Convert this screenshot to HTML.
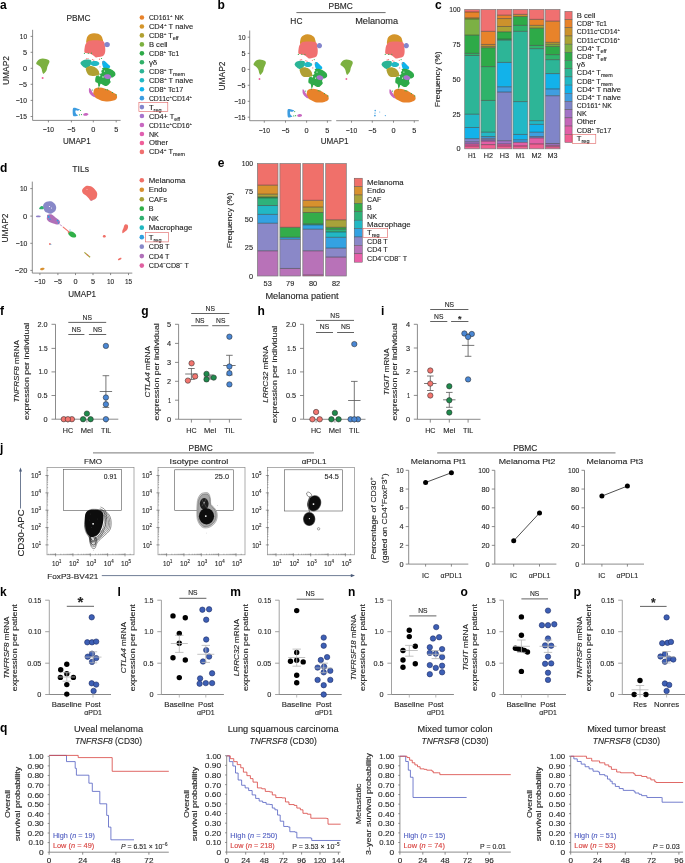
<!DOCTYPE html>
<html><head><meta charset="utf-8"><title>Figure</title>
<style>
html,body{margin:0;padding:0;background:#fff;width:685px;height:863px;overflow:hidden}
svg{display:block;will-change:transform}
text{font-family:"Liberation Sans",sans-serif}
</style></head><body>
<svg width="685" height="863" viewBox="0 0 685 863" font-family="Liberation Sans, sans-serif" fill="#262626">
<defs><filter id="rough" x="-10%" y="-10%" width="120%" height="120%"><feTurbulence type="fractalNoise" baseFrequency="1.6" numOctaves="1" seed="3" result="n"/><feDisplacementMap in="SourceGraphic" in2="n" scale="1.3" xChannelSelector="R" yChannelSelector="G"/></filter></defs>
<rect width="685" height="863" fill="#fff"/>
<text x="0.00" y="8.90" font-size="12" font-weight="bold" fill="#000">a</text>
<text x="78.50" y="21.35" font-size="8.20" textLength="24.17" lengthAdjust="spacingAndGlyphs" stroke="#262626" stroke-width="0.12" text-anchor="middle">PBMC</text>
<g filter="url(#rough)"><path d="M86.90,43.30 C85.50,42.72 86.45,40.22 86.60,39.00 C86.75,37.78 87.18,36.82 87.80,36.00 C88.42,35.18 89.28,34.57 90.30,34.10 C91.32,33.63 92.58,33.25 93.90,33.20 C95.22,33.15 96.97,33.33 98.20,33.80 C99.43,34.27 100.58,35.18 101.30,36.00 C102.02,36.82 102.30,37.77 102.50,38.70 C102.70,39.63 103.75,40.97 102.50,41.60 C101.25,42.23 97.60,42.22 95.00,42.50 C92.40,42.78 88.30,43.88 86.90,43.30Z" fill="#d4952a"/>
<path d="M87.20,42.10 C88.02,41.43 88.77,40.90 90.30,40.60 C91.83,40.30 94.37,40.25 96.40,40.30 C98.43,40.35 101.17,40.50 102.50,40.90 C103.83,41.30 103.98,41.78 104.40,42.70 C104.82,43.62 104.85,45.17 105.00,46.40 C105.15,47.63 105.35,48.87 105.30,50.10 C105.25,51.33 105.17,52.78 104.70,53.80 C104.23,54.82 103.58,55.65 102.50,56.20 C101.42,56.75 99.32,56.90 98.20,57.10 C97.08,57.30 96.62,57.65 95.80,57.40 C94.98,57.15 94.22,56.20 93.30,55.60 C92.38,55.00 91.52,54.22 90.30,53.80 C89.08,53.38 86.98,53.42 86.00,53.10 C85.02,52.78 84.62,52.82 84.40,51.90 C84.18,50.98 84.53,48.82 84.70,47.60 C84.87,46.38 84.98,45.52 85.40,44.60 C85.82,43.68 86.38,42.77 87.20,42.10Z" fill="#f07070"/>
<path d="M109.90,44.60 C109.90,45.11 109.69,45.72 109.37,46.13 C109.04,46.54 108.49,46.92 107.97,47.07 C107.44,47.23 106.76,47.23 106.23,47.07 C105.71,46.92 105.16,46.54 104.83,46.13 C104.51,45.72 104.30,45.11 104.30,44.60 C104.30,44.09 104.51,43.48 104.83,43.07 C105.16,42.66 105.71,42.28 106.23,42.13 C106.76,41.97 107.44,41.97 107.97,42.13 C108.49,42.28 109.04,42.66 109.37,43.07 C109.69,43.48 109.90,44.09 109.90,44.60Z" fill="#8385cc"/>
<path d="M80.80,62.30 C81.20,61.78 81.83,60.95 82.90,60.50 C83.97,60.05 85.87,59.65 87.20,59.60 C88.53,59.55 90.18,59.75 90.90,60.20 C91.62,60.65 91.60,61.43 91.50,62.30 C91.40,63.17 90.82,64.58 90.30,65.40 C89.78,66.22 89.22,66.78 88.40,67.20 C87.58,67.62 86.42,68.10 85.40,67.90 C84.38,67.70 83.12,66.72 82.30,66.00 C81.48,65.28 80.75,64.22 80.50,63.60 C80.25,62.98 80.40,62.82 80.80,62.30Z" fill="#2cb496"/>
<path d="M99.30,63.50 C99.30,63.92 99.07,64.39 98.70,64.75 C98.32,65.11 97.70,65.46 97.05,65.67 C96.40,65.87 95.55,66.00 94.80,66.00 C94.05,66.00 93.20,65.87 92.55,65.67 C91.90,65.46 91.28,65.11 90.90,64.75 C90.53,64.39 90.30,63.92 90.30,63.50 C90.30,63.08 90.53,62.61 90.90,62.25 C91.28,61.89 91.90,61.54 92.55,61.33 C93.20,61.13 94.05,61.00 94.80,61.00 C95.55,61.00 96.40,61.13 97.05,61.33 C97.70,61.54 98.32,61.89 98.70,62.25 C99.07,62.61 99.30,63.08 99.30,63.50Z" fill="#22b8c4"/>
<path d="M102.10,61.80 C102.40,60.93 103.58,60.58 104.50,60.90 C105.42,61.22 106.68,62.83 107.60,63.70 C108.52,64.57 109.70,65.38 110.00,66.10 C110.30,66.82 110.32,67.58 109.40,68.00 C108.48,68.42 105.62,68.92 104.50,68.60 C103.38,68.28 103.10,67.23 102.70,66.10 C102.30,64.97 101.80,62.67 102.10,61.80Z" fill="#10b4ec"/>
<path d="M102.70,68.00 C103.67,67.70 106.07,67.70 107.60,68.00 C109.13,68.30 110.68,69.08 111.90,69.80 C113.12,70.52 114.33,71.38 114.90,72.30 C115.47,73.22 115.60,74.48 115.30,75.30 C115.00,76.12 113.87,76.78 113.10,77.20 C112.33,77.62 111.22,77.30 110.70,77.80 C110.18,78.30 110.00,79.48 110.00,80.20 C110.00,80.92 110.90,81.38 110.70,82.10 C110.50,82.82 109.42,83.88 108.80,84.50 C108.18,85.12 107.72,85.58 107.00,85.80 C106.28,86.02 105.53,86.13 104.50,85.80 C103.47,85.47 101.58,83.73 100.80,83.80 C100.02,83.87 100.20,85.73 99.80,86.20 C99.40,86.67 98.73,87.08 98.40,86.60 C98.07,86.12 98.32,84.15 97.80,83.30 C97.28,82.45 95.62,82.62 95.30,81.50 C94.98,80.38 95.38,77.63 95.90,76.60 C96.42,75.57 97.58,76.02 98.40,75.30 C99.22,74.58 100.23,73.22 100.80,72.30 C101.37,71.38 101.48,70.52 101.80,69.80 C102.12,69.08 101.73,68.30 102.70,68.00Z" fill="#2eaa48"/>
<path d="M86.10,68.00 C86.82,67.28 88.87,66.20 90.40,66.10 C91.93,66.00 93.97,66.68 95.30,67.40 C96.63,68.12 97.68,69.28 98.40,70.40 C99.12,71.52 99.70,73.28 99.60,74.10 C99.50,74.92 98.72,75.00 97.80,75.30 C96.88,75.60 95.43,75.85 94.10,75.90 C92.77,75.95 90.92,76.00 89.80,75.60 C88.68,75.20 88.02,74.37 87.40,73.50 C86.78,72.63 86.32,71.32 86.10,70.40 C85.88,69.48 85.38,68.72 86.10,68.00Z" fill="#b0a030"/>
<path d="M111.24,77.24 C111.16,77.71 110.79,78.21 110.30,78.51 C109.82,78.81 109.03,79.02 108.33,79.05 C107.63,79.07 106.73,78.91 106.08,78.65 C105.42,78.39 104.76,77.92 104.41,77.47 C104.05,77.02 103.87,76.42 103.96,75.96 C104.04,75.49 104.41,74.99 104.90,74.69 C105.38,74.39 106.17,74.18 106.87,74.15 C107.57,74.13 108.47,74.29 109.12,74.55 C109.78,74.81 110.44,75.28 110.79,75.73 C111.15,76.18 111.33,76.78 111.24,77.24Z" fill="#a874cc"/>
<path d="M94.70,88.80 C95.72,88.08 97.97,87.65 99.60,87.60 C101.23,87.55 102.97,88.10 104.50,88.50 C106.03,88.90 107.37,89.33 108.80,90.00 C110.23,90.67 111.87,91.78 113.10,92.50 C114.33,93.22 115.53,93.58 116.20,94.30 C116.87,95.02 117.10,95.98 117.10,96.80 C117.10,97.62 116.97,98.53 116.20,99.20 C115.43,99.87 113.93,100.43 112.50,100.80 C111.07,101.17 109.23,101.35 107.60,101.40 C105.97,101.45 104.23,101.47 102.70,101.10 C101.17,100.73 99.63,99.82 98.40,99.20 C97.17,98.58 96.17,98.10 95.30,97.40 C94.43,96.70 93.50,95.92 93.20,95.00 C92.90,94.08 93.25,92.93 93.50,91.90 C93.75,90.87 93.68,89.52 94.70,88.80Z" fill="#e8822a"/>
<path d="M89.20,88.20 C89.45,88.00 89.88,88.18 90.40,88.80 C90.92,89.42 91.58,90.77 92.30,91.90 C93.02,93.03 94.20,94.73 94.70,95.60 C95.20,96.47 95.50,96.90 95.30,97.10 C95.10,97.30 94.22,97.15 93.50,96.80 C92.78,96.45 91.72,95.72 91.00,95.00 C90.28,94.28 89.55,93.33 89.20,92.50 C88.85,91.67 88.90,90.72 88.90,90.00 C88.90,89.28 88.95,88.40 89.20,88.20Z" fill="#c868c0"/>
<path d="M36.20,63.40 C36.20,62.78 36.95,61.70 37.50,61.00 C38.05,60.30 38.63,59.62 39.50,59.20 C40.37,58.78 41.62,58.53 42.70,58.50 C43.78,58.47 45.02,58.75 46.00,59.00 C46.98,59.25 48.02,59.53 48.60,60.00 C49.18,60.47 49.50,61.12 49.50,61.80 C49.50,62.48 48.97,63.23 48.60,64.10 C48.23,64.97 47.63,65.98 47.30,67.00 C46.97,68.02 46.98,69.28 46.60,70.20 C46.22,71.12 45.53,71.90 45.00,72.50 C44.47,73.10 43.83,73.85 43.40,73.80 C42.97,73.75 42.73,73.07 42.40,72.20 C42.07,71.33 41.83,69.58 41.40,68.60 C40.97,67.62 40.45,66.95 39.80,66.30 C39.15,65.65 38.10,65.18 37.50,64.70 C36.90,64.22 36.20,64.02 36.20,63.40Z" fill="#7cb040"/>
<circle cx="42.6" cy="78" r="1.0" fill="#f0609a"/>
<path d="M73.00,108.50 C73.38,107.72 74.33,107.80 75.00,107.80 C75.67,107.80 76.18,108.22 77.00,108.50 C77.82,108.78 79.73,109.15 79.90,109.50 C80.07,109.85 78.68,110.45 78.00,110.60 C77.32,110.75 76.23,110.17 75.80,110.40 C75.37,110.63 75.33,111.40 75.40,112.00 C75.47,112.60 75.77,113.42 76.20,114.00 C76.63,114.58 78.20,115.12 78.00,115.50 C77.80,115.88 75.80,116.25 75.00,116.30 C74.20,116.35 73.58,116.43 73.20,115.80 C72.82,115.17 72.73,113.72 72.70,112.50 C72.67,111.28 72.62,109.28 73.00,108.50Z" fill="#3c9ce0"/>
<path d="M88.39,114.17 C88.41,114.45 88.25,114.79 87.97,115.04 C87.69,115.28 87.19,115.53 86.72,115.66 C86.24,115.78 85.61,115.84 85.12,115.80 C84.63,115.75 84.09,115.60 83.78,115.40 C83.46,115.21 83.23,114.90 83.21,114.63 C83.19,114.35 83.35,114.01 83.63,113.76 C83.91,113.52 84.41,113.27 84.88,113.14 C85.36,113.02 85.99,112.96 86.48,113.00 C86.97,113.05 87.51,113.20 87.82,113.40 C88.14,113.59 88.37,113.90 88.39,114.17Z" fill="#c868c0"/>
<circle cx="80.5" cy="110.5" r="0.6" fill="#2eaa48"/>
<circle cx="81.5" cy="114.6" r="0.6" fill="#2eaa48"/>
<circle cx="79.5" cy="114.8" r="0.6" fill="#2eaa48"/>
<circle cx="105.8" cy="89.6" r="0.6" fill="#2eaa48"/>
<circle cx="107.6" cy="89.8" r="0.6" fill="#2eaa48"/>
<circle cx="112.5" cy="92.5" r="0.6" fill="#2eaa48"/>
<circle cx="116.2" cy="94.8" r="0.6" fill="#2eaa48"/>
<circle cx="92.3" cy="90.0" r="0.6" fill="#2eaa48"/>
<circle cx="86.5" cy="58.8" r="0.6" fill="#f07070"/>
<circle cx="88" cy="58.5" r="0.6" fill="#f07070"/>
<circle cx="92.5" cy="59.5" r="0.6" fill="#f07070"/>
<circle cx="93.8" cy="60.2" r="0.6" fill="#f07070"/>
<circle cx="99.5" cy="59.2" r="0.6" fill="#f07070"/>
<circle cx="84.4" cy="53.3" r="0.6" fill="#2eaa48"/>
<circle cx="88.2" cy="53.3" r="0.6" fill="#2eaa48"/>
<circle cx="91.5" cy="53.2" r="0.6" fill="#2eaa48"/>
<circle cx="101.5" cy="58.5" r="0.6" fill="#2eaa48"/>
<circle cx="98.5" cy="88.0" r="0.6" fill="#2eaa48"/>
<circle cx="103.0" cy="62.0" r="0.6" fill="#f07070"/>
<circle cx="100.0" cy="66.8" r="0.6" fill="#f07070"/>
<circle cx="100.5" cy="72.5" r="1.2" fill="#fff"/>
<circle cx="99.5" cy="75.5" r="0.9" fill="#fff"/>
<circle cx="101.8" cy="69.5" r="0.8" fill="#fff"/>
<circle cx="104.5" cy="71" r="0.6" fill="#fff"/>
<circle cx="103" cy="77" r="0.7" fill="#fff"/></g>
<line x1="32.60" y1="29.80" x2="32.60" y2="120.40" stroke="#6f6f6f" stroke-width="0.8" />
<line x1="30.60" y1="36.40" x2="32.60" y2="36.40" stroke="#6f6f6f" stroke-width="0.8" />
<text x="27.00" y="38.92" font-size="7.00" textLength="7.20" lengthAdjust="spacingAndGlyphs" stroke="#262626" stroke-width="0.12" text-anchor="end">10</text>
<line x1="30.60" y1="52.30" x2="32.60" y2="52.30" stroke="#6f6f6f" stroke-width="0.8" />
<text x="27.00" y="54.82" font-size="7.00" textLength="4.09" lengthAdjust="spacingAndGlyphs" stroke="#262626" stroke-width="0.12" text-anchor="end">5</text>
<line x1="30.60" y1="68.30" x2="32.60" y2="68.30" stroke="#6f6f6f" stroke-width="0.8" />
<text x="27.00" y="70.82" font-size="7.00" textLength="4.09" lengthAdjust="spacingAndGlyphs" stroke="#262626" stroke-width="0.12" text-anchor="end">0</text>
<line x1="30.60" y1="84.30" x2="32.60" y2="84.30" stroke="#6f6f6f" stroke-width="0.8" />
<text x="27.00" y="86.82" font-size="7.00" textLength="8.18" lengthAdjust="spacingAndGlyphs" stroke="#262626" stroke-width="0.12" text-anchor="end">−5</text>
<line x1="30.60" y1="100.40" x2="32.60" y2="100.40" stroke="#6f6f6f" stroke-width="0.8" />
<text x="27.00" y="102.92" font-size="7.00" textLength="11.29" lengthAdjust="spacingAndGlyphs" stroke="#262626" stroke-width="0.12" text-anchor="end">−10</text>
<line x1="30.60" y1="116.50" x2="32.60" y2="116.50" stroke="#6f6f6f" stroke-width="0.8" />
<text x="27.00" y="119.02" font-size="7.00" textLength="11.29" lengthAdjust="spacingAndGlyphs" stroke="#262626" stroke-width="0.12" text-anchor="end">−15</text>
<line x1="32.60" y1="120.40" x2="120.60" y2="120.40" stroke="#6f6f6f" stroke-width="0.8" />
<line x1="48.40" y1="120.40" x2="48.40" y2="122.40" stroke="#6f6f6f" stroke-width="0.8" />
<text x="48.40" y="131.62" font-size="7.00" textLength="11.29" lengthAdjust="spacingAndGlyphs" stroke="#262626" stroke-width="0.12" text-anchor="middle">−10</text>
<line x1="71.40" y1="120.40" x2="71.40" y2="122.40" stroke="#6f6f6f" stroke-width="0.8" />
<text x="71.40" y="131.62" font-size="7.00" textLength="8.18" lengthAdjust="spacingAndGlyphs" stroke="#262626" stroke-width="0.12" text-anchor="middle">−5</text>
<line x1="93.30" y1="120.40" x2="93.30" y2="122.40" stroke="#6f6f6f" stroke-width="0.8" />
<text x="93.30" y="131.62" font-size="7.00" textLength="4.09" lengthAdjust="spacingAndGlyphs" stroke="#262626" stroke-width="0.12" text-anchor="middle">0</text>
<line x1="116.20" y1="120.40" x2="116.20" y2="122.40" stroke="#6f6f6f" stroke-width="0.8" />
<text x="116.20" y="131.62" font-size="7.00" textLength="4.09" lengthAdjust="spacingAndGlyphs" stroke="#262626" stroke-width="0.12" text-anchor="middle">5</text>
<text x="76.80" y="144.05" font-size="8.20" textLength="27.81" lengthAdjust="spacingAndGlyphs" stroke="#262626" stroke-width="0.12" text-anchor="middle">UMAP1</text>
<text transform="translate(6.00,70.50) rotate(-90)" y="2.95" font-size="8.20" textLength="28.95" lengthAdjust="spacingAndGlyphs" stroke="#262626" stroke-width="0.12" text-anchor="middle">UMAP2</text>
<circle cx="141.90" cy="17.50" r="2.30" fill="#e8822a"/>
<text x="148.90" y="20.02" font-size="7.00" textLength="35.03" lengthAdjust="spacingAndGlyphs" stroke="#262626" stroke-width="0.12">CD161<tspan font-size="4.34" baseline-shift="2.66">+</tspan> NK</text>
<circle cx="141.90" cy="26.46" r="2.30" fill="#d4952a"/>
<text x="148.90" y="28.98" font-size="7.00" textLength="44.26" lengthAdjust="spacingAndGlyphs" stroke="#262626" stroke-width="0.12">CD4<tspan font-size="4.34" baseline-shift="2.66">+</tspan> T naive</text>
<circle cx="141.90" cy="35.42" r="2.30" fill="#b0a030"/>
<text x="148.90" y="37.94" font-size="7.00" textLength="29.63" lengthAdjust="spacingAndGlyphs" stroke="#262626" stroke-width="0.12">CD8<tspan font-size="4.34" baseline-shift="2.66">+</tspan> T<tspan font-size="5.04" baseline-shift="-1.82">eff</tspan></text>
<circle cx="141.90" cy="44.38" r="2.30" fill="#7cb040"/>
<text x="148.90" y="46.90" font-size="7.00" textLength="18.68" lengthAdjust="spacingAndGlyphs" stroke="#262626" stroke-width="0.12">B cell</text>
<circle cx="141.90" cy="53.34" r="2.30" fill="#2eaa48"/>
<text x="148.90" y="55.86" font-size="7.00" textLength="30.35" lengthAdjust="spacingAndGlyphs" stroke="#262626" stroke-width="0.12">CD8<tspan font-size="4.34" baseline-shift="2.66">+</tspan> Tc1</text>
<circle cx="141.90" cy="62.30" r="2.30" fill="#30b068"/>
<text x="148.90" y="64.82" font-size="7.00" textLength="8.43" lengthAdjust="spacingAndGlyphs" stroke="#262626" stroke-width="0.12">γδ</text>
<circle cx="141.90" cy="71.26" r="2.30" fill="#2cb496"/>
<text x="148.90" y="73.78" font-size="7.00" textLength="36.01" lengthAdjust="spacingAndGlyphs" stroke="#262626" stroke-width="0.12">CD8<tspan font-size="4.34" baseline-shift="2.66">+</tspan> T<tspan font-size="5.04" baseline-shift="-1.82">mem</tspan></text>
<circle cx="141.90" cy="80.22" r="2.30" fill="#22b8c4"/>
<text x="148.90" y="82.74" font-size="7.00" textLength="44.26" lengthAdjust="spacingAndGlyphs" stroke="#262626" stroke-width="0.12">CD8<tspan font-size="4.34" baseline-shift="2.66">+</tspan> T naive</text>
<circle cx="141.90" cy="89.18" r="2.30" fill="#10b4ec"/>
<text x="148.90" y="91.70" font-size="7.00" textLength="34.43" lengthAdjust="spacingAndGlyphs" stroke="#262626" stroke-width="0.12">CD8<tspan font-size="4.34" baseline-shift="2.66">+</tspan> Tc17</text>
<circle cx="141.90" cy="98.14" r="2.30" fill="#3c9ce0"/>
<text x="148.90" y="100.66" font-size="7.00" textLength="43.12" lengthAdjust="spacingAndGlyphs" stroke="#262626" stroke-width="0.12">CD11c<tspan font-size="4.34" baseline-shift="2.66">+</tspan>CD14<tspan font-size="4.34" baseline-shift="2.66">+</tspan></text>
<circle cx="141.90" cy="107.10" r="2.30" fill="#8385cc"/>
<text x="148.90" y="109.62" font-size="7.00" textLength="12.67" lengthAdjust="spacingAndGlyphs" stroke="#262626" stroke-width="0.12">T<tspan font-size="5.04" baseline-shift="-1.82">reg</tspan></text>
<circle cx="141.90" cy="116.06" r="2.30" fill="#a874cc"/>
<text x="148.90" y="118.58" font-size="7.00" textLength="31.18" lengthAdjust="spacingAndGlyphs" stroke="#262626" stroke-width="0.12">CD4+ T<tspan font-size="5.04" baseline-shift="-1.82">eff</tspan></text>
<circle cx="141.90" cy="125.02" r="2.30" fill="#c868c0"/>
<text x="148.90" y="127.54" font-size="7.00" textLength="43.12" lengthAdjust="spacingAndGlyphs" stroke="#262626" stroke-width="0.12">CD11c<tspan font-size="4.34" baseline-shift="2.66">+</tspan>CD16<tspan font-size="4.34" baseline-shift="2.66">+</tspan></text>
<circle cx="141.90" cy="133.98" r="2.30" fill="#e060b0"/>
<text x="148.90" y="136.50" font-size="7.00" textLength="9.92" lengthAdjust="spacingAndGlyphs" stroke="#262626" stroke-width="0.12">NK</text>
<circle cx="141.90" cy="142.94" r="2.30" fill="#f0609a"/>
<text x="148.90" y="145.46" font-size="7.00" textLength="19.30" lengthAdjust="spacingAndGlyphs" stroke="#262626" stroke-width="0.12">Other</text>
<circle cx="141.90" cy="151.90" r="2.30" fill="#f07070"/>
<text x="148.90" y="154.42" font-size="7.00" textLength="36.01" lengthAdjust="spacingAndGlyphs" stroke="#262626" stroke-width="0.12">CD4<tspan font-size="4.34" baseline-shift="2.66">+</tspan> T<tspan font-size="5.04" baseline-shift="-1.82">mem</tspan></text>
<rect x="138.90" y="102.60" width="28.90" height="8.80" fill="none" stroke="#e06060" stroke-width="0.6" />
<text x="217.60" y="8.90" font-size="12" font-weight="bold" fill="#000">b</text>
<text x="340.70" y="9.15" font-size="8.20" textLength="24.17" lengthAdjust="spacingAndGlyphs" stroke="#262626" stroke-width="0.12" text-anchor="middle">PBMC</text>
<line x1="296.40" y1="12.60" x2="385.60" y2="12.60" stroke="#444" stroke-width="0.8" />
<text x="296.40" y="24.15" font-size="8.20" textLength="12.08" lengthAdjust="spacingAndGlyphs" stroke="#262626" stroke-width="0.12" text-anchor="middle">HC</text>
<text x="376.60" y="24.15" font-size="8.20" textLength="42.83" lengthAdjust="spacingAndGlyphs" stroke="#262626" stroke-width="0.12" text-anchor="middle">Melanoma</text>
<g filter="url(#rough)"><g transform="translate(306.6,69.4) scale(0.9292,1) translate(-93.3,-68.3)"><path d="M86.90,43.30 C85.50,42.72 86.45,40.22 86.60,39.00 C86.75,37.78 87.18,36.82 87.80,36.00 C88.42,35.18 89.28,34.57 90.30,34.10 C91.32,33.63 92.58,33.25 93.90,33.20 C95.22,33.15 96.97,33.33 98.20,33.80 C99.43,34.27 100.58,35.18 101.30,36.00 C102.02,36.82 102.30,37.77 102.50,38.70 C102.70,39.63 103.75,40.97 102.50,41.60 C101.25,42.23 97.60,42.22 95.00,42.50 C92.40,42.78 88.30,43.88 86.90,43.30Z" fill="#d4952a"/>
<path d="M87.20,42.10 C88.02,41.43 88.77,40.90 90.30,40.60 C91.83,40.30 94.37,40.25 96.40,40.30 C98.43,40.35 101.17,40.50 102.50,40.90 C103.83,41.30 103.98,41.78 104.40,42.70 C104.82,43.62 104.85,45.17 105.00,46.40 C105.15,47.63 105.35,48.87 105.30,50.10 C105.25,51.33 105.17,52.78 104.70,53.80 C104.23,54.82 103.58,55.65 102.50,56.20 C101.42,56.75 99.32,56.90 98.20,57.10 C97.08,57.30 96.62,57.65 95.80,57.40 C94.98,57.15 94.22,56.20 93.30,55.60 C92.38,55.00 91.52,54.22 90.30,53.80 C89.08,53.38 86.98,53.42 86.00,53.10 C85.02,52.78 84.62,52.82 84.40,51.90 C84.18,50.98 84.53,48.82 84.70,47.60 C84.87,46.38 84.98,45.52 85.40,44.60 C85.82,43.68 86.38,42.77 87.20,42.10Z" fill="#f07070"/>
<path d="M109.90,44.60 C109.90,45.11 109.69,45.72 109.37,46.13 C109.04,46.54 108.49,46.92 107.97,47.07 C107.44,47.23 106.76,47.23 106.23,47.07 C105.71,46.92 105.16,46.54 104.83,46.13 C104.51,45.72 104.30,45.11 104.30,44.60 C104.30,44.09 104.51,43.48 104.83,43.07 C105.16,42.66 105.71,42.28 106.23,42.13 C106.76,41.97 107.44,41.97 107.97,42.13 C108.49,42.28 109.04,42.66 109.37,43.07 C109.69,43.48 109.90,44.09 109.90,44.60Z" fill="#8385cc"/>
<path d="M80.80,62.30 C81.20,61.78 81.83,60.95 82.90,60.50 C83.97,60.05 85.87,59.65 87.20,59.60 C88.53,59.55 90.18,59.75 90.90,60.20 C91.62,60.65 91.60,61.43 91.50,62.30 C91.40,63.17 90.82,64.58 90.30,65.40 C89.78,66.22 89.22,66.78 88.40,67.20 C87.58,67.62 86.42,68.10 85.40,67.90 C84.38,67.70 83.12,66.72 82.30,66.00 C81.48,65.28 80.75,64.22 80.50,63.60 C80.25,62.98 80.40,62.82 80.80,62.30Z" fill="#2cb496"/>
<path d="M99.30,63.50 C99.30,63.92 99.07,64.39 98.70,64.75 C98.32,65.11 97.70,65.46 97.05,65.67 C96.40,65.87 95.55,66.00 94.80,66.00 C94.05,66.00 93.20,65.87 92.55,65.67 C91.90,65.46 91.28,65.11 90.90,64.75 C90.53,64.39 90.30,63.92 90.30,63.50 C90.30,63.08 90.53,62.61 90.90,62.25 C91.28,61.89 91.90,61.54 92.55,61.33 C93.20,61.13 94.05,61.00 94.80,61.00 C95.55,61.00 96.40,61.13 97.05,61.33 C97.70,61.54 98.32,61.89 98.70,62.25 C99.07,62.61 99.30,63.08 99.30,63.50Z" fill="#22b8c4"/>
<path d="M102.10,61.80 C102.40,60.93 103.58,60.58 104.50,60.90 C105.42,61.22 106.68,62.83 107.60,63.70 C108.52,64.57 109.70,65.38 110.00,66.10 C110.30,66.82 110.32,67.58 109.40,68.00 C108.48,68.42 105.62,68.92 104.50,68.60 C103.38,68.28 103.10,67.23 102.70,66.10 C102.30,64.97 101.80,62.67 102.10,61.80Z" fill="#10b4ec"/>
<path d="M102.70,68.00 C103.67,67.70 106.07,67.70 107.60,68.00 C109.13,68.30 110.68,69.08 111.90,69.80 C113.12,70.52 114.33,71.38 114.90,72.30 C115.47,73.22 115.60,74.48 115.30,75.30 C115.00,76.12 113.87,76.78 113.10,77.20 C112.33,77.62 111.22,77.30 110.70,77.80 C110.18,78.30 110.00,79.48 110.00,80.20 C110.00,80.92 110.90,81.38 110.70,82.10 C110.50,82.82 109.42,83.88 108.80,84.50 C108.18,85.12 107.72,85.58 107.00,85.80 C106.28,86.02 105.53,86.13 104.50,85.80 C103.47,85.47 101.58,83.73 100.80,83.80 C100.02,83.87 100.20,85.73 99.80,86.20 C99.40,86.67 98.73,87.08 98.40,86.60 C98.07,86.12 98.32,84.15 97.80,83.30 C97.28,82.45 95.62,82.62 95.30,81.50 C94.98,80.38 95.38,77.63 95.90,76.60 C96.42,75.57 97.58,76.02 98.40,75.30 C99.22,74.58 100.23,73.22 100.80,72.30 C101.37,71.38 101.48,70.52 101.80,69.80 C102.12,69.08 101.73,68.30 102.70,68.00Z" fill="#2eaa48"/>
<path d="M86.10,68.00 C86.82,67.28 88.87,66.20 90.40,66.10 C91.93,66.00 93.97,66.68 95.30,67.40 C96.63,68.12 97.68,69.28 98.40,70.40 C99.12,71.52 99.70,73.28 99.60,74.10 C99.50,74.92 98.72,75.00 97.80,75.30 C96.88,75.60 95.43,75.85 94.10,75.90 C92.77,75.95 90.92,76.00 89.80,75.60 C88.68,75.20 88.02,74.37 87.40,73.50 C86.78,72.63 86.32,71.32 86.10,70.40 C85.88,69.48 85.38,68.72 86.10,68.00Z" fill="#b0a030"/>
<path d="M111.24,77.24 C111.16,77.71 110.79,78.21 110.30,78.51 C109.82,78.81 109.03,79.02 108.33,79.05 C107.63,79.07 106.73,78.91 106.08,78.65 C105.42,78.39 104.76,77.92 104.41,77.47 C104.05,77.02 103.87,76.42 103.96,75.96 C104.04,75.49 104.41,74.99 104.90,74.69 C105.38,74.39 106.17,74.18 106.87,74.15 C107.57,74.13 108.47,74.29 109.12,74.55 C109.78,74.81 110.44,75.28 110.79,75.73 C111.15,76.18 111.33,76.78 111.24,77.24Z" fill="#a874cc"/>
<path d="M94.70,88.80 C95.72,88.08 97.97,87.65 99.60,87.60 C101.23,87.55 102.97,88.10 104.50,88.50 C106.03,88.90 107.37,89.33 108.80,90.00 C110.23,90.67 111.87,91.78 113.10,92.50 C114.33,93.22 115.53,93.58 116.20,94.30 C116.87,95.02 117.10,95.98 117.10,96.80 C117.10,97.62 116.97,98.53 116.20,99.20 C115.43,99.87 113.93,100.43 112.50,100.80 C111.07,101.17 109.23,101.35 107.60,101.40 C105.97,101.45 104.23,101.47 102.70,101.10 C101.17,100.73 99.63,99.82 98.40,99.20 C97.17,98.58 96.17,98.10 95.30,97.40 C94.43,96.70 93.50,95.92 93.20,95.00 C92.90,94.08 93.25,92.93 93.50,91.90 C93.75,90.87 93.68,89.52 94.70,88.80Z" fill="#e8822a"/>
<path d="M89.20,88.20 C89.45,88.00 89.88,88.18 90.40,88.80 C90.92,89.42 91.58,90.77 92.30,91.90 C93.02,93.03 94.20,94.73 94.70,95.60 C95.20,96.47 95.50,96.90 95.30,97.10 C95.10,97.30 94.22,97.15 93.50,96.80 C92.78,96.45 91.72,95.72 91.00,95.00 C90.28,94.28 89.55,93.33 89.20,92.50 C88.85,91.67 88.90,90.72 88.90,90.00 C88.90,89.28 88.95,88.40 89.20,88.20Z" fill="#c868c0"/>
<path d="M36.20,63.40 C36.20,62.78 36.95,61.70 37.50,61.00 C38.05,60.30 38.63,59.62 39.50,59.20 C40.37,58.78 41.62,58.53 42.70,58.50 C43.78,58.47 45.02,58.75 46.00,59.00 C46.98,59.25 48.02,59.53 48.60,60.00 C49.18,60.47 49.50,61.12 49.50,61.80 C49.50,62.48 48.97,63.23 48.60,64.10 C48.23,64.97 47.63,65.98 47.30,67.00 C46.97,68.02 46.98,69.28 46.60,70.20 C46.22,71.12 45.53,71.90 45.00,72.50 C44.47,73.10 43.83,73.85 43.40,73.80 C42.97,73.75 42.73,73.07 42.40,72.20 C42.07,71.33 41.83,69.58 41.40,68.60 C40.97,67.62 40.45,66.95 39.80,66.30 C39.15,65.65 38.10,65.18 37.50,64.70 C36.90,64.22 36.20,64.02 36.20,63.40Z" fill="#7cb040"/>
<circle cx="42.6" cy="78" r="1.0" fill="#f0609a"/>
<path d="M73.00,108.50 C73.38,107.72 74.33,107.80 75.00,107.80 C75.67,107.80 76.18,108.22 77.00,108.50 C77.82,108.78 79.73,109.15 79.90,109.50 C80.07,109.85 78.68,110.45 78.00,110.60 C77.32,110.75 76.23,110.17 75.80,110.40 C75.37,110.63 75.33,111.40 75.40,112.00 C75.47,112.60 75.77,113.42 76.20,114.00 C76.63,114.58 78.20,115.12 78.00,115.50 C77.80,115.88 75.80,116.25 75.00,116.30 C74.20,116.35 73.58,116.43 73.20,115.80 C72.82,115.17 72.73,113.72 72.70,112.50 C72.67,111.28 72.62,109.28 73.00,108.50Z" fill="#3c9ce0"/>
<path d="M88.39,114.17 C88.41,114.45 88.25,114.79 87.97,115.04 C87.69,115.28 87.19,115.53 86.72,115.66 C86.24,115.78 85.61,115.84 85.12,115.80 C84.63,115.75 84.09,115.60 83.78,115.40 C83.46,115.21 83.23,114.90 83.21,114.63 C83.19,114.35 83.35,114.01 83.63,113.76 C83.91,113.52 84.41,113.27 84.88,113.14 C85.36,113.02 85.99,112.96 86.48,113.00 C86.97,113.05 87.51,113.20 87.82,113.40 C88.14,113.59 88.37,113.90 88.39,114.17Z" fill="#c868c0"/>
<circle cx="80.5" cy="110.5" r="0.6" fill="#2eaa48"/>
<circle cx="81.5" cy="114.6" r="0.6" fill="#2eaa48"/>
<circle cx="79.5" cy="114.8" r="0.6" fill="#2eaa48"/>
<circle cx="105.8" cy="89.6" r="0.6" fill="#2eaa48"/>
<circle cx="107.6" cy="89.8" r="0.6" fill="#2eaa48"/>
<circle cx="112.5" cy="92.5" r="0.6" fill="#2eaa48"/>
<circle cx="116.2" cy="94.8" r="0.6" fill="#2eaa48"/>
<circle cx="92.3" cy="90.0" r="0.6" fill="#2eaa48"/>
<circle cx="86.5" cy="58.8" r="0.6" fill="#f07070"/>
<circle cx="88" cy="58.5" r="0.6" fill="#f07070"/>
<circle cx="92.5" cy="59.5" r="0.6" fill="#f07070"/>
<circle cx="93.8" cy="60.2" r="0.6" fill="#f07070"/>
<circle cx="99.5" cy="59.2" r="0.6" fill="#f07070"/>
<circle cx="84.4" cy="53.3" r="0.6" fill="#2eaa48"/>
<circle cx="88.2" cy="53.3" r="0.6" fill="#2eaa48"/>
<circle cx="91.5" cy="53.2" r="0.6" fill="#2eaa48"/>
<circle cx="101.5" cy="58.5" r="0.6" fill="#2eaa48"/>
<circle cx="98.5" cy="88.0" r="0.6" fill="#2eaa48"/>
<circle cx="103.0" cy="62.0" r="0.6" fill="#f07070"/>
<circle cx="100.0" cy="66.8" r="0.6" fill="#f07070"/>
<circle cx="100.5" cy="72.5" r="1.2" fill="#fff"/>
<circle cx="99.5" cy="75.5" r="0.9" fill="#fff"/>
<circle cx="101.8" cy="69.5" r="0.8" fill="#fff"/>
<circle cx="104.5" cy="71" r="0.6" fill="#fff"/>
<circle cx="103" cy="77" r="0.7" fill="#fff"/></g></g>
<g filter="url(#rough)"><g transform="translate(393.5,69.4) scale(0.9292,1) translate(-93.3,-68.3)"><path d="M86.90,43.30 C85.50,42.72 86.45,40.22 86.60,39.00 C86.75,37.78 87.18,36.82 87.80,36.00 C88.42,35.18 89.28,34.57 90.30,34.10 C91.32,33.63 92.58,33.25 93.90,33.20 C95.22,33.15 96.97,33.33 98.20,33.80 C99.43,34.27 100.58,35.18 101.30,36.00 C102.02,36.82 102.30,37.77 102.50,38.70 C102.70,39.63 103.75,40.97 102.50,41.60 C101.25,42.23 97.60,42.22 95.00,42.50 C92.40,42.78 88.30,43.88 86.90,43.30Z" fill="#d4952a"/>
<path d="M87.20,42.10 C88.02,41.43 88.77,40.90 90.30,40.60 C91.83,40.30 94.37,40.25 96.40,40.30 C98.43,40.35 101.17,40.50 102.50,40.90 C103.83,41.30 103.98,41.78 104.40,42.70 C104.82,43.62 104.85,45.17 105.00,46.40 C105.15,47.63 105.35,48.87 105.30,50.10 C105.25,51.33 105.17,52.78 104.70,53.80 C104.23,54.82 103.58,55.65 102.50,56.20 C101.42,56.75 99.32,56.90 98.20,57.10 C97.08,57.30 96.62,57.65 95.80,57.40 C94.98,57.15 94.22,56.20 93.30,55.60 C92.38,55.00 91.52,54.22 90.30,53.80 C89.08,53.38 86.98,53.42 86.00,53.10 C85.02,52.78 84.62,52.82 84.40,51.90 C84.18,50.98 84.53,48.82 84.70,47.60 C84.87,46.38 84.98,45.52 85.40,44.60 C85.82,43.68 86.38,42.77 87.20,42.10Z" fill="#f07070"/>
<path d="M109.90,44.60 C109.90,45.11 109.69,45.72 109.37,46.13 C109.04,46.54 108.49,46.92 107.97,47.07 C107.44,47.23 106.76,47.23 106.23,47.07 C105.71,46.92 105.16,46.54 104.83,46.13 C104.51,45.72 104.30,45.11 104.30,44.60 C104.30,44.09 104.51,43.48 104.83,43.07 C105.16,42.66 105.71,42.28 106.23,42.13 C106.76,41.97 107.44,41.97 107.97,42.13 C108.49,42.28 109.04,42.66 109.37,43.07 C109.69,43.48 109.90,44.09 109.90,44.60Z" fill="#8385cc"/>
<path d="M80.80,62.30 C81.20,61.78 81.83,60.95 82.90,60.50 C83.97,60.05 85.87,59.65 87.20,59.60 C88.53,59.55 90.18,59.75 90.90,60.20 C91.62,60.65 91.60,61.43 91.50,62.30 C91.40,63.17 90.82,64.58 90.30,65.40 C89.78,66.22 89.22,66.78 88.40,67.20 C87.58,67.62 86.42,68.10 85.40,67.90 C84.38,67.70 83.12,66.72 82.30,66.00 C81.48,65.28 80.75,64.22 80.50,63.60 C80.25,62.98 80.40,62.82 80.80,62.30Z" fill="#2cb496"/>
<path d="M99.30,63.50 C99.30,63.92 99.07,64.39 98.70,64.75 C98.32,65.11 97.70,65.46 97.05,65.67 C96.40,65.87 95.55,66.00 94.80,66.00 C94.05,66.00 93.20,65.87 92.55,65.67 C91.90,65.46 91.28,65.11 90.90,64.75 C90.53,64.39 90.30,63.92 90.30,63.50 C90.30,63.08 90.53,62.61 90.90,62.25 C91.28,61.89 91.90,61.54 92.55,61.33 C93.20,61.13 94.05,61.00 94.80,61.00 C95.55,61.00 96.40,61.13 97.05,61.33 C97.70,61.54 98.32,61.89 98.70,62.25 C99.07,62.61 99.30,63.08 99.30,63.50Z" fill="#22b8c4"/>
<path d="M102.10,61.80 C102.40,60.93 103.58,60.58 104.50,60.90 C105.42,61.22 106.68,62.83 107.60,63.70 C108.52,64.57 109.70,65.38 110.00,66.10 C110.30,66.82 110.32,67.58 109.40,68.00 C108.48,68.42 105.62,68.92 104.50,68.60 C103.38,68.28 103.10,67.23 102.70,66.10 C102.30,64.97 101.80,62.67 102.10,61.80Z" fill="#10b4ec"/>
<path d="M102.70,68.00 C103.67,67.70 106.07,67.70 107.60,68.00 C109.13,68.30 110.68,69.08 111.90,69.80 C113.12,70.52 114.33,71.38 114.90,72.30 C115.47,73.22 115.60,74.48 115.30,75.30 C115.00,76.12 113.87,76.78 113.10,77.20 C112.33,77.62 111.22,77.30 110.70,77.80 C110.18,78.30 110.00,79.48 110.00,80.20 C110.00,80.92 110.90,81.38 110.70,82.10 C110.50,82.82 109.42,83.88 108.80,84.50 C108.18,85.12 107.72,85.58 107.00,85.80 C106.28,86.02 105.53,86.13 104.50,85.80 C103.47,85.47 101.58,83.73 100.80,83.80 C100.02,83.87 100.20,85.73 99.80,86.20 C99.40,86.67 98.73,87.08 98.40,86.60 C98.07,86.12 98.32,84.15 97.80,83.30 C97.28,82.45 95.62,82.62 95.30,81.50 C94.98,80.38 95.38,77.63 95.90,76.60 C96.42,75.57 97.58,76.02 98.40,75.30 C99.22,74.58 100.23,73.22 100.80,72.30 C101.37,71.38 101.48,70.52 101.80,69.80 C102.12,69.08 101.73,68.30 102.70,68.00Z" fill="#2eaa48"/>
<path d="M86.10,68.00 C86.82,67.28 88.87,66.20 90.40,66.10 C91.93,66.00 93.97,66.68 95.30,67.40 C96.63,68.12 97.68,69.28 98.40,70.40 C99.12,71.52 99.70,73.28 99.60,74.10 C99.50,74.92 98.72,75.00 97.80,75.30 C96.88,75.60 95.43,75.85 94.10,75.90 C92.77,75.95 90.92,76.00 89.80,75.60 C88.68,75.20 88.02,74.37 87.40,73.50 C86.78,72.63 86.32,71.32 86.10,70.40 C85.88,69.48 85.38,68.72 86.10,68.00Z" fill="#b0a030"/>
<path d="M111.24,77.24 C111.16,77.71 110.79,78.21 110.30,78.51 C109.82,78.81 109.03,79.02 108.33,79.05 C107.63,79.07 106.73,78.91 106.08,78.65 C105.42,78.39 104.76,77.92 104.41,77.47 C104.05,77.02 103.87,76.42 103.96,75.96 C104.04,75.49 104.41,74.99 104.90,74.69 C105.38,74.39 106.17,74.18 106.87,74.15 C107.57,74.13 108.47,74.29 109.12,74.55 C109.78,74.81 110.44,75.28 110.79,75.73 C111.15,76.18 111.33,76.78 111.24,77.24Z" fill="#a874cc"/>
<path d="M94.70,88.80 C95.72,88.08 97.97,87.65 99.60,87.60 C101.23,87.55 102.97,88.10 104.50,88.50 C106.03,88.90 107.37,89.33 108.80,90.00 C110.23,90.67 111.87,91.78 113.10,92.50 C114.33,93.22 115.53,93.58 116.20,94.30 C116.87,95.02 117.10,95.98 117.10,96.80 C117.10,97.62 116.97,98.53 116.20,99.20 C115.43,99.87 113.93,100.43 112.50,100.80 C111.07,101.17 109.23,101.35 107.60,101.40 C105.97,101.45 104.23,101.47 102.70,101.10 C101.17,100.73 99.63,99.82 98.40,99.20 C97.17,98.58 96.17,98.10 95.30,97.40 C94.43,96.70 93.50,95.92 93.20,95.00 C92.90,94.08 93.25,92.93 93.50,91.90 C93.75,90.87 93.68,89.52 94.70,88.80Z" fill="#e8822a"/>
<path d="M89.20,88.20 C89.45,88.00 89.88,88.18 90.40,88.80 C90.92,89.42 91.58,90.77 92.30,91.90 C93.02,93.03 94.20,94.73 94.70,95.60 C95.20,96.47 95.50,96.90 95.30,97.10 C95.10,97.30 94.22,97.15 93.50,96.80 C92.78,96.45 91.72,95.72 91.00,95.00 C90.28,94.28 89.55,93.33 89.20,92.50 C88.85,91.67 88.90,90.72 88.90,90.00 C88.90,89.28 88.95,88.40 89.20,88.20Z" fill="#c868c0"/>
<path d="M36.20,63.40 C36.20,62.78 36.95,61.70 37.50,61.00 C38.05,60.30 38.63,59.62 39.50,59.20 C40.37,58.78 41.62,58.53 42.70,58.50 C43.78,58.47 45.02,58.75 46.00,59.00 C46.98,59.25 48.02,59.53 48.60,60.00 C49.18,60.47 49.50,61.12 49.50,61.80 C49.50,62.48 48.97,63.23 48.60,64.10 C48.23,64.97 47.63,65.98 47.30,67.00 C46.97,68.02 46.98,69.28 46.60,70.20 C46.22,71.12 45.53,71.90 45.00,72.50 C44.47,73.10 43.83,73.85 43.40,73.80 C42.97,73.75 42.73,73.07 42.40,72.20 C42.07,71.33 41.83,69.58 41.40,68.60 C40.97,67.62 40.45,66.95 39.80,66.30 C39.15,65.65 38.10,65.18 37.50,64.70 C36.90,64.22 36.20,64.02 36.20,63.40Z" fill="#7cb040"/>
<circle cx="42.6" cy="78" r="1.0" fill="#f0609a"/>
<circle cx="73.6" cy="109.5" r="0.8" fill="#3c9ce0"/>
<circle cx="73.4" cy="112" r="0.7" fill="#3c9ce0"/>
<circle cx="73.3" cy="114.5" r="0.9" fill="#3c9ce0"/>
<circle cx="78.5" cy="111" r="0.5" fill="#3c9ce0"/>
<circle cx="84.5" cy="114.5" r="0.6" fill="#3c9ce0"/>
<circle cx="105.8" cy="89.6" r="0.6" fill="#2eaa48"/>
<circle cx="107.6" cy="89.8" r="0.6" fill="#2eaa48"/>
<circle cx="112.5" cy="92.5" r="0.6" fill="#2eaa48"/>
<circle cx="116.2" cy="94.8" r="0.6" fill="#2eaa48"/>
<circle cx="92.3" cy="90.0" r="0.6" fill="#2eaa48"/>
<circle cx="86.5" cy="58.8" r="0.6" fill="#f07070"/>
<circle cx="88" cy="58.5" r="0.6" fill="#f07070"/>
<circle cx="92.5" cy="59.5" r="0.6" fill="#f07070"/>
<circle cx="93.8" cy="60.2" r="0.6" fill="#f07070"/>
<circle cx="99.5" cy="59.2" r="0.6" fill="#f07070"/>
<circle cx="84.4" cy="53.3" r="0.6" fill="#2eaa48"/>
<circle cx="88.2" cy="53.3" r="0.6" fill="#2eaa48"/>
<circle cx="91.5" cy="53.2" r="0.6" fill="#2eaa48"/>
<circle cx="101.5" cy="58.5" r="0.6" fill="#2eaa48"/>
<circle cx="98.5" cy="88.0" r="0.6" fill="#2eaa48"/>
<circle cx="103.0" cy="62.0" r="0.6" fill="#f07070"/>
<circle cx="100.0" cy="66.8" r="0.6" fill="#f07070"/>
<circle cx="100.5" cy="72.5" r="1.2" fill="#fff"/>
<circle cx="99.5" cy="75.5" r="0.9" fill="#fff"/>
<circle cx="101.8" cy="69.5" r="0.8" fill="#fff"/>
<circle cx="104.5" cy="71" r="0.6" fill="#fff"/>
<circle cx="103" cy="77" r="0.7" fill="#fff"/></g></g>
<line x1="249.70" y1="30.50" x2="249.70" y2="120.70" stroke="#6f6f6f" stroke-width="0.8" />
<line x1="247.70" y1="37.20" x2="249.70" y2="37.20" stroke="#6f6f6f" stroke-width="0.8" />
<text x="245.50" y="39.72" font-size="7.00" textLength="7.20" lengthAdjust="spacingAndGlyphs" stroke="#262626" stroke-width="0.12" text-anchor="end">10</text>
<line x1="247.70" y1="53.40" x2="249.70" y2="53.40" stroke="#6f6f6f" stroke-width="0.8" />
<text x="245.50" y="55.92" font-size="7.00" textLength="4.09" lengthAdjust="spacingAndGlyphs" stroke="#262626" stroke-width="0.12" text-anchor="end">5</text>
<line x1="247.70" y1="69.40" x2="249.70" y2="69.40" stroke="#6f6f6f" stroke-width="0.8" />
<text x="245.50" y="71.92" font-size="7.00" textLength="4.09" lengthAdjust="spacingAndGlyphs" stroke="#262626" stroke-width="0.12" text-anchor="end">0</text>
<line x1="247.70" y1="85.30" x2="249.70" y2="85.30" stroke="#6f6f6f" stroke-width="0.8" />
<text x="245.50" y="87.82" font-size="7.00" textLength="8.18" lengthAdjust="spacingAndGlyphs" stroke="#262626" stroke-width="0.12" text-anchor="end">−5</text>
<line x1="247.70" y1="101.30" x2="249.70" y2="101.30" stroke="#6f6f6f" stroke-width="0.8" />
<text x="245.50" y="103.82" font-size="7.00" textLength="11.29" lengthAdjust="spacingAndGlyphs" stroke="#262626" stroke-width="0.12" text-anchor="end">−10</text>
<line x1="247.70" y1="117.20" x2="249.70" y2="117.20" stroke="#6f6f6f" stroke-width="0.8" />
<text x="245.50" y="119.72" font-size="7.00" textLength="11.29" lengthAdjust="spacingAndGlyphs" stroke="#262626" stroke-width="0.12" text-anchor="end">−15</text>
<line x1="249.70" y1="120.70" x2="331.50" y2="120.70" stroke="#6f6f6f" stroke-width="0.8" />
<line x1="264.30" y1="120.70" x2="264.30" y2="122.70" stroke="#6f6f6f" stroke-width="0.8" />
<text x="264.30" y="132.72" font-size="7.00" textLength="11.29" lengthAdjust="spacingAndGlyphs" stroke="#262626" stroke-width="0.12" text-anchor="middle">−10</text>
<line x1="285.50" y1="120.70" x2="285.50" y2="122.70" stroke="#6f6f6f" stroke-width="0.8" />
<text x="285.50" y="132.72" font-size="7.00" textLength="8.18" lengthAdjust="spacingAndGlyphs" stroke="#262626" stroke-width="0.12" text-anchor="middle">−5</text>
<line x1="306.60" y1="120.70" x2="306.60" y2="122.70" stroke="#6f6f6f" stroke-width="0.8" />
<text x="306.60" y="132.72" font-size="7.00" textLength="4.09" lengthAdjust="spacingAndGlyphs" stroke="#262626" stroke-width="0.12" text-anchor="middle">0</text>
<line x1="327.40" y1="120.70" x2="327.40" y2="122.70" stroke="#6f6f6f" stroke-width="0.8" />
<text x="327.40" y="132.72" font-size="7.00" textLength="4.09" lengthAdjust="spacingAndGlyphs" stroke="#262626" stroke-width="0.12" text-anchor="middle">5</text>
<line x1="336.20" y1="120.70" x2="418.80" y2="120.70" stroke="#6f6f6f" stroke-width="0.8" />
<line x1="351.50" y1="120.70" x2="351.50" y2="122.70" stroke="#6f6f6f" stroke-width="0.8" />
<text x="351.50" y="132.72" font-size="7.00" textLength="11.29" lengthAdjust="spacingAndGlyphs" stroke="#262626" stroke-width="0.12" text-anchor="middle">−10</text>
<line x1="372.30" y1="120.70" x2="372.30" y2="122.70" stroke="#6f6f6f" stroke-width="0.8" />
<text x="372.30" y="132.72" font-size="7.00" textLength="8.18" lengthAdjust="spacingAndGlyphs" stroke="#262626" stroke-width="0.12" text-anchor="middle">−5</text>
<line x1="393.50" y1="120.70" x2="393.50" y2="122.70" stroke="#6f6f6f" stroke-width="0.8" />
<text x="393.50" y="132.72" font-size="7.00" textLength="4.09" lengthAdjust="spacingAndGlyphs" stroke="#262626" stroke-width="0.12" text-anchor="middle">0</text>
<line x1="414.30" y1="120.70" x2="414.30" y2="122.70" stroke="#6f6f6f" stroke-width="0.8" />
<text x="414.30" y="132.72" font-size="7.00" textLength="4.09" lengthAdjust="spacingAndGlyphs" stroke="#262626" stroke-width="0.12" text-anchor="middle">5</text>
<text x="334.70" y="143.65" font-size="8.20" textLength="27.81" lengthAdjust="spacingAndGlyphs" stroke="#262626" stroke-width="0.12" text-anchor="middle">UMAP1</text>
<text transform="translate(221.60,76.00) rotate(-90)" y="2.95" font-size="8.20" textLength="28.95" lengthAdjust="spacingAndGlyphs" stroke="#262626" stroke-width="0.12" text-anchor="middle">UMAP2</text>
<text x="435.00" y="8.90" font-size="12" font-weight="bold" fill="#000">c</text>
<text x="460.60" y="151.32" font-size="7.00" textLength="4.09" lengthAdjust="spacingAndGlyphs" stroke="#262626" stroke-width="0.12" text-anchor="end">0</text>
<text x="460.60" y="116.50" font-size="7.00" textLength="8.18" lengthAdjust="spacingAndGlyphs" stroke="#262626" stroke-width="0.12" text-anchor="end">25</text>
<text x="460.60" y="81.67" font-size="7.00" textLength="8.18" lengthAdjust="spacingAndGlyphs" stroke="#262626" stroke-width="0.12" text-anchor="end">50</text>
<text x="460.60" y="46.85" font-size="7.00" textLength="8.18" lengthAdjust="spacingAndGlyphs" stroke="#262626" stroke-width="0.12" text-anchor="end">75</text>
<text x="460.60" y="12.02" font-size="7.00" textLength="11.29" lengthAdjust="spacingAndGlyphs" stroke="#262626" stroke-width="0.12" text-anchor="end">100</text>
<text transform="translate(437.10,79.30) rotate(-90)" y="2.81" font-size="7.80" textLength="55.74" lengthAdjust="spacingAndGlyphs" stroke="#262626" stroke-width="0.12" text-anchor="middle">Frequency (%)</text>
<rect x="464.70" y="146.01" width="14.80" height="2.79" fill="#f05f92" />
<rect x="464.70" y="143.92" width="14.80" height="2.09" fill="#e25fa6" />
<rect x="464.70" y="141.84" width="14.80" height="2.09" fill="#a273c6" />
<rect x="464.70" y="138.63" width="14.80" height="3.20" fill="#8085c8" />
<rect x="464.70" y="127.49" width="14.80" height="11.14" fill="#12b2ea" />
<rect x="464.70" y="114.25" width="14.80" height="13.23" fill="#22b8c6" />
<rect x="464.70" y="55.47" width="14.80" height="58.78" fill="#2db597" />
<rect x="464.70" y="53.38" width="14.80" height="2.09" fill="#2fb36a" />
<rect x="464.70" y="35.13" width="14.80" height="18.25" fill="#2eaa48" />
<rect x="464.70" y="18.97" width="14.80" height="16.16" fill="#7cb044" />
<rect x="464.70" y="17.86" width="14.80" height="1.11" fill="#aca234" />
<rect x="464.70" y="12.01" width="14.80" height="5.85" fill="#e8832a" />
<rect x="464.70" y="9.50" width="14.80" height="2.51" fill="#f07070" />
<line x1="464.70" y1="146.01" x2="479.50" y2="146.01" stroke="#262626" stroke-width="0.5" />
<line x1="464.70" y1="143.92" x2="479.50" y2="143.92" stroke="#262626" stroke-width="0.5" />
<line x1="464.70" y1="141.84" x2="479.50" y2="141.84" stroke="#262626" stroke-width="0.5" />
<line x1="464.70" y1="138.63" x2="479.50" y2="138.63" stroke="#262626" stroke-width="0.5" />
<line x1="464.70" y1="127.49" x2="479.50" y2="127.49" stroke="#262626" stroke-width="0.5" />
<line x1="464.70" y1="114.25" x2="479.50" y2="114.25" stroke="#262626" stroke-width="0.5" />
<line x1="464.70" y1="55.47" x2="479.50" y2="55.47" stroke="#262626" stroke-width="0.5" />
<line x1="464.70" y1="53.38" x2="479.50" y2="53.38" stroke="#262626" stroke-width="0.5" />
<line x1="464.70" y1="35.13" x2="479.50" y2="35.13" stroke="#262626" stroke-width="0.5" />
<line x1="464.70" y1="18.97" x2="479.50" y2="18.97" stroke="#262626" stroke-width="0.5" />
<line x1="464.70" y1="17.86" x2="479.50" y2="17.86" stroke="#262626" stroke-width="0.5" />
<line x1="464.70" y1="12.01" x2="479.50" y2="12.01" stroke="#262626" stroke-width="0.5" />
<rect x="464.70" y="9.50" width="14.80" height="139.30" fill="none" stroke="#7a7a7a" stroke-width="0.7" />
<text x="472.10" y="158.12" font-size="7.00" textLength="8.27" lengthAdjust="spacingAndGlyphs" stroke="#262626" stroke-width="0.12" text-anchor="middle">H1</text>
<rect x="480.90" y="144.62" width="14.80" height="4.18" fill="#f05f92" />
<rect x="480.90" y="141.14" width="14.80" height="3.48" fill="#e25fa6" />
<rect x="480.90" y="139.75" width="14.80" height="1.39" fill="#a273c6" />
<rect x="480.90" y="138.35" width="14.80" height="1.39" fill="#8085c8" />
<rect x="480.90" y="136.54" width="14.80" height="1.81" fill="#3f9ee0" />
<rect x="480.90" y="132.22" width="14.80" height="4.32" fill="#22b8c6" />
<rect x="480.90" y="100.46" width="14.80" height="31.76" fill="#2db597" />
<rect x="480.90" y="66.61" width="14.80" height="33.85" fill="#2fb36a" />
<rect x="480.90" y="47.67" width="14.80" height="18.94" fill="#2eaa48" />
<rect x="480.90" y="46.41" width="14.80" height="1.25" fill="#aca234" />
<rect x="480.90" y="44.46" width="14.80" height="1.95" fill="#cc922c" />
<rect x="480.90" y="31.37" width="14.80" height="13.09" fill="#e8832a" />
<rect x="480.90" y="9.50" width="14.80" height="21.87" fill="#f07070" />
<line x1="480.90" y1="144.62" x2="495.70" y2="144.62" stroke="#262626" stroke-width="0.5" />
<line x1="480.90" y1="141.14" x2="495.70" y2="141.14" stroke="#262626" stroke-width="0.5" />
<line x1="480.90" y1="139.75" x2="495.70" y2="139.75" stroke="#262626" stroke-width="0.5" />
<line x1="480.90" y1="138.35" x2="495.70" y2="138.35" stroke="#262626" stroke-width="0.5" />
<line x1="480.90" y1="136.54" x2="495.70" y2="136.54" stroke="#262626" stroke-width="0.5" />
<line x1="480.90" y1="132.22" x2="495.70" y2="132.22" stroke="#262626" stroke-width="0.5" />
<line x1="480.90" y1="100.46" x2="495.70" y2="100.46" stroke="#262626" stroke-width="0.5" />
<line x1="480.90" y1="66.61" x2="495.70" y2="66.61" stroke="#262626" stroke-width="0.5" />
<line x1="480.90" y1="47.67" x2="495.70" y2="47.67" stroke="#262626" stroke-width="0.5" />
<line x1="480.90" y1="46.41" x2="495.70" y2="46.41" stroke="#262626" stroke-width="0.5" />
<line x1="480.90" y1="44.46" x2="495.70" y2="44.46" stroke="#262626" stroke-width="0.5" />
<line x1="480.90" y1="31.37" x2="495.70" y2="31.37" stroke="#262626" stroke-width="0.5" />
<rect x="480.90" y="9.50" width="14.80" height="139.30" fill="none" stroke="#7a7a7a" stroke-width="0.7" />
<text x="488.30" y="158.12" font-size="7.00" textLength="9.24" lengthAdjust="spacingAndGlyphs" stroke="#262626" stroke-width="0.12" text-anchor="middle">H2</text>
<rect x="497.00" y="146.01" width="14.80" height="2.79" fill="#f05f92" />
<rect x="497.00" y="143.92" width="14.80" height="2.09" fill="#e25fa6" />
<rect x="497.00" y="140.72" width="14.80" height="3.20" fill="#a273c6" />
<rect x="497.00" y="92.10" width="14.80" height="48.62" fill="#8085c8" />
<rect x="497.00" y="86.81" width="14.80" height="5.29" fill="#3f9ee0" />
<rect x="497.00" y="62.43" width="14.80" height="24.38" fill="#12b2ea" />
<rect x="497.00" y="40.15" width="14.80" height="22.29" fill="#2db597" />
<rect x="497.00" y="39.17" width="14.80" height="0.98" fill="#2fb36a" />
<rect x="497.00" y="31.79" width="14.80" height="7.38" fill="#2eaa48" />
<rect x="497.00" y="26.49" width="14.80" height="5.29" fill="#aca234" />
<rect x="497.00" y="18.55" width="14.80" height="7.94" fill="#cc922c" />
<rect x="497.00" y="15.21" width="14.80" height="3.34" fill="#e8832a" />
<rect x="497.00" y="9.50" width="14.80" height="5.71" fill="#f07070" />
<line x1="497.00" y1="146.01" x2="511.80" y2="146.01" stroke="#262626" stroke-width="0.5" />
<line x1="497.00" y1="143.92" x2="511.80" y2="143.92" stroke="#262626" stroke-width="0.5" />
<line x1="497.00" y1="140.72" x2="511.80" y2="140.72" stroke="#262626" stroke-width="0.5" />
<line x1="497.00" y1="92.10" x2="511.80" y2="92.10" stroke="#262626" stroke-width="0.5" />
<line x1="497.00" y1="86.81" x2="511.80" y2="86.81" stroke="#262626" stroke-width="0.5" />
<line x1="497.00" y1="62.43" x2="511.80" y2="62.43" stroke="#262626" stroke-width="0.5" />
<line x1="497.00" y1="40.15" x2="511.80" y2="40.15" stroke="#262626" stroke-width="0.5" />
<line x1="497.00" y1="39.17" x2="511.80" y2="39.17" stroke="#262626" stroke-width="0.5" />
<line x1="497.00" y1="31.79" x2="511.80" y2="31.79" stroke="#262626" stroke-width="0.5" />
<line x1="497.00" y1="26.49" x2="511.80" y2="26.49" stroke="#262626" stroke-width="0.5" />
<line x1="497.00" y1="18.55" x2="511.80" y2="18.55" stroke="#262626" stroke-width="0.5" />
<line x1="497.00" y1="15.21" x2="511.80" y2="15.21" stroke="#262626" stroke-width="0.5" />
<rect x="497.00" y="9.50" width="14.80" height="139.30" fill="none" stroke="#7a7a7a" stroke-width="0.7" />
<text x="504.40" y="158.12" font-size="7.00" textLength="9.24" lengthAdjust="spacingAndGlyphs" stroke="#262626" stroke-width="0.12" text-anchor="middle">H3</text>
<rect x="513.00" y="146.01" width="14.80" height="2.79" fill="#f05f92" />
<rect x="513.00" y="142.25" width="14.80" height="3.76" fill="#e25fa6" />
<rect x="513.00" y="139.75" width="14.80" height="2.51" fill="#3f9ee0" />
<rect x="513.00" y="134.45" width="14.80" height="5.29" fill="#12b2ea" />
<rect x="513.00" y="101.58" width="14.80" height="32.87" fill="#22b8c6" />
<rect x="513.00" y="31.37" width="14.80" height="70.21" fill="#2db597" />
<rect x="513.00" y="25.38" width="14.80" height="5.99" fill="#2fb36a" />
<rect x="513.00" y="16.47" width="14.80" height="8.92" fill="#2eaa48" />
<rect x="513.00" y="14.38" width="14.80" height="2.09" fill="#cc922c" />
<rect x="513.00" y="9.50" width="14.80" height="4.88" fill="#f07070" />
<line x1="513.00" y1="146.01" x2="527.80" y2="146.01" stroke="#262626" stroke-width="0.5" />
<line x1="513.00" y1="142.25" x2="527.80" y2="142.25" stroke="#262626" stroke-width="0.5" />
<line x1="513.00" y1="139.75" x2="527.80" y2="139.75" stroke="#262626" stroke-width="0.5" />
<line x1="513.00" y1="134.45" x2="527.80" y2="134.45" stroke="#262626" stroke-width="0.5" />
<line x1="513.00" y1="101.58" x2="527.80" y2="101.58" stroke="#262626" stroke-width="0.5" />
<line x1="513.00" y1="31.37" x2="527.80" y2="31.37" stroke="#262626" stroke-width="0.5" />
<line x1="513.00" y1="25.38" x2="527.80" y2="25.38" stroke="#262626" stroke-width="0.5" />
<line x1="513.00" y1="16.47" x2="527.80" y2="16.47" stroke="#262626" stroke-width="0.5" />
<line x1="513.00" y1="14.38" x2="527.80" y2="14.38" stroke="#262626" stroke-width="0.5" />
<rect x="513.00" y="9.50" width="14.80" height="139.30" fill="none" stroke="#7a7a7a" stroke-width="0.7" />
<text x="520.40" y="158.12" font-size="7.00" textLength="9.06" lengthAdjust="spacingAndGlyphs" stroke="#262626" stroke-width="0.12" text-anchor="middle">M1</text>
<rect x="529.20" y="143.92" width="14.80" height="4.88" fill="#f05f92" />
<rect x="529.20" y="137.93" width="14.80" height="5.99" fill="#e25fa6" />
<rect x="529.20" y="136.54" width="14.80" height="1.39" fill="#8085c8" />
<rect x="529.20" y="132.22" width="14.80" height="4.32" fill="#3f9ee0" />
<rect x="529.20" y="124.42" width="14.80" height="7.80" fill="#12b2ea" />
<rect x="529.20" y="120.66" width="14.80" height="3.76" fill="#22b8c6" />
<rect x="529.20" y="48.64" width="14.80" height="72.02" fill="#2db597" />
<rect x="529.20" y="45.44" width="14.80" height="3.20" fill="#2fb36a" />
<rect x="529.20" y="28.17" width="14.80" height="17.27" fill="#2eaa48" />
<rect x="529.20" y="25.38" width="14.80" height="2.79" fill="#aca234" />
<rect x="529.20" y="19.39" width="14.80" height="5.99" fill="#e8832a" />
<rect x="529.20" y="9.50" width="14.80" height="9.89" fill="#f07070" />
<line x1="529.20" y1="143.92" x2="544.00" y2="143.92" stroke="#262626" stroke-width="0.5" />
<line x1="529.20" y1="137.93" x2="544.00" y2="137.93" stroke="#262626" stroke-width="0.5" />
<line x1="529.20" y1="136.54" x2="544.00" y2="136.54" stroke="#262626" stroke-width="0.5" />
<line x1="529.20" y1="132.22" x2="544.00" y2="132.22" stroke="#262626" stroke-width="0.5" />
<line x1="529.20" y1="124.42" x2="544.00" y2="124.42" stroke="#262626" stroke-width="0.5" />
<line x1="529.20" y1="120.66" x2="544.00" y2="120.66" stroke="#262626" stroke-width="0.5" />
<line x1="529.20" y1="48.64" x2="544.00" y2="48.64" stroke="#262626" stroke-width="0.5" />
<line x1="529.20" y1="45.44" x2="544.00" y2="45.44" stroke="#262626" stroke-width="0.5" />
<line x1="529.20" y1="28.17" x2="544.00" y2="28.17" stroke="#262626" stroke-width="0.5" />
<line x1="529.20" y1="25.38" x2="544.00" y2="25.38" stroke="#262626" stroke-width="0.5" />
<line x1="529.20" y1="19.39" x2="544.00" y2="19.39" stroke="#262626" stroke-width="0.5" />
<rect x="529.20" y="9.50" width="14.80" height="139.30" fill="none" stroke="#7a7a7a" stroke-width="0.7" />
<text x="536.60" y="158.12" font-size="7.00" textLength="10.04" lengthAdjust="spacingAndGlyphs" stroke="#262626" stroke-width="0.12" text-anchor="middle">M2</text>
<rect x="545.20" y="146.71" width="14.80" height="2.09" fill="#f05f92" />
<rect x="545.20" y="145.32" width="14.80" height="1.39" fill="#e25fa6" />
<rect x="545.20" y="143.51" width="14.80" height="1.81" fill="#a273c6" />
<rect x="545.20" y="95.73" width="14.80" height="47.78" fill="#8085c8" />
<rect x="545.20" y="88.90" width="14.80" height="6.83" fill="#3f9ee0" />
<rect x="545.20" y="73.58" width="14.80" height="15.32" fill="#12b2ea" />
<rect x="545.20" y="59.65" width="14.80" height="13.93" fill="#2db597" />
<rect x="545.20" y="54.63" width="14.80" height="5.01" fill="#2fb36a" />
<rect x="545.20" y="46.41" width="14.80" height="8.22" fill="#2eaa48" />
<rect x="545.20" y="44.33" width="14.80" height="2.09" fill="#7cb044" />
<rect x="545.20" y="42.37" width="14.80" height="1.95" fill="#aca234" />
<rect x="545.20" y="21.20" width="14.80" height="21.17" fill="#e8832a" />
<rect x="545.20" y="9.50" width="14.80" height="11.70" fill="#f07070" />
<line x1="545.20" y1="146.71" x2="560.00" y2="146.71" stroke="#262626" stroke-width="0.5" />
<line x1="545.20" y1="145.32" x2="560.00" y2="145.32" stroke="#262626" stroke-width="0.5" />
<line x1="545.20" y1="143.51" x2="560.00" y2="143.51" stroke="#262626" stroke-width="0.5" />
<line x1="545.20" y1="95.73" x2="560.00" y2="95.73" stroke="#262626" stroke-width="0.5" />
<line x1="545.20" y1="88.90" x2="560.00" y2="88.90" stroke="#262626" stroke-width="0.5" />
<line x1="545.20" y1="73.58" x2="560.00" y2="73.58" stroke="#262626" stroke-width="0.5" />
<line x1="545.20" y1="59.65" x2="560.00" y2="59.65" stroke="#262626" stroke-width="0.5" />
<line x1="545.20" y1="54.63" x2="560.00" y2="54.63" stroke="#262626" stroke-width="0.5" />
<line x1="545.20" y1="46.41" x2="560.00" y2="46.41" stroke="#262626" stroke-width="0.5" />
<line x1="545.20" y1="44.33" x2="560.00" y2="44.33" stroke="#262626" stroke-width="0.5" />
<line x1="545.20" y1="42.37" x2="560.00" y2="42.37" stroke="#262626" stroke-width="0.5" />
<line x1="545.20" y1="21.20" x2="560.00" y2="21.20" stroke="#262626" stroke-width="0.5" />
<rect x="545.20" y="9.50" width="14.80" height="139.30" fill="none" stroke="#7a7a7a" stroke-width="0.7" />
<text x="552.60" y="158.12" font-size="7.00" textLength="10.04" lengthAdjust="spacingAndGlyphs" stroke="#262626" stroke-width="0.12" text-anchor="middle">M3</text>
<rect x="564.90" y="11.40" width="7.20" height="8.19" fill="#f07070" stroke="#555" stroke-width="0.45" />
<text x="576.80" y="18.02" font-size="7.00" textLength="18.68" lengthAdjust="spacingAndGlyphs" stroke="#262626" stroke-width="0.12">B cell</text>
<rect x="564.90" y="19.59" width="7.20" height="8.19" fill="#e8832a" stroke="#555" stroke-width="0.45" />
<text x="576.80" y="26.21" font-size="7.00" textLength="30.35" lengthAdjust="spacingAndGlyphs" stroke="#262626" stroke-width="0.12">CD8<tspan font-size="4.34" baseline-shift="2.66">+</tspan> Tc1</text>
<rect x="564.90" y="27.78" width="7.20" height="8.19" fill="#cc922c" stroke="#555" stroke-width="0.45" />
<text x="576.80" y="34.40" font-size="7.00" textLength="43.12" lengthAdjust="spacingAndGlyphs" stroke="#262626" stroke-width="0.12">CD11c<tspan font-size="4.34" baseline-shift="2.66">+</tspan>CD14<tspan font-size="4.34" baseline-shift="2.66">+</tspan></text>
<rect x="564.90" y="35.97" width="7.20" height="8.19" fill="#aca234" stroke="#555" stroke-width="0.45" />
<text x="576.80" y="42.59" font-size="7.00" textLength="43.12" lengthAdjust="spacingAndGlyphs" stroke="#262626" stroke-width="0.12">CD11c<tspan font-size="4.34" baseline-shift="2.66">+</tspan>CD16<tspan font-size="4.34" baseline-shift="2.66">+</tspan></text>
<rect x="564.90" y="44.16" width="7.20" height="8.19" fill="#7cb044" stroke="#555" stroke-width="0.45" />
<text x="576.80" y="50.78" font-size="7.00" textLength="29.63" lengthAdjust="spacingAndGlyphs" stroke="#262626" stroke-width="0.12">CD4<tspan font-size="4.34" baseline-shift="2.66">+</tspan> T<tspan font-size="5.04" baseline-shift="-1.82">eff</tspan></text>
<rect x="564.90" y="52.35" width="7.20" height="8.19" fill="#2eaa48" stroke="#555" stroke-width="0.45" />
<text x="576.80" y="58.97" font-size="7.00" textLength="29.63" lengthAdjust="spacingAndGlyphs" stroke="#262626" stroke-width="0.12">CD8<tspan font-size="4.34" baseline-shift="2.66">+</tspan> T<tspan font-size="5.04" baseline-shift="-1.82">eff</tspan></text>
<rect x="564.90" y="60.54" width="7.20" height="8.19" fill="#2fb36a" stroke="#555" stroke-width="0.45" />
<text x="576.80" y="67.16" font-size="7.00" textLength="8.43" lengthAdjust="spacingAndGlyphs" stroke="#262626" stroke-width="0.12">γδ</text>
<rect x="564.90" y="68.73" width="7.20" height="8.19" fill="#2db597" stroke="#555" stroke-width="0.45" />
<text x="576.80" y="75.35" font-size="7.00" textLength="36.01" lengthAdjust="spacingAndGlyphs" stroke="#262626" stroke-width="0.12">CD4<tspan font-size="4.34" baseline-shift="2.66">+</tspan> T<tspan font-size="5.04" baseline-shift="-1.82">mem</tspan></text>
<rect x="564.90" y="76.92" width="7.20" height="8.19" fill="#22b8c6" stroke="#555" stroke-width="0.45" />
<text x="576.80" y="83.54" font-size="7.00" textLength="36.01" lengthAdjust="spacingAndGlyphs" stroke="#262626" stroke-width="0.12">CD8<tspan font-size="4.34" baseline-shift="2.66">+</tspan> T<tspan font-size="5.04" baseline-shift="-1.82">mem</tspan></text>
<rect x="564.90" y="85.11" width="7.20" height="8.19" fill="#12b2ea" stroke="#555" stroke-width="0.45" />
<text x="576.80" y="91.73" font-size="7.00" textLength="44.26" lengthAdjust="spacingAndGlyphs" stroke="#262626" stroke-width="0.12">CD4<tspan font-size="4.34" baseline-shift="2.66">+</tspan> T naive</text>
<rect x="564.90" y="93.30" width="7.20" height="8.19" fill="#3f9ee0" stroke="#555" stroke-width="0.45" />
<text x="576.80" y="99.92" font-size="7.00" textLength="44.26" lengthAdjust="spacingAndGlyphs" stroke="#262626" stroke-width="0.12">CD4<tspan font-size="4.34" baseline-shift="2.66">+</tspan> T naive</text>
<rect x="564.90" y="101.49" width="7.20" height="8.19" fill="#8085c8" stroke="#555" stroke-width="0.45" />
<text x="576.80" y="108.11" font-size="7.00" textLength="35.03" lengthAdjust="spacingAndGlyphs" stroke="#262626" stroke-width="0.12">CD161<tspan font-size="4.34" baseline-shift="2.66">+</tspan> NK</text>
<rect x="564.90" y="109.68" width="7.20" height="8.19" fill="#a273c6" stroke="#555" stroke-width="0.45" />
<text x="576.80" y="116.30" font-size="7.00" textLength="9.92" lengthAdjust="spacingAndGlyphs" stroke="#262626" stroke-width="0.12">NK</text>
<rect x="564.90" y="117.87" width="7.20" height="8.19" fill="#c466b8" stroke="#555" stroke-width="0.45" />
<text x="576.80" y="124.49" font-size="7.00" textLength="19.30" lengthAdjust="spacingAndGlyphs" stroke="#262626" stroke-width="0.12">Other</text>
<rect x="564.90" y="126.06" width="7.20" height="8.19" fill="#e25fa6" stroke="#555" stroke-width="0.45" />
<text x="576.80" y="132.68" font-size="7.00" textLength="34.43" lengthAdjust="spacingAndGlyphs" stroke="#262626" stroke-width="0.12">CD8<tspan font-size="4.34" baseline-shift="2.66">+</tspan> Tc17</text>
<rect x="564.90" y="134.25" width="7.20" height="8.19" fill="#f05f92" stroke="#555" stroke-width="0.45" />
<text x="576.80" y="140.87" font-size="7.00" textLength="12.67" lengthAdjust="spacingAndGlyphs" stroke="#262626" stroke-width="0.12">T<tspan font-size="5.04" baseline-shift="-1.82">reg</tspan></text>
<rect x="572.50" y="134.30" width="23.30" height="9.00" fill="none" stroke="#e06060" stroke-width="0.6" />
<text x="0.00" y="171.60" font-size="12" font-weight="bold" fill="#000">d</text>
<text x="80.70" y="172.35" font-size="8.20" textLength="16.76" lengthAdjust="spacingAndGlyphs" stroke="#262626" stroke-width="0.12" text-anchor="middle">TILs</text>
<path d="M82.20,189.70 C82.68,188.42 84.57,186.47 86.00,185.90 C87.43,185.33 89.35,185.75 90.80,186.30 C92.25,186.85 93.65,188.07 94.70,189.20 C95.75,190.33 96.78,191.73 97.10,193.10 C97.42,194.47 97.17,196.28 96.60,197.40 C96.03,198.52 94.67,199.23 93.70,199.80 C92.73,200.37 91.60,201.03 90.80,200.80 C90.00,200.57 89.70,199.28 88.90,198.40 C88.10,197.52 86.97,196.30 86.00,195.50 C85.03,194.70 83.73,194.57 83.10,193.60 C82.47,192.63 81.72,190.98 82.20,189.70Z" fill="#f07068"/>
<path d="M43.60,204.20 C44.15,203.32 45.28,202.18 46.50,201.70 C47.72,201.22 49.53,200.97 50.90,201.30 C52.27,201.63 53.82,202.67 54.70,203.70 C55.58,204.73 56.12,206.30 56.20,207.50 C56.28,208.70 55.77,210.02 55.20,210.90 C54.63,211.78 53.60,212.32 52.80,212.80 C52.00,213.28 51.28,213.80 50.40,213.80 C49.52,213.80 48.47,213.28 47.50,212.80 C46.53,212.32 45.32,211.87 44.60,210.90 C43.88,209.93 43.37,208.12 43.20,207.00 C43.03,205.88 43.05,205.08 43.60,204.20Z" fill="#8888c8"/>
<path d="M39.30,208.00 C39.62,207.48 41.02,206.28 41.70,206.10 C42.38,205.92 43.12,206.42 43.40,206.90 C43.68,207.38 44.00,208.62 43.40,209.00 C42.80,209.38 40.48,209.37 39.80,209.20 C39.12,209.03 38.98,208.52 39.30,208.00Z" fill="#30b070"/>
<path d="M47.50,214.80 C48.22,214.40 50.02,213.90 51.30,214.30 C52.58,214.70 53.92,216.23 55.20,217.20 C56.48,218.17 58.20,219.22 59.00,220.10 C59.80,220.98 60.15,221.78 60.00,222.50 C59.85,223.22 59.22,224.25 58.10,224.40 C56.98,224.55 54.75,223.80 53.30,223.40 C51.85,223.00 50.45,222.63 49.40,222.00 C48.35,221.37 47.40,220.48 47.00,219.60 C46.60,218.72 46.92,217.50 47.00,216.70 C47.08,215.90 46.78,215.20 47.50,214.80Z" fill="#b070b8"/>
<path d="M49.60,216.80 C49.60,217.11 49.47,217.50 49.31,217.72 C49.14,217.94 48.84,218.10 48.60,218.10 C48.36,218.10 48.06,217.94 47.89,217.72 C47.73,217.50 47.60,217.11 47.60,216.80 C47.60,216.49 47.73,216.10 47.89,215.88 C48.06,215.66 48.36,215.50 48.60,215.50 C48.84,215.50 49.14,215.66 49.31,215.88 C49.47,216.10 49.60,216.49 49.60,216.80Z" fill="#30a0e0"/>
<path d="M50.80,219.20 C50.80,219.39 50.70,219.63 50.57,219.77 C50.43,219.90 50.19,220.00 50.00,220.00 C49.81,220.00 49.57,219.90 49.43,219.77 C49.30,219.63 49.20,219.39 49.20,219.20 C49.20,219.01 49.30,218.77 49.43,218.63 C49.57,218.50 49.81,218.40 50.00,218.40 C50.19,218.40 50.43,218.50 50.57,218.63 C50.70,218.77 50.80,219.01 50.80,219.20Z" fill="#30a0e0"/>
<path d="M58.50,220.60 C58.50,220.81 58.39,221.09 58.24,221.24 C58.09,221.39 57.81,221.50 57.60,221.50 C57.39,221.50 57.11,221.39 56.96,221.24 C56.81,221.09 56.70,220.81 56.70,220.60 C56.70,220.39 56.81,220.11 56.96,219.96 C57.11,219.81 57.39,219.70 57.60,219.70 C57.81,219.70 58.09,219.81 58.24,219.96 C58.39,220.11 58.50,220.39 58.50,220.60Z" fill="#30a0e0"/>
<path d="M59.20,223.00 C59.20,223.16 59.11,223.38 58.99,223.49 C58.88,223.61 58.66,223.70 58.50,223.70 C58.34,223.70 58.12,223.61 58.01,223.49 C57.89,223.38 57.80,223.16 57.80,223.00 C57.80,222.84 57.89,222.62 58.01,222.51 C58.12,222.39 58.34,222.30 58.50,222.30 C58.66,222.30 58.88,222.39 58.99,222.51 C59.11,222.62 59.20,222.84 59.20,223.00Z" fill="#30a0e0"/>
<circle cx="49.50" cy="206.50" r="0.60" fill="#fff"/>
<circle cx="51.50" cy="208.00" r="0.50" fill="#fff"/>
<circle cx="87.00" cy="189.50" r="0.40" fill="#fff"/>
<circle cx="91.50" cy="200.00" r="0.50" fill="#8888c8"/>
<path d="M40.70,216.40 C40.70,216.58 40.52,216.79 40.24,216.93 C39.97,217.07 39.49,217.20 39.04,217.26 C38.59,217.31 38.01,217.31 37.56,217.26 C37.11,217.20 36.63,217.07 36.36,216.93 C36.08,216.79 35.90,216.58 35.90,216.40 C35.90,216.22 36.08,216.01 36.36,215.87 C36.63,215.73 37.11,215.60 37.56,215.54 C38.01,215.49 38.59,215.49 39.04,215.54 C39.49,215.60 39.97,215.73 40.24,215.87 C40.52,216.01 40.70,216.22 40.70,216.40Z" fill="#9080c8"/>
<line x1="60.00" y1="224.40" x2="61.90" y2="226.30" stroke="#b070b8" stroke-width="0.9" />
<line x1="62.90" y1="226.80" x2="68.70" y2="231.60" stroke="#f07068" stroke-width="1.1" />
<path d="M76.01,236.70 C75.80,237.06 75.37,237.36 74.88,237.49 C74.38,237.62 73.68,237.61 73.02,237.47 C72.37,237.34 71.59,237.03 70.95,236.67 C70.31,236.30 69.66,235.77 69.21,235.28 C68.77,234.78 68.41,234.17 68.28,233.68 C68.14,233.18 68.18,232.66 68.39,232.30 C68.60,231.94 69.03,231.64 69.53,231.51 C70.02,231.38 70.72,231.39 71.38,231.53 C72.03,231.66 72.81,231.97 73.45,232.33 C74.09,232.70 74.74,233.23 75.19,233.72 C75.63,234.22 75.99,234.83 76.12,235.32 C76.26,235.82 76.22,236.34 76.01,236.70Z" fill="#30b048"/>
<circle cx="68.60" cy="232.00" r="0.90" fill="#f07068"/>
<circle cx="70.00" cy="230.00" r="0.60" fill="#30a0e0"/>
<circle cx="49.90" cy="244.00" r="0.90" fill="#f07068"/>
<circle cx="50.90" cy="244.30" r="0.50" fill="#30a0e0"/>
<line x1="84.40" y1="252.40" x2="90.10" y2="257.30" stroke="#a8a038" stroke-width="1.2" />
<circle cx="87.50" cy="255.00" r="0.70" fill="#f07068"/>
<path d="M125.50,224.20 C126.05,224.08 127.07,224.33 127.50,224.80 C127.93,225.27 128.18,226.13 128.10,227.00 C128.02,227.87 127.60,229.17 127.00,230.00 C126.40,230.83 125.23,231.47 124.50,232.00 C123.77,232.53 122.97,233.37 122.60,233.20 C122.23,233.03 122.15,231.87 122.30,231.00 C122.45,230.13 123.18,228.92 123.50,228.00 C123.82,227.08 123.87,226.13 124.20,225.50 C124.53,224.87 124.95,224.32 125.50,224.20Z" fill="#f07068"/>
<path d="M105.90,236.30 C105.90,236.58 105.70,236.95 105.43,237.15 C105.16,237.35 104.68,237.50 104.30,237.50 C103.92,237.50 103.44,237.35 103.17,237.15 C102.90,236.95 102.70,236.58 102.70,236.30 C102.70,236.02 102.90,235.65 103.17,235.45 C103.44,235.25 103.92,235.10 104.30,235.10 C104.68,235.10 105.16,235.25 105.43,235.45 C105.70,235.65 105.90,236.02 105.90,236.30Z" fill="#f07068"/>
<path d="M121.43,258.00 C121.52,258.15 121.49,258.41 121.37,258.65 C121.24,258.89 120.96,259.20 120.66,259.43 C120.37,259.67 119.94,259.91 119.59,260.05 C119.24,260.19 118.83,260.28 118.56,260.27 C118.29,260.26 118.06,260.15 117.97,260.00 C117.88,259.85 117.91,259.59 118.03,259.35 C118.16,259.11 118.44,258.80 118.74,258.57 C119.03,258.33 119.46,258.09 119.81,257.95 C120.16,257.81 120.57,257.72 120.84,257.73 C121.11,257.74 121.34,257.85 121.43,258.00Z" fill="#f07068"/>
<path d="M44.57,268.50 C44.61,268.73 44.48,269.04 44.25,269.27 C44.03,269.50 43.61,269.75 43.20,269.90 C42.79,270.05 42.23,270.14 41.80,270.15 C41.36,270.15 40.88,270.06 40.59,269.92 C40.30,269.78 40.08,269.53 40.03,269.30 C39.99,269.07 40.12,268.76 40.35,268.53 C40.57,268.30 40.99,268.05 41.40,267.90 C41.81,267.75 42.37,267.66 42.80,267.65 C43.24,267.65 43.72,267.74 44.01,267.88 C44.30,268.02 44.52,268.27 44.57,268.50Z" fill="#d89030"/>
<line x1="32.30" y1="181.60" x2="32.30" y2="273.10" stroke="#6f6f6f" stroke-width="0.8" />
<line x1="30.30" y1="188.60" x2="32.30" y2="188.60" stroke="#6f6f6f" stroke-width="0.8" />
<text x="27.30" y="191.19" font-size="7.20" textLength="7.41" lengthAdjust="spacingAndGlyphs" stroke="#262626" stroke-width="0.12" text-anchor="end">10</text>
<line x1="30.30" y1="216.10" x2="32.30" y2="216.10" stroke="#6f6f6f" stroke-width="0.8" />
<text x="27.30" y="218.69" font-size="7.20" textLength="4.20" lengthAdjust="spacingAndGlyphs" stroke="#262626" stroke-width="0.12" text-anchor="end">0</text>
<line x1="30.30" y1="243.30" x2="32.30" y2="243.30" stroke="#6f6f6f" stroke-width="0.8" />
<text x="27.30" y="245.89" font-size="7.20" textLength="11.61" lengthAdjust="spacingAndGlyphs" stroke="#262626" stroke-width="0.12" text-anchor="end">−10</text>
<line x1="30.30" y1="270.40" x2="32.30" y2="270.40" stroke="#6f6f6f" stroke-width="0.8" />
<text x="27.30" y="272.99" font-size="7.20" textLength="12.61" lengthAdjust="spacingAndGlyphs" stroke="#262626" stroke-width="0.12" text-anchor="end">−20</text>
<line x1="32.30" y1="273.10" x2="132.30" y2="273.10" stroke="#6f6f6f" stroke-width="0.8" />
<line x1="39.90" y1="273.10" x2="39.90" y2="275.10" stroke="#6f6f6f" stroke-width="0.8" />
<text x="39.90" y="284.32" font-size="7.00" textLength="11.29" lengthAdjust="spacingAndGlyphs" stroke="#262626" stroke-width="0.12" text-anchor="middle">−10</text>
<line x1="57.90" y1="273.10" x2="57.90" y2="275.10" stroke="#6f6f6f" stroke-width="0.8" />
<text x="57.90" y="284.32" font-size="7.00" textLength="8.18" lengthAdjust="spacingAndGlyphs" stroke="#262626" stroke-width="0.12" text-anchor="middle">−5</text>
<line x1="75.50" y1="273.10" x2="75.50" y2="275.10" stroke="#6f6f6f" stroke-width="0.8" />
<text x="75.50" y="284.32" font-size="7.00" textLength="4.09" lengthAdjust="spacingAndGlyphs" stroke="#262626" stroke-width="0.12" text-anchor="middle">0</text>
<line x1="93.00" y1="273.10" x2="93.00" y2="275.10" stroke="#6f6f6f" stroke-width="0.8" />
<text x="93.00" y="284.32" font-size="7.00" textLength="4.09" lengthAdjust="spacingAndGlyphs" stroke="#262626" stroke-width="0.12" text-anchor="middle">5</text>
<line x1="110.60" y1="273.10" x2="110.60" y2="275.10" stroke="#6f6f6f" stroke-width="0.8" />
<text x="110.60" y="284.32" font-size="7.00" textLength="7.20" lengthAdjust="spacingAndGlyphs" stroke="#262626" stroke-width="0.12" text-anchor="middle">10</text>
<line x1="128.50" y1="273.10" x2="128.50" y2="275.10" stroke="#6f6f6f" stroke-width="0.8" />
<text x="128.50" y="284.32" font-size="7.00" textLength="7.20" lengthAdjust="spacingAndGlyphs" stroke="#262626" stroke-width="0.12" text-anchor="middle">15</text>
<text x="82.20" y="296.75" font-size="8.20" textLength="27.81" lengthAdjust="spacingAndGlyphs" stroke="#262626" stroke-width="0.12" text-anchor="middle">UMAP1</text>
<text transform="translate(5.30,228.00) rotate(-90)" y="2.95" font-size="8.20" textLength="28.95" lengthAdjust="spacingAndGlyphs" stroke="#262626" stroke-width="0.12" text-anchor="middle">UMAP2</text>
<circle cx="141.80" cy="180.20" r="2.30" fill="#f07068"/>
<text x="148.80" y="182.72" font-size="7.00" textLength="36.56" lengthAdjust="spacingAndGlyphs" stroke="#262626" stroke-width="0.12">Melanoma</text>
<circle cx="141.80" cy="189.69" r="2.30" fill="#d89030"/>
<text x="148.80" y="192.21" font-size="7.00" textLength="18.08" lengthAdjust="spacingAndGlyphs" stroke="#262626" stroke-width="0.12">Endo</text>
<circle cx="141.80" cy="199.18" r="2.30" fill="#a8a038"/>
<text x="148.80" y="201.70" font-size="7.00" textLength="18.27" lengthAdjust="spacingAndGlyphs" stroke="#262626" stroke-width="0.12">CAFs</text>
<circle cx="141.80" cy="208.67" r="2.30" fill="#30b048"/>
<text x="148.80" y="211.19" font-size="7.00" textLength="4.76" lengthAdjust="spacingAndGlyphs" stroke="#262626" stroke-width="0.12">B</text>
<circle cx="141.80" cy="218.16" r="2.30" fill="#30b070"/>
<text x="148.80" y="220.68" font-size="7.00" textLength="9.92" lengthAdjust="spacingAndGlyphs" stroke="#262626" stroke-width="0.12">NK</text>
<circle cx="141.80" cy="227.65" r="2.30" fill="#20b8c0"/>
<text x="148.80" y="230.17" font-size="7.00" textLength="43.66" lengthAdjust="spacingAndGlyphs" stroke="#262626" stroke-width="0.12">Macrophage</text>
<circle cx="141.80" cy="237.14" r="2.30" fill="#30a0e0"/>
<text x="148.80" y="239.66" font-size="7.00" textLength="12.67" lengthAdjust="spacingAndGlyphs" stroke="#262626" stroke-width="0.12">T<tspan font-size="5.04" baseline-shift="-1.82">reg</tspan></text>
<circle cx="141.80" cy="246.63" r="2.30" fill="#8888c8"/>
<text x="148.80" y="249.15" font-size="7.00" textLength="20.71" lengthAdjust="spacingAndGlyphs" stroke="#262626" stroke-width="0.12">CD8 T</text>
<circle cx="141.80" cy="256.12" r="2.30" fill="#b070b8"/>
<text x="148.80" y="258.64" font-size="7.00" textLength="20.71" lengthAdjust="spacingAndGlyphs" stroke="#262626" stroke-width="0.12">CD4 T</text>
<circle cx="141.80" cy="265.61" r="2.30" fill="#e060a0"/>
<text x="148.80" y="268.13" font-size="7.00" textLength="40.18" lengthAdjust="spacingAndGlyphs" stroke="#262626" stroke-width="0.12">CD4<tspan font-size="4.34" baseline-shift="2.66">−</tspan>CD8<tspan font-size="4.34" baseline-shift="2.66">−</tspan> T</text>
<rect x="145.60" y="232.40" width="22.80" height="9.50" fill="none" stroke="#e06060" stroke-width="0.6" />
<text x="217.80" y="166.50" font-size="12" font-weight="bold" fill="#000">e</text>
<text x="253.00" y="278.52" font-size="7.00" textLength="4.09" lengthAdjust="spacingAndGlyphs" stroke="#262626" stroke-width="0.12" text-anchor="end">0</text>
<text x="253.00" y="250.42" font-size="7.00" textLength="8.18" lengthAdjust="spacingAndGlyphs" stroke="#262626" stroke-width="0.12" text-anchor="end">25</text>
<text x="253.00" y="222.32" font-size="7.00" textLength="8.18" lengthAdjust="spacingAndGlyphs" stroke="#262626" stroke-width="0.12" text-anchor="end">50</text>
<text x="253.00" y="194.22" font-size="7.00" textLength="8.18" lengthAdjust="spacingAndGlyphs" stroke="#262626" stroke-width="0.12" text-anchor="end">75</text>
<text x="253.00" y="166.12" font-size="7.00" textLength="11.29" lengthAdjust="spacingAndGlyphs" stroke="#262626" stroke-width="0.12" text-anchor="end">100</text>
<text transform="translate(229.30,220.40) rotate(-90)" y="2.81" font-size="7.80" textLength="55.74" lengthAdjust="spacingAndGlyphs" stroke="#262626" stroke-width="0.12" text-anchor="middle">Frequency (%)</text>
<rect x="257.40" y="250.82" width="20.60" height="25.18" fill="#b872b8" />
<rect x="257.40" y="223.28" width="20.60" height="27.54" fill="#8a88c8" />
<rect x="257.40" y="214.40" width="20.60" height="8.88" fill="#33a2e2" />
<rect x="257.40" y="205.53" width="20.60" height="8.88" fill="#22b8c4" />
<rect x="257.40" y="197.88" width="20.60" height="7.64" fill="#2eb27a" />
<rect x="257.40" y="196.87" width="20.60" height="1.01" fill="#33ac4a" />
<rect x="257.40" y="194.17" width="20.60" height="2.70" fill="#a8a23a" />
<rect x="257.40" y="185.18" width="20.60" height="8.99" fill="#d8912e" />
<rect x="257.40" y="163.60" width="20.60" height="21.58" fill="#f0706a" />
<line x1="257.40" y1="250.82" x2="278.00" y2="250.82" stroke="#262626" stroke-width="0.5" />
<line x1="257.40" y1="223.28" x2="278.00" y2="223.28" stroke="#262626" stroke-width="0.5" />
<line x1="257.40" y1="214.40" x2="278.00" y2="214.40" stroke="#262626" stroke-width="0.5" />
<line x1="257.40" y1="205.53" x2="278.00" y2="205.53" stroke="#262626" stroke-width="0.5" />
<line x1="257.40" y1="197.88" x2="278.00" y2="197.88" stroke="#262626" stroke-width="0.5" />
<line x1="257.40" y1="196.87" x2="278.00" y2="196.87" stroke="#262626" stroke-width="0.5" />
<line x1="257.40" y1="194.17" x2="278.00" y2="194.17" stroke="#262626" stroke-width="0.5" />
<line x1="257.40" y1="185.18" x2="278.00" y2="185.18" stroke="#262626" stroke-width="0.5" />
<rect x="257.40" y="163.60" width="20.60" height="112.40" fill="none" stroke="#7a7a7a" stroke-width="0.7" />
<text x="267.70" y="286.02" font-size="7.00" textLength="8.18" lengthAdjust="spacingAndGlyphs" stroke="#262626" stroke-width="0.12" text-anchor="middle">53</text>
<rect x="279.90" y="268.47" width="20.60" height="7.53" fill="#b872b8" />
<rect x="279.90" y="239.25" width="20.60" height="29.22" fill="#8a88c8" />
<rect x="279.90" y="237.33" width="20.60" height="1.91" fill="#33a2e2" />
<rect x="279.90" y="227.33" width="20.60" height="10.00" fill="#33ac4a" />
<rect x="279.90" y="163.60" width="20.60" height="63.73" fill="#f0706a" />
<line x1="279.90" y1="268.47" x2="300.50" y2="268.47" stroke="#262626" stroke-width="0.5" />
<line x1="279.90" y1="239.25" x2="300.50" y2="239.25" stroke="#262626" stroke-width="0.5" />
<line x1="279.90" y1="237.33" x2="300.50" y2="237.33" stroke="#262626" stroke-width="0.5" />
<line x1="279.90" y1="227.33" x2="300.50" y2="227.33" stroke="#262626" stroke-width="0.5" />
<rect x="279.90" y="163.60" width="20.60" height="112.40" fill="none" stroke="#7a7a7a" stroke-width="0.7" />
<text x="290.20" y="286.02" font-size="7.00" textLength="8.18" lengthAdjust="spacingAndGlyphs" stroke="#262626" stroke-width="0.12" text-anchor="middle">79</text>
<rect x="302.80" y="275.10" width="20.60" height="0.90" fill="#e860a8" />
<rect x="302.80" y="250.82" width="20.60" height="24.28" fill="#b872b8" />
<rect x="302.80" y="229.24" width="20.60" height="21.58" fill="#8a88c8" />
<rect x="302.80" y="224.86" width="20.60" height="4.38" fill="#33a2e2" />
<rect x="302.80" y="223.85" width="20.60" height="1.01" fill="#2eb27a" />
<rect x="302.80" y="212.49" width="20.60" height="11.35" fill="#33ac4a" />
<rect x="302.80" y="207.10" width="20.60" height="5.40" fill="#a8a23a" />
<rect x="302.80" y="200.35" width="20.60" height="6.74" fill="#d8912e" />
<rect x="302.80" y="163.60" width="20.60" height="36.75" fill="#f0706a" />
<line x1="302.80" y1="275.10" x2="323.40" y2="275.10" stroke="#262626" stroke-width="0.5" />
<line x1="302.80" y1="250.82" x2="323.40" y2="250.82" stroke="#262626" stroke-width="0.5" />
<line x1="302.80" y1="229.24" x2="323.40" y2="229.24" stroke="#262626" stroke-width="0.5" />
<line x1="302.80" y1="224.86" x2="323.40" y2="224.86" stroke="#262626" stroke-width="0.5" />
<line x1="302.80" y1="223.85" x2="323.40" y2="223.85" stroke="#262626" stroke-width="0.5" />
<line x1="302.80" y1="212.49" x2="323.40" y2="212.49" stroke="#262626" stroke-width="0.5" />
<line x1="302.80" y1="207.10" x2="323.40" y2="207.10" stroke="#262626" stroke-width="0.5" />
<line x1="302.80" y1="200.35" x2="323.40" y2="200.35" stroke="#262626" stroke-width="0.5" />
<rect x="302.80" y="163.60" width="20.60" height="112.40" fill="none" stroke="#7a7a7a" stroke-width="0.7" />
<text x="313.10" y="286.02" font-size="7.00" textLength="8.18" lengthAdjust="spacingAndGlyphs" stroke="#262626" stroke-width="0.12" text-anchor="middle">80</text>
<rect x="325.70" y="257.12" width="20.60" height="18.88" fill="#b872b8" />
<rect x="325.70" y="248.12" width="20.60" height="8.99" fill="#8a88c8" />
<rect x="325.70" y="237.33" width="20.60" height="10.79" fill="#33a2e2" />
<rect x="325.70" y="231.94" width="20.60" height="5.40" fill="#22b8c4" />
<rect x="325.70" y="229.24" width="20.60" height="2.70" fill="#2eb27a" />
<rect x="325.70" y="227.33" width="20.60" height="1.91" fill="#33ac4a" />
<rect x="325.70" y="219.80" width="20.60" height="7.53" fill="#a8a23a" />
<rect x="325.70" y="163.60" width="20.60" height="56.20" fill="#f0706a" />
<line x1="325.70" y1="257.12" x2="346.30" y2="257.12" stroke="#262626" stroke-width="0.5" />
<line x1="325.70" y1="248.12" x2="346.30" y2="248.12" stroke="#262626" stroke-width="0.5" />
<line x1="325.70" y1="237.33" x2="346.30" y2="237.33" stroke="#262626" stroke-width="0.5" />
<line x1="325.70" y1="231.94" x2="346.30" y2="231.94" stroke="#262626" stroke-width="0.5" />
<line x1="325.70" y1="229.24" x2="346.30" y2="229.24" stroke="#262626" stroke-width="0.5" />
<line x1="325.70" y1="227.33" x2="346.30" y2="227.33" stroke="#262626" stroke-width="0.5" />
<line x1="325.70" y1="219.80" x2="346.30" y2="219.80" stroke="#262626" stroke-width="0.5" />
<rect x="325.70" y="163.60" width="20.60" height="112.40" fill="none" stroke="#7a7a7a" stroke-width="0.7" />
<text x="336.00" y="286.02" font-size="7.00" textLength="8.18" lengthAdjust="spacingAndGlyphs" stroke="#262626" stroke-width="0.12" text-anchor="middle">82</text>
<text x="302.00" y="298.55" font-size="8.20" textLength="73.17" lengthAdjust="spacingAndGlyphs" stroke="#262626" stroke-width="0.12" text-anchor="middle">Melanoma patient</text>
<rect x="354.20" y="178.20" width="8.10" height="8.40" fill="#f0706a" stroke="#555" stroke-width="0.45" />
<text x="367.00" y="184.92" font-size="7.00" textLength="36.56" lengthAdjust="spacingAndGlyphs" stroke="#262626" stroke-width="0.12">Melanoma</text>
<rect x="354.20" y="186.60" width="8.10" height="8.40" fill="#d8912e" stroke="#555" stroke-width="0.45" />
<text x="367.00" y="193.32" font-size="7.00" textLength="18.08" lengthAdjust="spacingAndGlyphs" stroke="#262626" stroke-width="0.12">Endo</text>
<rect x="354.20" y="195.00" width="8.10" height="8.40" fill="#a8a23a" stroke="#555" stroke-width="0.45" />
<text x="367.00" y="201.72" font-size="7.00" textLength="14.28" lengthAdjust="spacingAndGlyphs" stroke="#262626" stroke-width="0.12">CAF</text>
<rect x="354.20" y="203.40" width="8.10" height="8.40" fill="#33ac4a" stroke="#555" stroke-width="0.45" />
<text x="367.00" y="210.12" font-size="7.00" textLength="4.76" lengthAdjust="spacingAndGlyphs" stroke="#262626" stroke-width="0.12">B</text>
<rect x="354.20" y="211.80" width="8.10" height="8.40" fill="#2eb27a" stroke="#555" stroke-width="0.45" />
<text x="367.00" y="218.52" font-size="7.00" textLength="9.92" lengthAdjust="spacingAndGlyphs" stroke="#262626" stroke-width="0.12">NK</text>
<rect x="354.20" y="220.20" width="8.10" height="8.40" fill="#22b8c4" stroke="#555" stroke-width="0.45" />
<text x="367.00" y="226.92" font-size="7.00" textLength="43.66" lengthAdjust="spacingAndGlyphs" stroke="#262626" stroke-width="0.12">Macrophage</text>
<rect x="354.20" y="228.60" width="8.10" height="8.40" fill="#33a2e2" stroke="#555" stroke-width="0.45" />
<text x="367.00" y="235.32" font-size="7.00" textLength="12.67" lengthAdjust="spacingAndGlyphs" stroke="#262626" stroke-width="0.12">T<tspan font-size="5.04" baseline-shift="-1.82">reg</tspan></text>
<rect x="354.20" y="237.00" width="8.10" height="8.40" fill="#8a88c8" stroke="#555" stroke-width="0.45" />
<text x="367.00" y="243.72" font-size="7.00" textLength="20.71" lengthAdjust="spacingAndGlyphs" stroke="#262626" stroke-width="0.12">CD8 T</text>
<rect x="354.20" y="245.40" width="8.10" height="8.40" fill="#b872b8" stroke="#555" stroke-width="0.45" />
<text x="367.00" y="252.12" font-size="7.00" textLength="20.71" lengthAdjust="spacingAndGlyphs" stroke="#262626" stroke-width="0.12">CD4 T</text>
<rect x="354.20" y="253.80" width="8.10" height="8.40" fill="#e860a8" stroke="#555" stroke-width="0.45" />
<text x="367.00" y="260.52" font-size="7.00" textLength="40.18" lengthAdjust="spacingAndGlyphs" stroke="#262626" stroke-width="0.12">CD4<tspan font-size="4.34" baseline-shift="2.66">−</tspan>CD8<tspan font-size="4.34" baseline-shift="2.66">−</tspan> T</text>
<rect x="363.00" y="228.60" width="24.70" height="8.80" fill="none" stroke="#e06060" stroke-width="0.6" />
<text x="0.00" y="315.20" font-size="12" font-weight="bold" fill="#000">f</text>
<line x1="55.50" y1="324.30" x2="55.50" y2="419.30" stroke="#6f6f6f" stroke-width="0.8" />
<line x1="51.50" y1="324.30" x2="55.50" y2="324.30" stroke="#6f6f6f" stroke-width="0.8" />
<text x="47.60" y="326.82" font-size="7.00" textLength="10.12" lengthAdjust="spacingAndGlyphs" stroke="#262626" stroke-width="0.12" text-anchor="end">2.0</text>
<line x1="51.50" y1="348.40" x2="55.50" y2="348.40" stroke="#6f6f6f" stroke-width="0.8" />
<text x="47.60" y="350.92" font-size="7.00" textLength="9.15" lengthAdjust="spacingAndGlyphs" stroke="#262626" stroke-width="0.12" text-anchor="end">1.5</text>
<line x1="51.50" y1="371.90" x2="55.50" y2="371.90" stroke="#6f6f6f" stroke-width="0.8" />
<text x="47.60" y="374.42" font-size="7.00" textLength="9.15" lengthAdjust="spacingAndGlyphs" stroke="#262626" stroke-width="0.12" text-anchor="end">1.0</text>
<line x1="51.50" y1="395.50" x2="55.50" y2="395.50" stroke="#6f6f6f" stroke-width="0.8" />
<text x="47.60" y="398.02" font-size="7.00" textLength="10.12" lengthAdjust="spacingAndGlyphs" stroke="#262626" stroke-width="0.12" text-anchor="end">0.5</text>
<line x1="51.50" y1="419.20" x2="55.50" y2="419.20" stroke="#6f6f6f" stroke-width="0.8" />
<text x="47.60" y="421.72" font-size="7.00" textLength="4.09" lengthAdjust="spacingAndGlyphs" stroke="#262626" stroke-width="0.12" text-anchor="end">0</text>
<line x1="55.50" y1="419.20" x2="118.30" y2="419.20" stroke="#6f6f6f" stroke-width="0.8" />
<line x1="67.90" y1="419.20" x2="67.90" y2="422.50" stroke="#6f6f6f" stroke-width="0.8" />
<text x="67.90" y="432.92" font-size="7.00" textLength="10.31" lengthAdjust="spacingAndGlyphs" stroke="#262626" stroke-width="0.12" text-anchor="middle">HC</text>
<line x1="86.90" y1="419.20" x2="86.90" y2="422.50" stroke="#6f6f6f" stroke-width="0.8" />
<text x="86.90" y="432.92" font-size="7.00" textLength="12.16" lengthAdjust="spacingAndGlyphs" stroke="#262626" stroke-width="0.12" text-anchor="middle">Mel</text>
<line x1="106.20" y1="419.20" x2="106.20" y2="422.50" stroke="#6f6f6f" stroke-width="0.8" />
<text x="106.20" y="432.92" font-size="7.00" textLength="10.32" lengthAdjust="spacingAndGlyphs" stroke="#262626" stroke-width="0.12" text-anchor="middle">TIL</text>
<line x1="105.90" y1="375.70" x2="105.90" y2="407.40" stroke="#555555" stroke-width="0.8" />
<line x1="99.70" y1="391.50" x2="112.10" y2="391.50" stroke="#555555" stroke-width="0.8" />
<line x1="102.60" y1="375.70" x2="109.20" y2="375.70" stroke="#555555" stroke-width="0.8" />
<line x1="102.60" y1="407.40" x2="109.20" y2="407.40" stroke="#555555" stroke-width="0.8" />
<circle cx="63.80" cy="419.20" r="2.70" fill="#f2756f" stroke="#2a2a2a" stroke-width="0.55"/>
<circle cx="71.90" cy="419.20" r="2.70" fill="#f2756f" stroke="#2a2a2a" stroke-width="0.55"/>
<circle cx="67.90" cy="419.20" r="2.70" fill="#f2756f" stroke="#2a2a2a" stroke-width="0.55"/>
<circle cx="83.10" cy="419.20" r="2.70" fill="#1f8a4c" stroke="#2a2a2a" stroke-width="0.55"/>
<circle cx="90.60" cy="419.20" r="2.70" fill="#1f8a4c" stroke="#2a2a2a" stroke-width="0.55"/>
<circle cx="86.90" cy="413.60" r="2.70" fill="#1f8a4c" stroke="#2a2a2a" stroke-width="0.55"/>
<circle cx="105.90" cy="345.90" r="2.70" fill="#4a87d4" stroke="#2a2a2a" stroke-width="0.55"/>
<circle cx="105.90" cy="397.50" r="2.70" fill="#4a87d4" stroke="#2a2a2a" stroke-width="0.55"/>
<circle cx="105.90" cy="404.30" r="2.70" fill="#4a87d4" stroke="#2a2a2a" stroke-width="0.55"/>
<circle cx="105.90" cy="419.20" r="2.70" fill="#4a87d4" stroke="#2a2a2a" stroke-width="0.55"/>
<line x1="68.30" y1="322.40" x2="106.20" y2="322.40" stroke="#3a3a3a" stroke-width="0.8" />
<text x="87.25" y="319.78" font-size="6.60" textLength="9.35" lengthAdjust="spacingAndGlyphs" stroke="#262626" stroke-width="0.12" text-anchor="middle">NS</text>
<line x1="68.30" y1="334.50" x2="84.40" y2="334.50" stroke="#3a3a3a" stroke-width="0.8" />
<text x="76.35" y="331.68" font-size="6.60" textLength="9.35" lengthAdjust="spacingAndGlyphs" stroke="#262626" stroke-width="0.12" text-anchor="middle">NS</text>
<line x1="88.90" y1="334.50" x2="106.20" y2="334.50" stroke="#3a3a3a" stroke-width="0.8" />
<text x="97.55" y="331.68" font-size="6.60" textLength="9.35" lengthAdjust="spacingAndGlyphs" stroke="#262626" stroke-width="0.12" text-anchor="middle">NS</text>
<text transform="translate(16.30,371.30) rotate(-90)" y="2.81" font-size="7.80" textLength="62.30" lengthAdjust="spacingAndGlyphs" stroke="#262626" stroke-width="0.12" text-anchor="middle"><tspan font-style="italic">TNFRSF8</tspan> mRNA</text>
<text transform="translate(25.80,371.30) rotate(-90)" y="2.81" font-size="7.80" textLength="97.26" lengthAdjust="spacingAndGlyphs" stroke="#262626" stroke-width="0.12" text-anchor="middle">expression per individual</text>
<text x="141.20" y="315.20" font-size="12" font-weight="bold" fill="#000">g</text>
<line x1="178.60" y1="324.30" x2="178.60" y2="419.30" stroke="#6f6f6f" stroke-width="0.8" />
<line x1="175.00" y1="324.30" x2="178.60" y2="324.30" stroke="#6f6f6f" stroke-width="0.8" />
<text x="171.00" y="326.82" font-size="7.00" textLength="4.09" lengthAdjust="spacingAndGlyphs" stroke="#262626" stroke-width="0.12" text-anchor="end">5</text>
<line x1="175.00" y1="343.40" x2="178.60" y2="343.40" stroke="#6f6f6f" stroke-width="0.8" />
<text x="171.00" y="345.92" font-size="7.00" textLength="4.09" lengthAdjust="spacingAndGlyphs" stroke="#262626" stroke-width="0.12" text-anchor="end">4</text>
<line x1="175.00" y1="362.40" x2="178.60" y2="362.40" stroke="#6f6f6f" stroke-width="0.8" />
<text x="171.00" y="364.92" font-size="7.00" textLength="4.09" lengthAdjust="spacingAndGlyphs" stroke="#262626" stroke-width="0.12" text-anchor="end">3</text>
<line x1="175.00" y1="381.30" x2="178.60" y2="381.30" stroke="#6f6f6f" stroke-width="0.8" />
<text x="171.00" y="383.82" font-size="7.00" textLength="4.09" lengthAdjust="spacingAndGlyphs" stroke="#262626" stroke-width="0.12" text-anchor="end">2</text>
<line x1="175.00" y1="400.20" x2="178.60" y2="400.20" stroke="#6f6f6f" stroke-width="0.8" />
<text x="171.00" y="402.72" font-size="7.00" textLength="3.11" lengthAdjust="spacingAndGlyphs" stroke="#262626" stroke-width="0.12" text-anchor="end">1</text>
<line x1="175.00" y1="419.20" x2="178.60" y2="419.20" stroke="#6f6f6f" stroke-width="0.8" />
<text x="171.00" y="421.72" font-size="7.00" textLength="4.09" lengthAdjust="spacingAndGlyphs" stroke="#262626" stroke-width="0.12" text-anchor="end">0</text>
<line x1="178.60" y1="419.30" x2="241.80" y2="419.30" stroke="#6f6f6f" stroke-width="0.8" />
<line x1="191.40" y1="419.30" x2="191.40" y2="422.60" stroke="#6f6f6f" stroke-width="0.8" />
<text x="191.40" y="432.92" font-size="7.00" textLength="10.31" lengthAdjust="spacingAndGlyphs" stroke="#262626" stroke-width="0.12" text-anchor="middle">HC</text>
<line x1="210.00" y1="419.30" x2="210.00" y2="422.60" stroke="#6f6f6f" stroke-width="0.8" />
<text x="210.00" y="432.92" font-size="7.00" textLength="12.16" lengthAdjust="spacingAndGlyphs" stroke="#262626" stroke-width="0.12" text-anchor="middle">Mel</text>
<line x1="229.40" y1="419.30" x2="229.40" y2="422.60" stroke="#6f6f6f" stroke-width="0.8" />
<text x="229.40" y="432.92" font-size="7.00" textLength="10.32" lengthAdjust="spacingAndGlyphs" stroke="#262626" stroke-width="0.12" text-anchor="middle">TIL</text>
<line x1="191.40" y1="368.50" x2="191.40" y2="379.40" stroke="#555555" stroke-width="0.8" />
<line x1="185.20" y1="374.00" x2="197.60" y2="374.00" stroke="#555555" stroke-width="0.8" />
<line x1="188.10" y1="368.50" x2="194.70" y2="368.50" stroke="#555555" stroke-width="0.8" />
<line x1="188.10" y1="379.40" x2="194.70" y2="379.40" stroke="#555555" stroke-width="0.8" />
<line x1="210.00" y1="375.00" x2="210.00" y2="379.00" stroke="#555555" stroke-width="0.8" />
<line x1="203.80" y1="377.00" x2="216.20" y2="377.00" stroke="#555555" stroke-width="0.8" />
<line x1="206.70" y1="375.00" x2="213.30" y2="375.00" stroke="#555555" stroke-width="0.8" />
<line x1="206.70" y1="379.00" x2="213.30" y2="379.00" stroke="#555555" stroke-width="0.8" />
<line x1="229.40" y1="355.30" x2="229.40" y2="374.90" stroke="#555555" stroke-width="0.8" />
<line x1="223.20" y1="365.50" x2="235.60" y2="365.50" stroke="#555555" stroke-width="0.8" />
<line x1="226.10" y1="355.30" x2="232.70" y2="355.30" stroke="#555555" stroke-width="0.8" />
<line x1="226.10" y1="374.90" x2="232.70" y2="374.90" stroke="#555555" stroke-width="0.8" />
<circle cx="187.90" cy="380.60" r="2.70" fill="#f2756f" stroke="#2a2a2a" stroke-width="0.55"/>
<circle cx="191.60" cy="363.30" r="2.70" fill="#f2756f" stroke="#2a2a2a" stroke-width="0.55"/>
<circle cx="195.10" cy="376.40" r="2.70" fill="#f2756f" stroke="#2a2a2a" stroke-width="0.55"/>
<circle cx="206.50" cy="373.90" r="2.70" fill="#1f8a4c" stroke="#2a2a2a" stroke-width="0.55"/>
<circle cx="206.50" cy="379.40" r="2.70" fill="#1f8a4c" stroke="#2a2a2a" stroke-width="0.55"/>
<circle cx="213.70" cy="377.60" r="2.70" fill="#1f8a4c" stroke="#2a2a2a" stroke-width="0.55"/>
<circle cx="229.40" cy="336.70" r="2.70" fill="#4a87d4" stroke="#2a2a2a" stroke-width="0.55"/>
<circle cx="229.40" cy="366.50" r="2.70" fill="#4a87d4" stroke="#2a2a2a" stroke-width="0.55"/>
<circle cx="229.40" cy="373.20" r="2.70" fill="#4a87d4" stroke="#2a2a2a" stroke-width="0.55"/>
<circle cx="229.40" cy="384.40" r="2.70" fill="#4a87d4" stroke="#2a2a2a" stroke-width="0.55"/>
<line x1="191.20" y1="313.50" x2="229.30" y2="313.50" stroke="#3a3a3a" stroke-width="0.8" />
<text x="210.25" y="310.58" font-size="6.60" textLength="9.35" lengthAdjust="spacingAndGlyphs" stroke="#262626" stroke-width="0.12" text-anchor="middle">NS</text>
<line x1="191.20" y1="325.70" x2="208.40" y2="325.70" stroke="#3a3a3a" stroke-width="0.8" />
<text x="199.80" y="323.18" font-size="6.60" textLength="9.35" lengthAdjust="spacingAndGlyphs" stroke="#262626" stroke-width="0.12" text-anchor="middle">NS</text>
<line x1="212.20" y1="325.70" x2="229.30" y2="325.70" stroke="#3a3a3a" stroke-width="0.8" />
<text x="220.75" y="323.18" font-size="6.60" textLength="9.35" lengthAdjust="spacingAndGlyphs" stroke="#262626" stroke-width="0.12" text-anchor="middle">NS</text>
<text transform="translate(146.90,371.80) rotate(-90)" y="2.81" font-size="7.80" textLength="51.26" lengthAdjust="spacingAndGlyphs" stroke="#262626" stroke-width="0.12" text-anchor="middle"><tspan font-style="italic">CTLA4</tspan> mRNA</text>
<text transform="translate(155.90,371.80) rotate(-90)" y="2.81" font-size="7.80" textLength="97.26" lengthAdjust="spacingAndGlyphs" stroke="#262626" stroke-width="0.12" text-anchor="middle">expression per individual</text>
<text x="257.60" y="315.20" font-size="12" font-weight="bold" fill="#000">h</text>
<line x1="303.60" y1="324.30" x2="303.60" y2="419.30" stroke="#6f6f6f" stroke-width="0.8" />
<line x1="300.00" y1="324.30" x2="303.60" y2="324.30" stroke="#6f6f6f" stroke-width="0.8" />
<text x="296.10" y="326.82" font-size="7.00" textLength="10.12" lengthAdjust="spacingAndGlyphs" stroke="#262626" stroke-width="0.12" text-anchor="end">2.0</text>
<line x1="300.00" y1="348.40" x2="303.60" y2="348.40" stroke="#6f6f6f" stroke-width="0.8" />
<text x="296.10" y="350.92" font-size="7.00" textLength="9.15" lengthAdjust="spacingAndGlyphs" stroke="#262626" stroke-width="0.12" text-anchor="end">1.5</text>
<line x1="300.00" y1="371.90" x2="303.60" y2="371.90" stroke="#6f6f6f" stroke-width="0.8" />
<text x="296.10" y="374.42" font-size="7.00" textLength="9.15" lengthAdjust="spacingAndGlyphs" stroke="#262626" stroke-width="0.12" text-anchor="end">1.0</text>
<line x1="300.00" y1="395.50" x2="303.60" y2="395.50" stroke="#6f6f6f" stroke-width="0.8" />
<text x="296.10" y="398.02" font-size="7.00" textLength="10.12" lengthAdjust="spacingAndGlyphs" stroke="#262626" stroke-width="0.12" text-anchor="end">0.5</text>
<line x1="300.00" y1="419.20" x2="303.60" y2="419.20" stroke="#6f6f6f" stroke-width="0.8" />
<text x="296.10" y="421.72" font-size="7.00" textLength="4.09" lengthAdjust="spacingAndGlyphs" stroke="#262626" stroke-width="0.12" text-anchor="end">0</text>
<line x1="303.60" y1="419.30" x2="365.50" y2="419.30" stroke="#6f6f6f" stroke-width="0.8" />
<line x1="316.10" y1="419.30" x2="316.10" y2="422.60" stroke="#6f6f6f" stroke-width="0.8" />
<text x="316.10" y="432.92" font-size="7.00" textLength="10.31" lengthAdjust="spacingAndGlyphs" stroke="#262626" stroke-width="0.12" text-anchor="middle">HC</text>
<line x1="334.90" y1="419.30" x2="334.90" y2="422.60" stroke="#6f6f6f" stroke-width="0.8" />
<text x="334.90" y="432.92" font-size="7.00" textLength="12.16" lengthAdjust="spacingAndGlyphs" stroke="#262626" stroke-width="0.12" text-anchor="middle">Mel</text>
<line x1="354.30" y1="419.30" x2="354.30" y2="422.60" stroke="#6f6f6f" stroke-width="0.8" />
<text x="354.30" y="432.92" font-size="7.00" textLength="10.32" lengthAdjust="spacingAndGlyphs" stroke="#262626" stroke-width="0.12" text-anchor="middle">TIL</text>
<line x1="354.30" y1="381.40" x2="354.30" y2="419.20" stroke="#555555" stroke-width="0.8" />
<line x1="348.10" y1="400.50" x2="360.50" y2="400.50" stroke="#555555" stroke-width="0.8" />
<line x1="351.00" y1="381.40" x2="357.60" y2="381.40" stroke="#555555" stroke-width="0.8" />
<line x1="351.00" y1="419.20" x2="357.60" y2="419.20" stroke="#555555" stroke-width="0.8" />
<circle cx="312.40" cy="419.30" r="2.70" fill="#f2756f" stroke="#2a2a2a" stroke-width="0.55"/>
<circle cx="319.70" cy="419.30" r="2.70" fill="#f2756f" stroke="#2a2a2a" stroke-width="0.55"/>
<circle cx="316.10" cy="412.00" r="2.70" fill="#f2756f" stroke="#2a2a2a" stroke-width="0.55"/>
<circle cx="331.40" cy="419.30" r="2.70" fill="#1f8a4c" stroke="#2a2a2a" stroke-width="0.55"/>
<circle cx="338.60" cy="419.30" r="2.70" fill="#1f8a4c" stroke="#2a2a2a" stroke-width="0.55"/>
<circle cx="334.90" cy="412.90" r="2.70" fill="#1f8a4c" stroke="#2a2a2a" stroke-width="0.55"/>
<circle cx="350.60" cy="419.30" r="2.70" fill="#4a87d4" stroke="#2a2a2a" stroke-width="0.55"/>
<circle cx="358.00" cy="419.30" r="2.70" fill="#4a87d4" stroke="#2a2a2a" stroke-width="0.55"/>
<circle cx="354.30" cy="419.30" r="2.70" fill="#4a87d4" stroke="#2a2a2a" stroke-width="0.55"/>
<circle cx="354.30" cy="344.10" r="2.70" fill="#4a87d4" stroke="#2a2a2a" stroke-width="0.55"/>
<line x1="316.00" y1="320.40" x2="354.00" y2="320.40" stroke="#3a3a3a" stroke-width="0.8" />
<text x="335.00" y="317.68" font-size="6.60" textLength="9.35" lengthAdjust="spacingAndGlyphs" stroke="#262626" stroke-width="0.12" text-anchor="middle">NS</text>
<line x1="316.00" y1="332.50" x2="333.00" y2="332.50" stroke="#3a3a3a" stroke-width="0.8" />
<text x="324.50" y="329.28" font-size="6.60" textLength="9.35" lengthAdjust="spacingAndGlyphs" stroke="#262626" stroke-width="0.12" text-anchor="middle">NS</text>
<line x1="337.10" y1="332.50" x2="354.00" y2="332.50" stroke="#3a3a3a" stroke-width="0.8" />
<text x="345.55" y="329.28" font-size="6.60" textLength="9.35" lengthAdjust="spacingAndGlyphs" stroke="#262626" stroke-width="0.12" text-anchor="middle">NS</text>
<text transform="translate(265.20,374.30) rotate(-90)" y="2.81" font-size="7.80" textLength="57.14" lengthAdjust="spacingAndGlyphs" stroke="#262626" stroke-width="0.12" text-anchor="middle"><tspan font-style="italic">LRRC32</tspan> mRNA</text>
<text transform="translate(274.60,374.30) rotate(-90)" y="2.81" font-size="7.80" textLength="97.26" lengthAdjust="spacingAndGlyphs" stroke="#262626" stroke-width="0.12" text-anchor="middle">expression per individual</text>
<text x="381.00" y="315.20" font-size="12" font-weight="bold" fill="#000">i</text>
<line x1="417.40" y1="324.30" x2="417.40" y2="419.30" stroke="#6f6f6f" stroke-width="0.8" />
<line x1="413.80" y1="324.30" x2="417.40" y2="324.30" stroke="#6f6f6f" stroke-width="0.8" />
<text x="410.00" y="326.82" font-size="7.00" textLength="4.09" lengthAdjust="spacingAndGlyphs" stroke="#262626" stroke-width="0.12" text-anchor="end">4</text>
<line x1="413.80" y1="348.00" x2="417.40" y2="348.00" stroke="#6f6f6f" stroke-width="0.8" />
<text x="410.00" y="350.52" font-size="7.00" textLength="4.09" lengthAdjust="spacingAndGlyphs" stroke="#262626" stroke-width="0.12" text-anchor="end">3</text>
<line x1="413.80" y1="371.60" x2="417.40" y2="371.60" stroke="#6f6f6f" stroke-width="0.8" />
<text x="410.00" y="374.12" font-size="7.00" textLength="4.09" lengthAdjust="spacingAndGlyphs" stroke="#262626" stroke-width="0.12" text-anchor="end">2</text>
<line x1="413.80" y1="395.40" x2="417.40" y2="395.40" stroke="#6f6f6f" stroke-width="0.8" />
<text x="410.00" y="397.92" font-size="7.00" textLength="3.11" lengthAdjust="spacingAndGlyphs" stroke="#262626" stroke-width="0.12" text-anchor="end">1</text>
<line x1="413.80" y1="419.20" x2="417.40" y2="419.20" stroke="#6f6f6f" stroke-width="0.8" />
<text x="410.00" y="421.72" font-size="7.00" textLength="4.09" lengthAdjust="spacingAndGlyphs" stroke="#262626" stroke-width="0.12" text-anchor="end">0</text>
<line x1="417.40" y1="419.30" x2="480.50" y2="419.30" stroke="#6f6f6f" stroke-width="0.8" />
<line x1="430.30" y1="419.30" x2="430.30" y2="422.60" stroke="#6f6f6f" stroke-width="0.8" />
<text x="430.30" y="432.92" font-size="7.00" textLength="10.31" lengthAdjust="spacingAndGlyphs" stroke="#262626" stroke-width="0.12" text-anchor="middle">HC</text>
<line x1="449.30" y1="419.30" x2="449.30" y2="422.60" stroke="#6f6f6f" stroke-width="0.8" />
<text x="449.30" y="432.92" font-size="7.00" textLength="12.16" lengthAdjust="spacingAndGlyphs" stroke="#262626" stroke-width="0.12" text-anchor="middle">Mel</text>
<line x1="468.10" y1="419.30" x2="468.10" y2="422.60" stroke="#6f6f6f" stroke-width="0.8" />
<text x="468.10" y="432.92" font-size="7.00" textLength="10.32" lengthAdjust="spacingAndGlyphs" stroke="#262626" stroke-width="0.12" text-anchor="middle">TIL</text>
<line x1="430.30" y1="376.00" x2="430.30" y2="390.50" stroke="#555555" stroke-width="0.8" />
<line x1="424.10" y1="383.50" x2="436.50" y2="383.50" stroke="#555555" stroke-width="0.8" />
<line x1="427.00" y1="376.00" x2="433.60" y2="376.00" stroke="#555555" stroke-width="0.8" />
<line x1="427.00" y1="390.50" x2="433.60" y2="390.50" stroke="#555555" stroke-width="0.8" />
<line x1="449.30" y1="392.40" x2="449.30" y2="407.30" stroke="#555555" stroke-width="0.8" />
<line x1="443.10" y1="399.80" x2="455.50" y2="399.80" stroke="#555555" stroke-width="0.8" />
<line x1="446.00" y1="392.40" x2="452.60" y2="392.40" stroke="#555555" stroke-width="0.8" />
<line x1="446.00" y1="407.30" x2="452.60" y2="407.30" stroke="#555555" stroke-width="0.8" />
<line x1="468.10" y1="334.00" x2="468.10" y2="356.30" stroke="#555555" stroke-width="0.8" />
<line x1="461.90" y1="345.40" x2="474.30" y2="345.40" stroke="#555555" stroke-width="0.8" />
<line x1="464.80" y1="334.00" x2="471.40" y2="334.00" stroke="#555555" stroke-width="0.8" />
<line x1="464.80" y1="356.30" x2="471.40" y2="356.30" stroke="#555555" stroke-width="0.8" />
<circle cx="430.30" cy="370.50" r="2.70" fill="#f2756f" stroke="#2a2a2a" stroke-width="0.55"/>
<circle cx="430.30" cy="383.60" r="2.70" fill="#f2756f" stroke="#2a2a2a" stroke-width="0.55"/>
<circle cx="430.30" cy="395.50" r="2.70" fill="#f2756f" stroke="#2a2a2a" stroke-width="0.55"/>
<circle cx="449.30" cy="386.30" r="2.70" fill="#1f8a4c" stroke="#2a2a2a" stroke-width="0.55"/>
<circle cx="449.30" cy="400.30" r="2.70" fill="#1f8a4c" stroke="#2a2a2a" stroke-width="0.55"/>
<circle cx="449.30" cy="412.50" r="2.70" fill="#1f8a4c" stroke="#2a2a2a" stroke-width="0.55"/>
<circle cx="464.40" cy="333.50" r="2.70" fill="#4a87d4" stroke="#2a2a2a" stroke-width="0.55"/>
<circle cx="471.80" cy="334.00" r="2.70" fill="#4a87d4" stroke="#2a2a2a" stroke-width="0.55"/>
<circle cx="468.10" cy="336.90" r="2.70" fill="#4a87d4" stroke="#2a2a2a" stroke-width="0.55"/>
<circle cx="468.10" cy="379.40" r="2.70" fill="#4a87d4" stroke="#2a2a2a" stroke-width="0.55"/>
<line x1="430.20" y1="309.50" x2="468.40" y2="309.50" stroke="#3a3a3a" stroke-width="0.8" />
<text x="449.30" y="306.68" font-size="6.60" textLength="9.35" lengthAdjust="spacingAndGlyphs" stroke="#262626" stroke-width="0.12" text-anchor="middle">NS</text>
<line x1="430.20" y1="321.50" x2="447.30" y2="321.50" stroke="#3a3a3a" stroke-width="0.8" />
<text x="438.75" y="318.78" font-size="6.60" textLength="9.35" lengthAdjust="spacingAndGlyphs" stroke="#262626" stroke-width="0.12" text-anchor="middle">NS</text>
<line x1="451.10" y1="321.50" x2="468.40" y2="321.50" stroke="#3a3a3a" stroke-width="0.8" />
<text x="459.75" y="321.60" font-size="9.00" stroke="#262626" stroke-width="0.12" text-anchor="middle" font-weight="bold">*</text>
<text transform="translate(386.00,371.80) rotate(-90)" y="2.81" font-size="7.80" textLength="46.70" lengthAdjust="spacingAndGlyphs" stroke="#262626" stroke-width="0.12" text-anchor="middle"><tspan font-style="italic">TIGIT</tspan> mRNA</text>
<text transform="translate(394.20,371.80) rotate(-90)" y="2.81" font-size="7.80" textLength="97.26" lengthAdjust="spacingAndGlyphs" stroke="#262626" stroke-width="0.12" text-anchor="middle">expression per individual</text>
<text x="0.00" y="452.20" font-size="12" font-weight="bold" fill="#000">j</text>
<text x="200.70" y="451.15" font-size="8.20" textLength="24.17" lengthAdjust="spacingAndGlyphs" stroke="#262626" stroke-width="0.12" text-anchor="middle">PBMC</text>
<line x1="93.00" y1="452.90" x2="314.00" y2="452.90" stroke="#555" stroke-width="0.8" />
<rect x="47.00" y="467.60" width="87.00" height="87.20" fill="none" stroke="#8a8a8a" stroke-width="0.7" />
<line x1="47.00" y1="470.28" x2="48.10" y2="470.28" stroke="#444" stroke-width="0.35" />
<line x1="45.40" y1="475.50" x2="48.60" y2="475.50" stroke="#444" stroke-width="0.5" />
<line x1="47.00" y1="487.63" x2="48.10" y2="487.63" stroke="#444" stroke-width="0.35" />
<line x1="47.00" y1="484.57" x2="48.10" y2="484.57" stroke="#444" stroke-width="0.35" />
<line x1="47.00" y1="482.40" x2="48.10" y2="482.40" stroke="#444" stroke-width="0.35" />
<line x1="47.00" y1="480.72" x2="48.10" y2="480.72" stroke="#444" stroke-width="0.35" />
<line x1="47.00" y1="479.35" x2="48.10" y2="479.35" stroke="#444" stroke-width="0.35" />
<line x1="47.00" y1="478.19" x2="48.10" y2="478.19" stroke="#444" stroke-width="0.35" />
<line x1="47.00" y1="477.18" x2="48.10" y2="477.18" stroke="#444" stroke-width="0.35" />
<line x1="47.00" y1="476.29" x2="48.10" y2="476.29" stroke="#444" stroke-width="0.35" />
<line x1="45.40" y1="492.85" x2="48.60" y2="492.85" stroke="#444" stroke-width="0.5" />
<line x1="47.00" y1="504.98" x2="48.10" y2="504.98" stroke="#444" stroke-width="0.35" />
<line x1="47.00" y1="501.92" x2="48.10" y2="501.92" stroke="#444" stroke-width="0.35" />
<line x1="47.00" y1="499.75" x2="48.10" y2="499.75" stroke="#444" stroke-width="0.35" />
<line x1="47.00" y1="498.07" x2="48.10" y2="498.07" stroke="#444" stroke-width="0.35" />
<line x1="47.00" y1="496.70" x2="48.10" y2="496.70" stroke="#444" stroke-width="0.35" />
<line x1="47.00" y1="495.54" x2="48.10" y2="495.54" stroke="#444" stroke-width="0.35" />
<line x1="47.00" y1="494.53" x2="48.10" y2="494.53" stroke="#444" stroke-width="0.35" />
<line x1="47.00" y1="493.64" x2="48.10" y2="493.64" stroke="#444" stroke-width="0.35" />
<line x1="45.40" y1="510.20" x2="48.60" y2="510.20" stroke="#444" stroke-width="0.5" />
<line x1="47.00" y1="522.33" x2="48.10" y2="522.33" stroke="#444" stroke-width="0.35" />
<line x1="47.00" y1="519.27" x2="48.10" y2="519.27" stroke="#444" stroke-width="0.35" />
<line x1="47.00" y1="517.10" x2="48.10" y2="517.10" stroke="#444" stroke-width="0.35" />
<line x1="47.00" y1="515.42" x2="48.10" y2="515.42" stroke="#444" stroke-width="0.35" />
<line x1="47.00" y1="514.05" x2="48.10" y2="514.05" stroke="#444" stroke-width="0.35" />
<line x1="47.00" y1="512.89" x2="48.10" y2="512.89" stroke="#444" stroke-width="0.35" />
<line x1="47.00" y1="511.88" x2="48.10" y2="511.88" stroke="#444" stroke-width="0.35" />
<line x1="47.00" y1="510.99" x2="48.10" y2="510.99" stroke="#444" stroke-width="0.35" />
<line x1="45.40" y1="527.55" x2="48.60" y2="527.55" stroke="#444" stroke-width="0.5" />
<line x1="47.00" y1="539.68" x2="48.10" y2="539.68" stroke="#444" stroke-width="0.35" />
<line x1="47.00" y1="536.62" x2="48.10" y2="536.62" stroke="#444" stroke-width="0.35" />
<line x1="47.00" y1="534.45" x2="48.10" y2="534.45" stroke="#444" stroke-width="0.35" />
<line x1="47.00" y1="532.77" x2="48.10" y2="532.77" stroke="#444" stroke-width="0.35" />
<line x1="47.00" y1="531.40" x2="48.10" y2="531.40" stroke="#444" stroke-width="0.35" />
<line x1="47.00" y1="530.24" x2="48.10" y2="530.24" stroke="#444" stroke-width="0.35" />
<line x1="47.00" y1="529.23" x2="48.10" y2="529.23" stroke="#444" stroke-width="0.35" />
<line x1="47.00" y1="528.34" x2="48.10" y2="528.34" stroke="#444" stroke-width="0.35" />
<line x1="45.40" y1="544.90" x2="48.60" y2="544.90" stroke="#444" stroke-width="0.5" />
<line x1="48.70" y1="553.70" x2="48.70" y2="554.80" stroke="#444" stroke-width="0.35" />
<line x1="50.38" y1="553.70" x2="50.38" y2="554.80" stroke="#444" stroke-width="0.35" />
<line x1="51.75" y1="553.70" x2="51.75" y2="554.80" stroke="#444" stroke-width="0.35" />
<line x1="52.91" y1="553.70" x2="52.91" y2="554.80" stroke="#444" stroke-width="0.35" />
<line x1="53.92" y1="553.70" x2="53.92" y2="554.80" stroke="#444" stroke-width="0.35" />
<line x1="54.81" y1="553.70" x2="54.81" y2="554.80" stroke="#444" stroke-width="0.35" />
<line x1="60.82" y1="553.70" x2="60.82" y2="554.80" stroke="#444" stroke-width="0.35" />
<line x1="63.88" y1="553.70" x2="63.88" y2="554.80" stroke="#444" stroke-width="0.35" />
<line x1="66.05" y1="553.70" x2="66.05" y2="554.80" stroke="#444" stroke-width="0.35" />
<line x1="67.73" y1="553.70" x2="67.73" y2="554.80" stroke="#444" stroke-width="0.35" />
<line x1="69.10" y1="553.70" x2="69.10" y2="554.80" stroke="#444" stroke-width="0.35" />
<line x1="70.26" y1="553.70" x2="70.26" y2="554.80" stroke="#444" stroke-width="0.35" />
<line x1="71.27" y1="553.70" x2="71.27" y2="554.80" stroke="#444" stroke-width="0.35" />
<line x1="72.16" y1="553.70" x2="72.16" y2="554.80" stroke="#444" stroke-width="0.35" />
<line x1="78.17" y1="553.70" x2="78.17" y2="554.80" stroke="#444" stroke-width="0.35" />
<line x1="81.23" y1="553.70" x2="81.23" y2="554.80" stroke="#444" stroke-width="0.35" />
<line x1="83.40" y1="553.70" x2="83.40" y2="554.80" stroke="#444" stroke-width="0.35" />
<line x1="85.08" y1="553.70" x2="85.08" y2="554.80" stroke="#444" stroke-width="0.35" />
<line x1="86.45" y1="553.70" x2="86.45" y2="554.80" stroke="#444" stroke-width="0.35" />
<line x1="87.61" y1="553.70" x2="87.61" y2="554.80" stroke="#444" stroke-width="0.35" />
<line x1="88.62" y1="553.70" x2="88.62" y2="554.80" stroke="#444" stroke-width="0.35" />
<line x1="89.51" y1="553.70" x2="89.51" y2="554.80" stroke="#444" stroke-width="0.35" />
<line x1="95.52" y1="553.70" x2="95.52" y2="554.80" stroke="#444" stroke-width="0.35" />
<line x1="98.58" y1="553.70" x2="98.58" y2="554.80" stroke="#444" stroke-width="0.35" />
<line x1="100.75" y1="553.70" x2="100.75" y2="554.80" stroke="#444" stroke-width="0.35" />
<line x1="102.43" y1="553.70" x2="102.43" y2="554.80" stroke="#444" stroke-width="0.35" />
<line x1="103.80" y1="553.70" x2="103.80" y2="554.80" stroke="#444" stroke-width="0.35" />
<line x1="104.96" y1="553.70" x2="104.96" y2="554.80" stroke="#444" stroke-width="0.35" />
<line x1="105.97" y1="553.70" x2="105.97" y2="554.80" stroke="#444" stroke-width="0.35" />
<line x1="106.86" y1="553.70" x2="106.86" y2="554.80" stroke="#444" stroke-width="0.35" />
<line x1="112.87" y1="553.70" x2="112.87" y2="554.80" stroke="#444" stroke-width="0.35" />
<line x1="115.93" y1="553.70" x2="115.93" y2="554.80" stroke="#444" stroke-width="0.35" />
<line x1="118.10" y1="553.70" x2="118.10" y2="554.80" stroke="#444" stroke-width="0.35" />
<line x1="119.78" y1="553.70" x2="119.78" y2="554.80" stroke="#444" stroke-width="0.35" />
<line x1="121.15" y1="553.70" x2="121.15" y2="554.80" stroke="#444" stroke-width="0.35" />
<line x1="122.31" y1="553.70" x2="122.31" y2="554.80" stroke="#444" stroke-width="0.35" />
<line x1="123.32" y1="553.70" x2="123.32" y2="554.80" stroke="#444" stroke-width="0.35" />
<line x1="124.21" y1="553.70" x2="124.21" y2="554.80" stroke="#444" stroke-width="0.35" />
<line x1="130.22" y1="553.70" x2="130.22" y2="554.80" stroke="#444" stroke-width="0.35" />
<line x1="55.60" y1="553.20" x2="55.60" y2="556.40" stroke="#444" stroke-width="0.5" />
<line x1="72.95" y1="553.20" x2="72.95" y2="556.40" stroke="#444" stroke-width="0.5" />
<line x1="90.30" y1="553.20" x2="90.30" y2="556.40" stroke="#444" stroke-width="0.5" />
<line x1="107.65" y1="553.20" x2="107.65" y2="556.40" stroke="#444" stroke-width="0.5" />
<line x1="125.00" y1="553.20" x2="125.00" y2="556.40" stroke="#444" stroke-width="0.5" />
<text x="41.00" y="478.42" font-size="7.00" textLength="9.89" lengthAdjust="spacingAndGlyphs" stroke="#262626" stroke-width="0.12" text-anchor="end">10<tspan font-size="4.6" baseline-shift="3">5</tspan></text>
<text x="41.00" y="495.77" font-size="7.00" textLength="9.89" lengthAdjust="spacingAndGlyphs" stroke="#262626" stroke-width="0.12" text-anchor="end">10<tspan font-size="4.6" baseline-shift="3">4</tspan></text>
<text x="41.00" y="513.12" font-size="7.00" textLength="9.89" lengthAdjust="spacingAndGlyphs" stroke="#262626" stroke-width="0.12" text-anchor="end">10<tspan font-size="4.6" baseline-shift="3">3</tspan></text>
<text x="41.00" y="530.47" font-size="7.00" textLength="9.89" lengthAdjust="spacingAndGlyphs" stroke="#262626" stroke-width="0.12" text-anchor="end">10<tspan font-size="4.6" baseline-shift="3">2</tspan></text>
<text x="41.00" y="547.82" font-size="7.00" textLength="9.25" lengthAdjust="spacingAndGlyphs" stroke="#262626" stroke-width="0.12" text-anchor="end">10<tspan font-size="4.6" baseline-shift="3">1</tspan></text>
<text x="56.60" y="565.52" font-size="7.00" textLength="9.25" lengthAdjust="spacingAndGlyphs" stroke="#262626" stroke-width="0.12" text-anchor="middle">10<tspan font-size="4.6" baseline-shift="3">1</tspan></text>
<text x="73.95" y="565.52" font-size="7.00" textLength="9.89" lengthAdjust="spacingAndGlyphs" stroke="#262626" stroke-width="0.12" text-anchor="middle">10<tspan font-size="4.6" baseline-shift="3">2</tspan></text>
<text x="91.30" y="565.52" font-size="7.00" textLength="9.89" lengthAdjust="spacingAndGlyphs" stroke="#262626" stroke-width="0.12" text-anchor="middle">10<tspan font-size="4.6" baseline-shift="3">3</tspan></text>
<text x="108.65" y="565.52" font-size="7.00" textLength="9.89" lengthAdjust="spacingAndGlyphs" stroke="#262626" stroke-width="0.12" text-anchor="middle">10<tspan font-size="4.6" baseline-shift="3">4</tspan></text>
<text x="126.00" y="565.52" font-size="7.00" textLength="9.89" lengthAdjust="spacingAndGlyphs" stroke="#262626" stroke-width="0.12" text-anchor="middle">10<tspan font-size="4.6" baseline-shift="3">5</tspan></text>
<rect x="63.30" y="469.60" width="58.30" height="40.80" fill="none" stroke="#555" stroke-width="0.6" />
<text x="117.00" y="478.92" font-size="7.00" textLength="13.23" lengthAdjust="spacingAndGlyphs" stroke="#262626" stroke-width="0.12" text-anchor="end">0.91</text>
<text x="93.00" y="464.28" font-size="8.00" textLength="18.13" lengthAdjust="spacingAndGlyphs" stroke="#262626" stroke-width="0.12" text-anchor="middle">FMO</text>
<rect x="158.00" y="467.60" width="87.00" height="87.20" fill="none" stroke="#8a8a8a" stroke-width="0.7" />
<line x1="158.00" y1="470.28" x2="159.10" y2="470.28" stroke="#444" stroke-width="0.35" />
<line x1="156.40" y1="475.50" x2="159.60" y2="475.50" stroke="#444" stroke-width="0.5" />
<line x1="158.00" y1="487.63" x2="159.10" y2="487.63" stroke="#444" stroke-width="0.35" />
<line x1="158.00" y1="484.57" x2="159.10" y2="484.57" stroke="#444" stroke-width="0.35" />
<line x1="158.00" y1="482.40" x2="159.10" y2="482.40" stroke="#444" stroke-width="0.35" />
<line x1="158.00" y1="480.72" x2="159.10" y2="480.72" stroke="#444" stroke-width="0.35" />
<line x1="158.00" y1="479.35" x2="159.10" y2="479.35" stroke="#444" stroke-width="0.35" />
<line x1="158.00" y1="478.19" x2="159.10" y2="478.19" stroke="#444" stroke-width="0.35" />
<line x1="158.00" y1="477.18" x2="159.10" y2="477.18" stroke="#444" stroke-width="0.35" />
<line x1="158.00" y1="476.29" x2="159.10" y2="476.29" stroke="#444" stroke-width="0.35" />
<line x1="156.40" y1="492.85" x2="159.60" y2="492.85" stroke="#444" stroke-width="0.5" />
<line x1="158.00" y1="504.98" x2="159.10" y2="504.98" stroke="#444" stroke-width="0.35" />
<line x1="158.00" y1="501.92" x2="159.10" y2="501.92" stroke="#444" stroke-width="0.35" />
<line x1="158.00" y1="499.75" x2="159.10" y2="499.75" stroke="#444" stroke-width="0.35" />
<line x1="158.00" y1="498.07" x2="159.10" y2="498.07" stroke="#444" stroke-width="0.35" />
<line x1="158.00" y1="496.70" x2="159.10" y2="496.70" stroke="#444" stroke-width="0.35" />
<line x1="158.00" y1="495.54" x2="159.10" y2="495.54" stroke="#444" stroke-width="0.35" />
<line x1="158.00" y1="494.53" x2="159.10" y2="494.53" stroke="#444" stroke-width="0.35" />
<line x1="158.00" y1="493.64" x2="159.10" y2="493.64" stroke="#444" stroke-width="0.35" />
<line x1="156.40" y1="510.20" x2="159.60" y2="510.20" stroke="#444" stroke-width="0.5" />
<line x1="158.00" y1="522.33" x2="159.10" y2="522.33" stroke="#444" stroke-width="0.35" />
<line x1="158.00" y1="519.27" x2="159.10" y2="519.27" stroke="#444" stroke-width="0.35" />
<line x1="158.00" y1="517.10" x2="159.10" y2="517.10" stroke="#444" stroke-width="0.35" />
<line x1="158.00" y1="515.42" x2="159.10" y2="515.42" stroke="#444" stroke-width="0.35" />
<line x1="158.00" y1="514.05" x2="159.10" y2="514.05" stroke="#444" stroke-width="0.35" />
<line x1="158.00" y1="512.89" x2="159.10" y2="512.89" stroke="#444" stroke-width="0.35" />
<line x1="158.00" y1="511.88" x2="159.10" y2="511.88" stroke="#444" stroke-width="0.35" />
<line x1="158.00" y1="510.99" x2="159.10" y2="510.99" stroke="#444" stroke-width="0.35" />
<line x1="156.40" y1="527.55" x2="159.60" y2="527.55" stroke="#444" stroke-width="0.5" />
<line x1="158.00" y1="539.68" x2="159.10" y2="539.68" stroke="#444" stroke-width="0.35" />
<line x1="158.00" y1="536.62" x2="159.10" y2="536.62" stroke="#444" stroke-width="0.35" />
<line x1="158.00" y1="534.45" x2="159.10" y2="534.45" stroke="#444" stroke-width="0.35" />
<line x1="158.00" y1="532.77" x2="159.10" y2="532.77" stroke="#444" stroke-width="0.35" />
<line x1="158.00" y1="531.40" x2="159.10" y2="531.40" stroke="#444" stroke-width="0.35" />
<line x1="158.00" y1="530.24" x2="159.10" y2="530.24" stroke="#444" stroke-width="0.35" />
<line x1="158.00" y1="529.23" x2="159.10" y2="529.23" stroke="#444" stroke-width="0.35" />
<line x1="158.00" y1="528.34" x2="159.10" y2="528.34" stroke="#444" stroke-width="0.35" />
<line x1="156.40" y1="544.90" x2="159.60" y2="544.90" stroke="#444" stroke-width="0.5" />
<line x1="159.70" y1="553.70" x2="159.70" y2="554.80" stroke="#444" stroke-width="0.35" />
<line x1="161.38" y1="553.70" x2="161.38" y2="554.80" stroke="#444" stroke-width="0.35" />
<line x1="162.75" y1="553.70" x2="162.75" y2="554.80" stroke="#444" stroke-width="0.35" />
<line x1="163.91" y1="553.70" x2="163.91" y2="554.80" stroke="#444" stroke-width="0.35" />
<line x1="164.92" y1="553.70" x2="164.92" y2="554.80" stroke="#444" stroke-width="0.35" />
<line x1="165.81" y1="553.70" x2="165.81" y2="554.80" stroke="#444" stroke-width="0.35" />
<line x1="171.82" y1="553.70" x2="171.82" y2="554.80" stroke="#444" stroke-width="0.35" />
<line x1="174.88" y1="553.70" x2="174.88" y2="554.80" stroke="#444" stroke-width="0.35" />
<line x1="177.05" y1="553.70" x2="177.05" y2="554.80" stroke="#444" stroke-width="0.35" />
<line x1="178.73" y1="553.70" x2="178.73" y2="554.80" stroke="#444" stroke-width="0.35" />
<line x1="180.10" y1="553.70" x2="180.10" y2="554.80" stroke="#444" stroke-width="0.35" />
<line x1="181.26" y1="553.70" x2="181.26" y2="554.80" stroke="#444" stroke-width="0.35" />
<line x1="182.27" y1="553.70" x2="182.27" y2="554.80" stroke="#444" stroke-width="0.35" />
<line x1="183.16" y1="553.70" x2="183.16" y2="554.80" stroke="#444" stroke-width="0.35" />
<line x1="189.17" y1="553.70" x2="189.17" y2="554.80" stroke="#444" stroke-width="0.35" />
<line x1="192.23" y1="553.70" x2="192.23" y2="554.80" stroke="#444" stroke-width="0.35" />
<line x1="194.40" y1="553.70" x2="194.40" y2="554.80" stroke="#444" stroke-width="0.35" />
<line x1="196.08" y1="553.70" x2="196.08" y2="554.80" stroke="#444" stroke-width="0.35" />
<line x1="197.45" y1="553.70" x2="197.45" y2="554.80" stroke="#444" stroke-width="0.35" />
<line x1="198.61" y1="553.70" x2="198.61" y2="554.80" stroke="#444" stroke-width="0.35" />
<line x1="199.62" y1="553.70" x2="199.62" y2="554.80" stroke="#444" stroke-width="0.35" />
<line x1="200.51" y1="553.70" x2="200.51" y2="554.80" stroke="#444" stroke-width="0.35" />
<line x1="206.52" y1="553.70" x2="206.52" y2="554.80" stroke="#444" stroke-width="0.35" />
<line x1="209.58" y1="553.70" x2="209.58" y2="554.80" stroke="#444" stroke-width="0.35" />
<line x1="211.75" y1="553.70" x2="211.75" y2="554.80" stroke="#444" stroke-width="0.35" />
<line x1="213.43" y1="553.70" x2="213.43" y2="554.80" stroke="#444" stroke-width="0.35" />
<line x1="214.80" y1="553.70" x2="214.80" y2="554.80" stroke="#444" stroke-width="0.35" />
<line x1="215.96" y1="553.70" x2="215.96" y2="554.80" stroke="#444" stroke-width="0.35" />
<line x1="216.97" y1="553.70" x2="216.97" y2="554.80" stroke="#444" stroke-width="0.35" />
<line x1="217.86" y1="553.70" x2="217.86" y2="554.80" stroke="#444" stroke-width="0.35" />
<line x1="223.87" y1="553.70" x2="223.87" y2="554.80" stroke="#444" stroke-width="0.35" />
<line x1="226.93" y1="553.70" x2="226.93" y2="554.80" stroke="#444" stroke-width="0.35" />
<line x1="229.10" y1="553.70" x2="229.10" y2="554.80" stroke="#444" stroke-width="0.35" />
<line x1="230.78" y1="553.70" x2="230.78" y2="554.80" stroke="#444" stroke-width="0.35" />
<line x1="232.15" y1="553.70" x2="232.15" y2="554.80" stroke="#444" stroke-width="0.35" />
<line x1="233.31" y1="553.70" x2="233.31" y2="554.80" stroke="#444" stroke-width="0.35" />
<line x1="234.32" y1="553.70" x2="234.32" y2="554.80" stroke="#444" stroke-width="0.35" />
<line x1="235.21" y1="553.70" x2="235.21" y2="554.80" stroke="#444" stroke-width="0.35" />
<line x1="241.22" y1="553.70" x2="241.22" y2="554.80" stroke="#444" stroke-width="0.35" />
<line x1="166.60" y1="553.20" x2="166.60" y2="556.40" stroke="#444" stroke-width="0.5" />
<line x1="183.95" y1="553.20" x2="183.95" y2="556.40" stroke="#444" stroke-width="0.5" />
<line x1="201.30" y1="553.20" x2="201.30" y2="556.40" stroke="#444" stroke-width="0.5" />
<line x1="218.65" y1="553.20" x2="218.65" y2="556.40" stroke="#444" stroke-width="0.5" />
<line x1="236.00" y1="553.20" x2="236.00" y2="556.40" stroke="#444" stroke-width="0.5" />
<text x="152.00" y="478.42" font-size="7.00" textLength="9.89" lengthAdjust="spacingAndGlyphs" stroke="#262626" stroke-width="0.12" text-anchor="end">10<tspan font-size="4.6" baseline-shift="3">5</tspan></text>
<text x="152.00" y="495.77" font-size="7.00" textLength="9.89" lengthAdjust="spacingAndGlyphs" stroke="#262626" stroke-width="0.12" text-anchor="end">10<tspan font-size="4.6" baseline-shift="3">4</tspan></text>
<text x="152.00" y="513.12" font-size="7.00" textLength="9.89" lengthAdjust="spacingAndGlyphs" stroke="#262626" stroke-width="0.12" text-anchor="end">10<tspan font-size="4.6" baseline-shift="3">3</tspan></text>
<text x="152.00" y="530.47" font-size="7.00" textLength="9.89" lengthAdjust="spacingAndGlyphs" stroke="#262626" stroke-width="0.12" text-anchor="end">10<tspan font-size="4.6" baseline-shift="3">2</tspan></text>
<text x="152.00" y="547.82" font-size="7.00" textLength="9.25" lengthAdjust="spacingAndGlyphs" stroke="#262626" stroke-width="0.12" text-anchor="end">10<tspan font-size="4.6" baseline-shift="3">1</tspan></text>
<text x="167.60" y="565.52" font-size="7.00" textLength="9.25" lengthAdjust="spacingAndGlyphs" stroke="#262626" stroke-width="0.12" text-anchor="middle">10<tspan font-size="4.6" baseline-shift="3">1</tspan></text>
<text x="184.95" y="565.52" font-size="7.00" textLength="9.89" lengthAdjust="spacingAndGlyphs" stroke="#262626" stroke-width="0.12" text-anchor="middle">10<tspan font-size="4.6" baseline-shift="3">2</tspan></text>
<text x="202.30" y="565.52" font-size="7.00" textLength="9.89" lengthAdjust="spacingAndGlyphs" stroke="#262626" stroke-width="0.12" text-anchor="middle">10<tspan font-size="4.6" baseline-shift="3">3</tspan></text>
<text x="219.65" y="565.52" font-size="7.00" textLength="9.89" lengthAdjust="spacingAndGlyphs" stroke="#262626" stroke-width="0.12" text-anchor="middle">10<tspan font-size="4.6" baseline-shift="3">4</tspan></text>
<text x="237.00" y="565.52" font-size="7.00" textLength="9.89" lengthAdjust="spacingAndGlyphs" stroke="#262626" stroke-width="0.12" text-anchor="middle">10<tspan font-size="4.6" baseline-shift="3">5</tspan></text>
<rect x="174.70" y="469.80" width="58.80" height="40.60" fill="none" stroke="#555" stroke-width="0.6" />
<text x="229.00" y="478.92" font-size="7.00" textLength="14.21" lengthAdjust="spacingAndGlyphs" stroke="#262626" stroke-width="0.12" text-anchor="end">25.0</text>
<text x="199.00" y="464.28" font-size="8.00" textLength="58.73" lengthAdjust="spacingAndGlyphs" stroke="#262626" stroke-width="0.12" text-anchor="middle">Isotype control</text>
<rect x="267.40" y="467.60" width="87.00" height="87.20" fill="none" stroke="#8a8a8a" stroke-width="0.7" />
<line x1="267.40" y1="470.28" x2="268.50" y2="470.28" stroke="#444" stroke-width="0.35" />
<line x1="265.80" y1="475.50" x2="269.00" y2="475.50" stroke="#444" stroke-width="0.5" />
<line x1="267.40" y1="487.63" x2="268.50" y2="487.63" stroke="#444" stroke-width="0.35" />
<line x1="267.40" y1="484.57" x2="268.50" y2="484.57" stroke="#444" stroke-width="0.35" />
<line x1="267.40" y1="482.40" x2="268.50" y2="482.40" stroke="#444" stroke-width="0.35" />
<line x1="267.40" y1="480.72" x2="268.50" y2="480.72" stroke="#444" stroke-width="0.35" />
<line x1="267.40" y1="479.35" x2="268.50" y2="479.35" stroke="#444" stroke-width="0.35" />
<line x1="267.40" y1="478.19" x2="268.50" y2="478.19" stroke="#444" stroke-width="0.35" />
<line x1="267.40" y1="477.18" x2="268.50" y2="477.18" stroke="#444" stroke-width="0.35" />
<line x1="267.40" y1="476.29" x2="268.50" y2="476.29" stroke="#444" stroke-width="0.35" />
<line x1="265.80" y1="492.85" x2="269.00" y2="492.85" stroke="#444" stroke-width="0.5" />
<line x1="267.40" y1="504.98" x2="268.50" y2="504.98" stroke="#444" stroke-width="0.35" />
<line x1="267.40" y1="501.92" x2="268.50" y2="501.92" stroke="#444" stroke-width="0.35" />
<line x1="267.40" y1="499.75" x2="268.50" y2="499.75" stroke="#444" stroke-width="0.35" />
<line x1="267.40" y1="498.07" x2="268.50" y2="498.07" stroke="#444" stroke-width="0.35" />
<line x1="267.40" y1="496.70" x2="268.50" y2="496.70" stroke="#444" stroke-width="0.35" />
<line x1="267.40" y1="495.54" x2="268.50" y2="495.54" stroke="#444" stroke-width="0.35" />
<line x1="267.40" y1="494.53" x2="268.50" y2="494.53" stroke="#444" stroke-width="0.35" />
<line x1="267.40" y1="493.64" x2="268.50" y2="493.64" stroke="#444" stroke-width="0.35" />
<line x1="265.80" y1="510.20" x2="269.00" y2="510.20" stroke="#444" stroke-width="0.5" />
<line x1="267.40" y1="522.33" x2="268.50" y2="522.33" stroke="#444" stroke-width="0.35" />
<line x1="267.40" y1="519.27" x2="268.50" y2="519.27" stroke="#444" stroke-width="0.35" />
<line x1="267.40" y1="517.10" x2="268.50" y2="517.10" stroke="#444" stroke-width="0.35" />
<line x1="267.40" y1="515.42" x2="268.50" y2="515.42" stroke="#444" stroke-width="0.35" />
<line x1="267.40" y1="514.05" x2="268.50" y2="514.05" stroke="#444" stroke-width="0.35" />
<line x1="267.40" y1="512.89" x2="268.50" y2="512.89" stroke="#444" stroke-width="0.35" />
<line x1="267.40" y1="511.88" x2="268.50" y2="511.88" stroke="#444" stroke-width="0.35" />
<line x1="267.40" y1="510.99" x2="268.50" y2="510.99" stroke="#444" stroke-width="0.35" />
<line x1="265.80" y1="527.55" x2="269.00" y2="527.55" stroke="#444" stroke-width="0.5" />
<line x1="267.40" y1="539.68" x2="268.50" y2="539.68" stroke="#444" stroke-width="0.35" />
<line x1="267.40" y1="536.62" x2="268.50" y2="536.62" stroke="#444" stroke-width="0.35" />
<line x1="267.40" y1="534.45" x2="268.50" y2="534.45" stroke="#444" stroke-width="0.35" />
<line x1="267.40" y1="532.77" x2="268.50" y2="532.77" stroke="#444" stroke-width="0.35" />
<line x1="267.40" y1="531.40" x2="268.50" y2="531.40" stroke="#444" stroke-width="0.35" />
<line x1="267.40" y1="530.24" x2="268.50" y2="530.24" stroke="#444" stroke-width="0.35" />
<line x1="267.40" y1="529.23" x2="268.50" y2="529.23" stroke="#444" stroke-width="0.35" />
<line x1="267.40" y1="528.34" x2="268.50" y2="528.34" stroke="#444" stroke-width="0.35" />
<line x1="265.80" y1="544.90" x2="269.00" y2="544.90" stroke="#444" stroke-width="0.5" />
<line x1="269.10" y1="553.70" x2="269.10" y2="554.80" stroke="#444" stroke-width="0.35" />
<line x1="270.78" y1="553.70" x2="270.78" y2="554.80" stroke="#444" stroke-width="0.35" />
<line x1="272.15" y1="553.70" x2="272.15" y2="554.80" stroke="#444" stroke-width="0.35" />
<line x1="273.31" y1="553.70" x2="273.31" y2="554.80" stroke="#444" stroke-width="0.35" />
<line x1="274.32" y1="553.70" x2="274.32" y2="554.80" stroke="#444" stroke-width="0.35" />
<line x1="275.21" y1="553.70" x2="275.21" y2="554.80" stroke="#444" stroke-width="0.35" />
<line x1="281.22" y1="553.70" x2="281.22" y2="554.80" stroke="#444" stroke-width="0.35" />
<line x1="284.28" y1="553.70" x2="284.28" y2="554.80" stroke="#444" stroke-width="0.35" />
<line x1="286.45" y1="553.70" x2="286.45" y2="554.80" stroke="#444" stroke-width="0.35" />
<line x1="288.13" y1="553.70" x2="288.13" y2="554.80" stroke="#444" stroke-width="0.35" />
<line x1="289.50" y1="553.70" x2="289.50" y2="554.80" stroke="#444" stroke-width="0.35" />
<line x1="290.66" y1="553.70" x2="290.66" y2="554.80" stroke="#444" stroke-width="0.35" />
<line x1="291.67" y1="553.70" x2="291.67" y2="554.80" stroke="#444" stroke-width="0.35" />
<line x1="292.56" y1="553.70" x2="292.56" y2="554.80" stroke="#444" stroke-width="0.35" />
<line x1="298.57" y1="553.70" x2="298.57" y2="554.80" stroke="#444" stroke-width="0.35" />
<line x1="301.63" y1="553.70" x2="301.63" y2="554.80" stroke="#444" stroke-width="0.35" />
<line x1="303.80" y1="553.70" x2="303.80" y2="554.80" stroke="#444" stroke-width="0.35" />
<line x1="305.48" y1="553.70" x2="305.48" y2="554.80" stroke="#444" stroke-width="0.35" />
<line x1="306.85" y1="553.70" x2="306.85" y2="554.80" stroke="#444" stroke-width="0.35" />
<line x1="308.01" y1="553.70" x2="308.01" y2="554.80" stroke="#444" stroke-width="0.35" />
<line x1="309.02" y1="553.70" x2="309.02" y2="554.80" stroke="#444" stroke-width="0.35" />
<line x1="309.91" y1="553.70" x2="309.91" y2="554.80" stroke="#444" stroke-width="0.35" />
<line x1="315.92" y1="553.70" x2="315.92" y2="554.80" stroke="#444" stroke-width="0.35" />
<line x1="318.98" y1="553.70" x2="318.98" y2="554.80" stroke="#444" stroke-width="0.35" />
<line x1="321.15" y1="553.70" x2="321.15" y2="554.80" stroke="#444" stroke-width="0.35" />
<line x1="322.83" y1="553.70" x2="322.83" y2="554.80" stroke="#444" stroke-width="0.35" />
<line x1="324.20" y1="553.70" x2="324.20" y2="554.80" stroke="#444" stroke-width="0.35" />
<line x1="325.36" y1="553.70" x2="325.36" y2="554.80" stroke="#444" stroke-width="0.35" />
<line x1="326.37" y1="553.70" x2="326.37" y2="554.80" stroke="#444" stroke-width="0.35" />
<line x1="327.26" y1="553.70" x2="327.26" y2="554.80" stroke="#444" stroke-width="0.35" />
<line x1="333.27" y1="553.70" x2="333.27" y2="554.80" stroke="#444" stroke-width="0.35" />
<line x1="336.33" y1="553.70" x2="336.33" y2="554.80" stroke="#444" stroke-width="0.35" />
<line x1="338.50" y1="553.70" x2="338.50" y2="554.80" stroke="#444" stroke-width="0.35" />
<line x1="340.18" y1="553.70" x2="340.18" y2="554.80" stroke="#444" stroke-width="0.35" />
<line x1="341.55" y1="553.70" x2="341.55" y2="554.80" stroke="#444" stroke-width="0.35" />
<line x1="342.71" y1="553.70" x2="342.71" y2="554.80" stroke="#444" stroke-width="0.35" />
<line x1="343.72" y1="553.70" x2="343.72" y2="554.80" stroke="#444" stroke-width="0.35" />
<line x1="344.61" y1="553.70" x2="344.61" y2="554.80" stroke="#444" stroke-width="0.35" />
<line x1="350.62" y1="553.70" x2="350.62" y2="554.80" stroke="#444" stroke-width="0.35" />
<line x1="276.00" y1="553.20" x2="276.00" y2="556.40" stroke="#444" stroke-width="0.5" />
<line x1="293.35" y1="553.20" x2="293.35" y2="556.40" stroke="#444" stroke-width="0.5" />
<line x1="310.70" y1="553.20" x2="310.70" y2="556.40" stroke="#444" stroke-width="0.5" />
<line x1="328.05" y1="553.20" x2="328.05" y2="556.40" stroke="#444" stroke-width="0.5" />
<line x1="345.40" y1="553.20" x2="345.40" y2="556.40" stroke="#444" stroke-width="0.5" />
<text x="261.40" y="478.42" font-size="7.00" textLength="9.89" lengthAdjust="spacingAndGlyphs" stroke="#262626" stroke-width="0.12" text-anchor="end">10<tspan font-size="4.6" baseline-shift="3">5</tspan></text>
<text x="261.40" y="495.77" font-size="7.00" textLength="9.89" lengthAdjust="spacingAndGlyphs" stroke="#262626" stroke-width="0.12" text-anchor="end">10<tspan font-size="4.6" baseline-shift="3">4</tspan></text>
<text x="261.40" y="513.12" font-size="7.00" textLength="9.89" lengthAdjust="spacingAndGlyphs" stroke="#262626" stroke-width="0.12" text-anchor="end">10<tspan font-size="4.6" baseline-shift="3">3</tspan></text>
<text x="261.40" y="530.47" font-size="7.00" textLength="9.89" lengthAdjust="spacingAndGlyphs" stroke="#262626" stroke-width="0.12" text-anchor="end">10<tspan font-size="4.6" baseline-shift="3">2</tspan></text>
<text x="261.40" y="547.82" font-size="7.00" textLength="9.25" lengthAdjust="spacingAndGlyphs" stroke="#262626" stroke-width="0.12" text-anchor="end">10<tspan font-size="4.6" baseline-shift="3">1</tspan></text>
<text x="277.00" y="565.52" font-size="7.00" textLength="9.25" lengthAdjust="spacingAndGlyphs" stroke="#262626" stroke-width="0.12" text-anchor="middle">10<tspan font-size="4.6" baseline-shift="3">1</tspan></text>
<text x="294.35" y="565.52" font-size="7.00" textLength="9.89" lengthAdjust="spacingAndGlyphs" stroke="#262626" stroke-width="0.12" text-anchor="middle">10<tspan font-size="4.6" baseline-shift="3">2</tspan></text>
<text x="311.70" y="565.52" font-size="7.00" textLength="9.89" lengthAdjust="spacingAndGlyphs" stroke="#262626" stroke-width="0.12" text-anchor="middle">10<tspan font-size="4.6" baseline-shift="3">3</tspan></text>
<text x="329.05" y="565.52" font-size="7.00" textLength="9.89" lengthAdjust="spacingAndGlyphs" stroke="#262626" stroke-width="0.12" text-anchor="middle">10<tspan font-size="4.6" baseline-shift="3">4</tspan></text>
<text x="346.40" y="565.52" font-size="7.00" textLength="9.89" lengthAdjust="spacingAndGlyphs" stroke="#262626" stroke-width="0.12" text-anchor="middle">10<tspan font-size="4.6" baseline-shift="3">5</tspan></text>
<rect x="284.30" y="469.80" width="58.30" height="41.20" fill="none" stroke="#555" stroke-width="0.6" />
<text x="338.80" y="478.92" font-size="7.00" textLength="14.21" lengthAdjust="spacingAndGlyphs" stroke="#262626" stroke-width="0.12" text-anchor="end">54.5</text>
<text x="314.00" y="464.28" font-size="8.00" textLength="24.71" lengthAdjust="spacingAndGlyphs" stroke="#262626" stroke-width="0.12" text-anchor="middle">αPDL1</text>
<path d="M84.60,523.00 C84.78,520.65 85.13,516.48 86.00,514.30 C86.87,512.12 88.08,510.72 89.80,509.90 C91.52,509.08 94.12,509.32 96.30,509.40 C98.48,509.48 100.90,509.68 102.90,510.40 C104.90,511.12 106.98,512.23 108.30,513.70 C109.62,515.17 110.35,517.20 110.80,519.20 C111.25,521.20 111.23,523.80 111.00,525.70 C110.77,527.60 110.48,528.97 109.40,530.60 C108.32,532.23 106.23,533.87 104.50,535.50 C102.77,537.13 100.28,539.07 99.00,540.40 C97.72,541.73 97.43,542.27 96.80,543.50 C96.17,544.73 95.75,546.95 95.20,547.80 C94.65,548.65 94.13,548.75 93.50,548.60 C92.87,548.45 92.02,548.00 91.40,546.90 C90.78,545.80 90.15,543.53 89.80,542.00 C89.45,540.47 89.85,539.15 89.30,537.70 C88.75,536.25 87.23,534.85 86.50,533.30 C85.77,531.75 85.22,530.12 84.90,528.40 C84.58,526.68 84.42,525.35 84.60,523.00Z" fill="none" stroke="#1a1a1a" stroke-width="0.5" />
<path d="M85.12,522.86 C85.29,520.67 85.61,516.80 86.42,514.77 C87.23,512.74 88.36,511.44 89.95,510.68 C91.55,509.92 93.97,510.13 96.00,510.21 C98.03,510.29 100.28,510.48 102.14,511.14 C104.00,511.81 105.93,512.85 107.16,514.21 C108.38,515.58 109.07,517.47 109.48,519.33 C109.90,521.19 109.89,523.60 109.67,525.37 C109.45,527.14 109.19,528.41 108.18,529.93 C107.17,531.45 105.24,532.97 103.62,534.49 C102.01,536.00 99.70,537.80 98.51,539.04 C97.32,540.28 97.05,540.78 96.46,541.92 C95.88,543.07 95.49,545.13 94.98,545.92 C94.46,546.71 93.98,546.81 93.39,546.67 C92.81,546.53 92.02,546.11 91.44,545.09 C90.87,544.06 90.28,541.96 89.95,540.53 C89.63,539.10 90.00,537.88 89.49,536.53 C88.98,535.18 87.57,533.88 86.89,532.44 C86.20,531.00 85.69,529.48 85.40,527.88 C85.10,526.29 84.95,525.05 85.12,522.86Z" fill="none" stroke="#1a1a1a" stroke-width="0.5" />
<path d="M85.64,522.72 C85.79,520.70 86.09,517.12 86.84,515.24 C87.59,513.36 88.63,512.16 90.11,511.45 C91.58,510.75 93.82,510.95 95.70,511.02 C97.58,511.10 99.65,511.27 101.37,511.88 C103.09,512.50 104.89,513.46 106.02,514.72 C107.15,515.98 107.78,517.73 108.17,519.45 C108.55,521.17 108.54,523.41 108.34,525.04 C108.14,526.68 107.90,527.85 106.96,529.26 C106.03,530.66 104.24,532.07 102.75,533.47 C101.26,534.87 99.12,536.54 98.02,537.68 C96.92,538.83 96.67,539.29 96.13,540.35 C95.58,541.41 95.23,543.32 94.75,544.05 C94.28,544.78 93.83,544.87 93.29,544.74 C92.75,544.61 92.01,544.22 91.48,543.27 C90.95,542.33 90.41,540.38 90.11,539.06 C89.81,537.74 90.15,536.61 89.68,535.36 C89.20,534.12 87.90,532.91 87.27,531.58 C86.64,530.25 86.17,528.84 85.89,527.36 C85.62,525.89 85.48,524.74 85.64,522.72Z" fill="none" stroke="#1a1a1a" stroke-width="0.5" />
<path d="M86.15,522.58 C86.30,520.72 86.58,517.43 87.26,515.71 C87.94,513.98 88.91,512.88 90.26,512.23 C91.62,511.59 93.67,511.77 95.40,511.84 C97.12,511.90 99.03,512.06 100.61,512.63 C102.19,513.19 103.84,514.07 104.88,515.23 C105.92,516.39 106.50,518.00 106.85,519.58 C107.21,521.16 107.19,523.21 107.01,524.71 C106.83,526.21 106.60,527.29 105.75,528.58 C104.89,529.87 103.24,531.16 101.88,532.46 C100.51,533.75 98.54,535.27 97.53,536.33 C96.52,537.38 96.29,537.80 95.79,538.77 C95.29,539.75 94.96,541.50 94.53,542.17 C94.09,542.84 93.69,542.92 93.19,542.80 C92.68,542.69 92.01,542.33 91.53,541.46 C91.04,540.59 90.54,538.80 90.26,537.59 C89.99,536.38 90.30,535.34 89.87,534.19 C89.43,533.05 88.23,531.94 87.66,530.72 C87.08,529.49 86.64,528.20 86.39,526.85 C86.14,525.49 86.01,524.44 86.15,522.58Z" fill="none" stroke="#1a1a1a" stroke-width="0.5" />
<path d="M86.67,522.44 C86.80,520.75 87.06,517.75 87.68,516.18 C88.30,514.60 89.18,513.60 90.42,513.01 C91.65,512.42 93.52,512.59 95.10,512.65 C96.67,512.71 98.41,512.85 99.85,513.37 C101.29,513.88 102.79,514.69 103.74,515.74 C104.68,516.80 105.21,518.26 105.54,519.70 C105.86,521.14 105.85,523.02 105.68,524.38 C105.51,525.75 105.31,526.74 104.53,527.91 C103.75,529.09 102.25,530.26 101.00,531.44 C99.75,532.62 97.96,534.01 97.04,534.97 C96.12,535.93 95.91,536.31 95.46,537.20 C95.00,538.09 94.70,539.68 94.30,540.30 C93.91,540.91 93.54,540.98 93.08,540.87 C92.62,540.76 92.01,540.44 91.57,539.65 C91.12,538.86 90.67,537.22 90.42,536.12 C90.16,535.02 90.45,534.07 90.06,533.02 C89.66,531.98 88.57,530.97 88.04,529.86 C87.51,528.74 87.12,527.56 86.89,526.33 C86.66,525.09 86.54,524.13 86.67,522.44Z" fill="none" stroke="#1a1a1a" stroke-width="0.5" />
<path d="M90.20,536.50 C90.72,536.08 92.45,537.17 93.50,537.50 C94.55,537.83 96.17,537.50 96.50,538.50 C96.83,539.50 96.00,542.38 95.50,543.50 C95.00,544.62 94.17,545.20 93.50,545.20 C92.83,545.20 92.02,544.37 91.50,543.50 C90.98,542.63 90.62,541.17 90.40,540.00 C90.18,538.83 89.68,536.92 90.20,536.50Z" fill="none" stroke="#1a1a1a" stroke-width="0.45" />
<path d="M90.80,536.00 C91.22,535.57 92.75,536.40 93.50,536.60 C94.25,536.80 95.18,536.55 95.30,537.20 C95.42,537.85 94.67,539.83 94.20,540.50 C93.73,541.17 93.03,541.42 92.50,541.20 C91.97,540.98 91.28,540.07 91.00,539.20 C90.72,538.33 90.38,536.43 90.80,536.00Z" fill="none" stroke="#1a1a1a" stroke-width="0.45" />
<path d="M85.40,514.00 C85.90,512.47 86.73,511.50 88.00,510.80 C89.27,510.10 91.17,509.90 93.00,509.80 C94.83,509.70 97.42,509.75 99.00,510.20 C100.58,510.65 101.75,511.20 102.50,512.50 C103.25,513.80 103.50,515.92 103.50,518.00 C103.50,520.08 103.08,522.75 102.50,525.00 C101.92,527.25 101.00,529.75 100.00,531.50 C99.00,533.25 97.92,534.58 96.50,535.50 C95.08,536.42 93.00,537.25 91.50,537.00 C90.00,536.75 88.50,535.50 87.50,534.00 C86.50,532.50 85.92,530.33 85.50,528.00 C85.08,525.67 85.02,522.33 85.00,520.00 C84.98,517.67 84.90,515.53 85.40,514.00Z" fill="#0d0d0d" />
<path d="M99.75,508.58 C100.42,509.02 102.91,509.73 103.78,511.23 C104.64,512.72 104.92,515.15 104.92,517.55 C104.92,519.95 104.45,523.01 103.78,525.60 C103.10,528.19 102.05,531.06 100.90,533.08 C99.75,535.09 98.50,536.62 96.88,537.67 C95.25,538.73 92.08,539.11 91.12,539.40" fill="none" stroke="#222" stroke-width="0.45" />
<path d="M100.50,506.96 C101.26,507.46 104.08,508.26 105.05,509.95 C106.02,511.64 106.35,514.39 106.35,517.10 C106.35,519.81 105.81,523.28 105.05,526.20 C104.29,529.12 103.10,532.38 101.80,534.65 C100.50,536.92 99.09,538.66 97.25,539.85 C95.41,541.04 91.83,541.47 90.75,541.80" fill="none" stroke="#222" stroke-width="0.45" />
<circle cx="93.10" cy="523.80" r="0.90" fill="#fff"/>
<circle cx="89.80" cy="520.00" r="0.35" fill="#555"/>
<circle cx="91.50" cy="527.50" r="0.35" fill="#555"/>
<circle cx="97.50" cy="519.00" r="0.35" fill="#555"/>
<circle cx="93.50" cy="550.50" r="0.30" fill="#666"/>
<circle cx="90.20" cy="514.00" r="0.30" fill="#666"/>
<path d="M203.70,492.80 C204.97,492.63 207.18,492.20 208.30,493.10 C209.42,494.00 209.97,496.33 210.40,498.20 C210.83,500.07 210.23,502.68 210.90,504.30 C211.57,505.92 213.38,506.53 214.40,507.90 C215.42,509.27 216.57,510.72 217.00,512.50 C217.43,514.28 217.43,516.73 217.00,518.60 C216.57,520.47 215.68,522.25 214.40,523.70 C213.12,525.15 211.08,526.62 209.30,527.30 C207.52,527.98 205.30,528.23 203.70,527.80 C202.10,527.37 200.80,526.23 199.70,524.70 C198.60,523.17 197.58,520.88 197.10,518.60 C196.62,516.32 196.80,513.55 196.80,511.00 C196.80,508.45 196.88,505.43 197.10,503.30 C197.32,501.17 197.50,499.73 198.10,498.20 C198.70,496.67 199.77,495.00 200.70,494.10 C201.63,493.20 202.43,492.97 203.70,492.80Z" fill="#d2d2d2" stroke="#777" stroke-width="0.45" />
<path d="M203.93,494.26 C205.07,494.10 207.07,493.70 208.07,494.53 C209.08,495.36 209.57,497.51 209.96,499.22 C210.35,500.94 209.81,503.35 210.41,504.84 C211.01,506.32 212.65,506.89 213.56,508.15 C214.47,509.41 215.51,510.74 215.90,512.38 C216.29,514.02 216.29,516.27 215.90,517.99 C215.51,519.71 214.72,521.35 213.56,522.68 C212.41,524.02 210.57,525.37 208.97,526.00 C207.37,526.62 205.37,526.85 203.93,526.46 C202.49,526.06 201.32,525.01 200.33,523.60 C199.34,522.19 198.43,520.09 197.99,517.99 C197.56,515.89 197.72,513.35 197.72,511.00 C197.72,508.65 197.80,505.88 197.99,503.92 C198.19,501.95 198.35,500.63 198.89,499.22 C199.43,497.81 200.39,496.28 201.23,495.45 C202.07,494.62 202.79,494.41 203.93,494.26Z" fill="#a5a5a5" stroke="#555" stroke-width="0.45" />
<ellipse cx="204.2" cy="503.8" rx="4.4" ry="5.8" fill="#1e1e1e"/>
<ellipse cx="206.5" cy="516.3" rx="7.6" ry="8.1" fill="#0d0d0d"/>
<path d="M201.5,499 L206.5,507.5 M206.5,498.5 L202,506" fill="none" stroke="#777" stroke-width="0.4" />
<circle cx="204.20" cy="502.80" r="0.70" fill="#bbb"/>
<circle cx="205.80" cy="516.10" r="0.90" fill="#fff"/>
<circle cx="217.40" cy="505.40" r="0.30" fill="#777"/>
<circle cx="206.50" cy="533.00" r="0.30" fill="#888"/>
<path d="M306.60,493.00 C306.75,492.35 307.85,492.05 308.50,492.10 C309.15,492.15 309.97,492.77 310.50,493.30 C311.03,493.83 311.78,494.73 311.70,495.30 C311.62,495.87 310.68,496.58 310.00,496.70 C309.32,496.82 308.17,496.62 307.60,496.00 C307.03,495.38 306.45,493.65 306.60,493.00Z" fill="#fff" stroke="#222" stroke-width="0.5" />
<ellipse cx="314.2" cy="503.3" rx="6.9" ry="8.3" transform="rotate(20 314.2 503.3)" fill="#6a6a6a"/>
<ellipse cx="314.2" cy="503.3" rx="6.3" ry="7.6" transform="rotate(20 314.2 503.3)" fill="#0d0d0d"/>
<ellipse cx="309.2" cy="519.0" rx="6.2" ry="7.1" fill="#6a6a6a"/>
<ellipse cx="309.2" cy="519.0" rx="5.6" ry="6.5" fill="#0d0d0d"/>
<path d="M309.5,497 L308,505 L309.5,512" fill="none" stroke="#555" stroke-width="0.9" />
<circle cx="313.50" cy="504.10" r="0.90" fill="#fff"/>
<circle cx="309.40" cy="518.60" r="0.60" fill="#fff"/>
<circle cx="318.6" cy="528.8" r="1.2" fill="none" stroke="#333" stroke-width="0.45"/>
<text transform="translate(20.50,533.00) rotate(-90)" y="3.02" font-size="8.40" textLength="47.00" lengthAdjust="spacingAndGlyphs" stroke="#262626" stroke-width="0.12" text-anchor="middle">CD30-APC</text>
<line x1="20.50" y1="508.50" x2="20.50" y2="469.50" stroke="#4a5a78" stroke-width="0.8" />
<path d="M20.5,467.6 L19.0,471.6 L22.0,471.6 Z" fill="#4a5a78" />
<text x="47.20" y="579.18" font-size="8.00" textLength="51.18" lengthAdjust="spacingAndGlyphs" stroke="#262626" stroke-width="0.12">FoxP3-BV421</text>
<line x1="101.80" y1="575.60" x2="351.50" y2="575.60" stroke="#4a5a78" stroke-width="0.8" />
<path d="M355,575.6 L350.8,574.0 L350.8,577.2 Z" fill="#4a5a78" />
<text x="525.30" y="451.15" font-size="8.20" textLength="24.17" lengthAdjust="spacingAndGlyphs" stroke="#262626" stroke-width="0.12" text-anchor="middle">PBMC</text>
<line x1="437.20" y1="452.90" x2="615.50" y2="452.90" stroke="#555" stroke-width="0.8" />
<text transform="translate(373.60,518.40) rotate(-90)" y="2.88" font-size="8.00" textLength="82.08" lengthAdjust="spacingAndGlyphs" stroke="#262626" stroke-width="0.12" text-anchor="middle">Percentage of CD30<tspan font-size="4.96" baseline-shift="3.04">+</tspan></text>
<text transform="translate(384.00,518.30) rotate(-90)" y="2.88" font-size="8.00" textLength="89.72" lengthAdjust="spacingAndGlyphs" stroke="#262626" stroke-width="0.12" text-anchor="middle">(gated on CD4<tspan font-size="4.96" baseline-shift="3.04">+</tspan>FoxP3<tspan font-size="4.96" baseline-shift="3.04">+</tspan>)</text>
<line x1="408.70" y1="470.30" x2="408.70" y2="564.10" stroke="#6f6f6f" stroke-width="0.8" />
<line x1="405.70" y1="564.10" x2="408.70" y2="564.10" stroke="#6f6f6f" stroke-width="0.8" />
<text x="403.50" y="566.62" font-size="7.00" textLength="4.09" lengthAdjust="spacingAndGlyphs" stroke="#262626" stroke-width="0.12" text-anchor="end">0</text>
<line x1="405.70" y1="545.34" x2="408.70" y2="545.34" stroke="#6f6f6f" stroke-width="0.8" />
<text x="403.50" y="547.86" font-size="7.00" textLength="4.09" lengthAdjust="spacingAndGlyphs" stroke="#262626" stroke-width="0.12" text-anchor="end">2</text>
<line x1="405.70" y1="526.58" x2="408.70" y2="526.58" stroke="#6f6f6f" stroke-width="0.8" />
<text x="403.50" y="529.10" font-size="7.00" textLength="4.09" lengthAdjust="spacingAndGlyphs" stroke="#262626" stroke-width="0.12" text-anchor="end">4</text>
<line x1="405.70" y1="507.82" x2="408.70" y2="507.82" stroke="#6f6f6f" stroke-width="0.8" />
<text x="403.50" y="510.34" font-size="7.00" textLength="4.09" lengthAdjust="spacingAndGlyphs" stroke="#262626" stroke-width="0.12" text-anchor="end">6</text>
<line x1="405.70" y1="489.06" x2="408.70" y2="489.06" stroke="#6f6f6f" stroke-width="0.8" />
<text x="403.50" y="491.58" font-size="7.00" textLength="4.09" lengthAdjust="spacingAndGlyphs" stroke="#262626" stroke-width="0.12" text-anchor="end">8</text>
<line x1="405.70" y1="470.30" x2="408.70" y2="470.30" stroke="#6f6f6f" stroke-width="0.8" />
<text x="403.50" y="472.82" font-size="7.00" textLength="7.20" lengthAdjust="spacingAndGlyphs" stroke="#262626" stroke-width="0.12" text-anchor="end">10</text>
<line x1="408.70" y1="564.10" x2="468.30" y2="564.10" stroke="#6f6f6f" stroke-width="0.8" />
<line x1="425.60" y1="564.10" x2="425.60" y2="566.60" stroke="#6f6f6f" stroke-width="0.8" />
<text x="425.60" y="577.92" font-size="7.00" textLength="7.14" lengthAdjust="spacingAndGlyphs" stroke="#262626" stroke-width="0.12" text-anchor="middle">IC</text>
<line x1="451.40" y1="564.10" x2="451.40" y2="566.60" stroke="#6f6f6f" stroke-width="0.8" />
<text x="451.40" y="577.92" font-size="7.00" textLength="21.62" lengthAdjust="spacingAndGlyphs" stroke="#262626" stroke-width="0.12" text-anchor="middle">αPDL1</text>
<line x1="425.60" y1="482.49" x2="451.40" y2="472.74" stroke="#222" stroke-width="0.8" />
<circle cx="425.60" cy="482.49" r="2.50" fill="#000"/>
<circle cx="451.40" cy="472.74" r="2.50" fill="#000"/>
<text x="438.50" y="464.28" font-size="8.00" textLength="55.54" lengthAdjust="spacingAndGlyphs" stroke="#262626" stroke-width="0.12" text-anchor="middle">Melanoma Pt1</text>
<line x1="494.80" y1="470.30" x2="494.80" y2="564.10" stroke="#6f6f6f" stroke-width="0.8" />
<line x1="491.80" y1="564.10" x2="494.80" y2="564.10" stroke="#6f6f6f" stroke-width="0.8" />
<text x="489.60" y="566.62" font-size="7.00" textLength="4.09" lengthAdjust="spacingAndGlyphs" stroke="#262626" stroke-width="0.12" text-anchor="end">0</text>
<line x1="491.80" y1="545.34" x2="494.80" y2="545.34" stroke="#6f6f6f" stroke-width="0.8" />
<text x="489.60" y="547.86" font-size="7.00" textLength="8.18" lengthAdjust="spacingAndGlyphs" stroke="#262626" stroke-width="0.12" text-anchor="end">20</text>
<line x1="491.80" y1="526.58" x2="494.80" y2="526.58" stroke="#6f6f6f" stroke-width="0.8" />
<text x="489.60" y="529.10" font-size="7.00" textLength="8.18" lengthAdjust="spacingAndGlyphs" stroke="#262626" stroke-width="0.12" text-anchor="end">40</text>
<line x1="491.80" y1="507.82" x2="494.80" y2="507.82" stroke="#6f6f6f" stroke-width="0.8" />
<text x="489.60" y="510.34" font-size="7.00" textLength="8.18" lengthAdjust="spacingAndGlyphs" stroke="#262626" stroke-width="0.12" text-anchor="end">60</text>
<line x1="491.80" y1="489.06" x2="494.80" y2="489.06" stroke="#6f6f6f" stroke-width="0.8" />
<text x="489.60" y="491.58" font-size="7.00" textLength="8.18" lengthAdjust="spacingAndGlyphs" stroke="#262626" stroke-width="0.12" text-anchor="end">80</text>
<line x1="491.80" y1="470.30" x2="494.80" y2="470.30" stroke="#6f6f6f" stroke-width="0.8" />
<text x="489.60" y="472.82" font-size="7.00" textLength="11.29" lengthAdjust="spacingAndGlyphs" stroke="#262626" stroke-width="0.12" text-anchor="end">100</text>
<line x1="494.80" y1="564.10" x2="556.40" y2="564.10" stroke="#6f6f6f" stroke-width="0.8" />
<line x1="513.70" y1="564.10" x2="513.70" y2="566.60" stroke="#6f6f6f" stroke-width="0.8" />
<text x="513.70" y="577.92" font-size="7.00" textLength="7.14" lengthAdjust="spacingAndGlyphs" stroke="#262626" stroke-width="0.12" text-anchor="middle">IC</text>
<line x1="539.50" y1="564.10" x2="539.50" y2="566.60" stroke="#6f6f6f" stroke-width="0.8" />
<text x="539.50" y="577.92" font-size="7.00" textLength="21.62" lengthAdjust="spacingAndGlyphs" stroke="#262626" stroke-width="0.12" text-anchor="middle">αPDL1</text>
<line x1="513.70" y1="540.84" x2="539.50" y2="512.98" stroke="#222" stroke-width="0.8" />
<circle cx="513.70" cy="540.84" r="2.50" fill="#000"/>
<circle cx="539.50" cy="512.98" r="2.50" fill="#000"/>
<text x="527.10" y="464.28" font-size="8.00" textLength="56.65" lengthAdjust="spacingAndGlyphs" stroke="#262626" stroke-width="0.12" text-anchor="middle">Melanoma Pt2</text>
<line x1="584.50" y1="470.30" x2="584.50" y2="564.10" stroke="#6f6f6f" stroke-width="0.8" />
<line x1="581.50" y1="564.10" x2="584.50" y2="564.10" stroke="#6f6f6f" stroke-width="0.8" />
<text x="579.30" y="566.62" font-size="7.00" textLength="4.09" lengthAdjust="spacingAndGlyphs" stroke="#262626" stroke-width="0.12" text-anchor="end">0</text>
<line x1="581.50" y1="545.34" x2="584.50" y2="545.34" stroke="#6f6f6f" stroke-width="0.8" />
<text x="579.30" y="547.86" font-size="7.00" textLength="8.18" lengthAdjust="spacingAndGlyphs" stroke="#262626" stroke-width="0.12" text-anchor="end">20</text>
<line x1="581.50" y1="526.58" x2="584.50" y2="526.58" stroke="#6f6f6f" stroke-width="0.8" />
<text x="579.30" y="529.10" font-size="7.00" textLength="8.18" lengthAdjust="spacingAndGlyphs" stroke="#262626" stroke-width="0.12" text-anchor="end">40</text>
<line x1="581.50" y1="507.82" x2="584.50" y2="507.82" stroke="#6f6f6f" stroke-width="0.8" />
<text x="579.30" y="510.34" font-size="7.00" textLength="8.18" lengthAdjust="spacingAndGlyphs" stroke="#262626" stroke-width="0.12" text-anchor="end">60</text>
<line x1="581.50" y1="489.06" x2="584.50" y2="489.06" stroke="#6f6f6f" stroke-width="0.8" />
<text x="579.30" y="491.58" font-size="7.00" textLength="8.18" lengthAdjust="spacingAndGlyphs" stroke="#262626" stroke-width="0.12" text-anchor="end">80</text>
<line x1="581.50" y1="470.30" x2="584.50" y2="470.30" stroke="#6f6f6f" stroke-width="0.8" />
<text x="579.30" y="472.82" font-size="7.00" textLength="11.29" lengthAdjust="spacingAndGlyphs" stroke="#262626" stroke-width="0.12" text-anchor="end">100</text>
<line x1="584.50" y1="564.10" x2="644.00" y2="564.10" stroke="#6f6f6f" stroke-width="0.8" />
<line x1="601.90" y1="564.10" x2="601.90" y2="566.60" stroke="#6f6f6f" stroke-width="0.8" />
<text x="601.90" y="577.92" font-size="7.00" textLength="7.14" lengthAdjust="spacingAndGlyphs" stroke="#262626" stroke-width="0.12" text-anchor="middle">IC</text>
<line x1="627.40" y1="564.10" x2="627.40" y2="566.60" stroke="#6f6f6f" stroke-width="0.8" />
<text x="627.40" y="577.92" font-size="7.00" textLength="21.62" lengthAdjust="spacingAndGlyphs" stroke="#262626" stroke-width="0.12" text-anchor="middle">αPDL1</text>
<line x1="601.90" y1="496.10" x2="627.40" y2="486.06" stroke="#222" stroke-width="0.8" />
<circle cx="601.90" cy="496.10" r="2.50" fill="#000"/>
<circle cx="627.40" cy="486.06" r="2.50" fill="#000"/>
<text x="614.80" y="464.28" font-size="8.00" textLength="56.65" lengthAdjust="spacingAndGlyphs" stroke="#262626" stroke-width="0.12" text-anchor="middle">Melanoma Pt3</text>
<text x="0.00" y="596.20" font-size="12" font-weight="bold" fill="#000">k</text>
<line x1="49.30" y1="600.20" x2="49.30" y2="694.50" stroke="#8a8a8a" stroke-width="0.8" />
<line x1="45.20" y1="600.20" x2="49.30" y2="600.20" stroke="#8a8a8a" stroke-width="0.8" />
<text x="41.40" y="602.72" font-size="7.00" textLength="13.23" lengthAdjust="spacingAndGlyphs" stroke="#262626" stroke-width="0.12" text-anchor="end">0.15</text>
<line x1="45.20" y1="631.70" x2="49.30" y2="631.70" stroke="#8a8a8a" stroke-width="0.8" />
<text x="41.40" y="634.22" font-size="7.00" textLength="13.23" lengthAdjust="spacingAndGlyphs" stroke="#262626" stroke-width="0.12" text-anchor="end">0.10</text>
<line x1="45.20" y1="663.20" x2="49.30" y2="663.20" stroke="#8a8a8a" stroke-width="0.8" />
<text x="41.40" y="665.72" font-size="7.00" textLength="14.21" lengthAdjust="spacingAndGlyphs" stroke="#262626" stroke-width="0.12" text-anchor="end">0.05</text>
<line x1="45.20" y1="694.50" x2="49.30" y2="694.50" stroke="#8a8a8a" stroke-width="0.8" />
<text x="41.40" y="697.02" font-size="7.00" textLength="4.09" lengthAdjust="spacingAndGlyphs" stroke="#262626" stroke-width="0.12" text-anchor="end">0</text>
<line x1="49.30" y1="694.50" x2="111.00" y2="694.50" stroke="#6a6a6a" stroke-width="0.8" />
<line x1="66.80" y1="694.50" x2="66.80" y2="697.50" stroke="#aaa" stroke-width="0.8" />
<line x1="93.00" y1="694.50" x2="93.00" y2="697.50" stroke="#aaa" stroke-width="0.8" />
<circle cx="66.80" cy="664.30" r="2.70" fill="#000"/>
<circle cx="60.70" cy="669.80" r="2.70" fill="#000"/>
<circle cx="66.80" cy="673.80" r="2.70" fill="#000"/>
<circle cx="60.40" cy="677.40" r="2.70" fill="#000"/>
<circle cx="73.40" cy="677.40" r="2.70" fill="#000"/>
<circle cx="66.80" cy="684.60" r="2.70" fill="#000"/>
<circle cx="66.80" cy="694.10" r="2.70" fill="#000"/>
<circle cx="91.70" cy="617.30" r="2.70" fill="#3d5fb5" stroke="#1f2d66" stroke-width="0.6"/>
<circle cx="87.30" cy="642.30" r="2.70" fill="#3d5fb5" stroke="#1f2d66" stroke-width="0.6"/>
<circle cx="92.00" cy="642.30" r="2.70" fill="#3d5fb5" stroke="#1f2d66" stroke-width="0.6"/>
<circle cx="96.20" cy="641.60" r="2.70" fill="#3d5fb5" stroke="#1f2d66" stroke-width="0.6"/>
<circle cx="92.00" cy="653.70" r="2.70" fill="#3d5fb5" stroke="#1f2d66" stroke-width="0.6"/>
<circle cx="87.70" cy="656.70" r="2.70" fill="#3d5fb5" stroke="#1f2d66" stroke-width="0.6"/>
<circle cx="96.20" cy="658.10" r="2.70" fill="#3d5fb5" stroke="#1f2d66" stroke-width="0.6"/>
<circle cx="92.00" cy="661.90" r="2.70" fill="#3d5fb5" stroke="#1f2d66" stroke-width="0.6"/>
<circle cx="91.70" cy="683.30" r="2.70" fill="#3d5fb5" stroke="#1f2d66" stroke-width="0.6"/>
<circle cx="96.20" cy="684.60" r="2.70" fill="#3d5fb5" stroke="#1f2d66" stroke-width="0.6"/>
<circle cx="93.60" cy="690.90" r="2.70" fill="#3d5fb5" stroke="#1f2d66" stroke-width="0.6"/>
<line x1="66.80" y1="672.70" x2="66.80" y2="681.20" stroke="#b4b4b4" stroke-width="0.8" />
<line x1="58.30" y1="677.00" x2="75.30" y2="677.00" stroke="#b4b4b4" stroke-width="0.8" />
<line x1="62.60" y1="672.70" x2="71.00" y2="672.70" stroke="#b4b4b4" stroke-width="0.8" />
<line x1="62.60" y1="681.20" x2="71.00" y2="681.20" stroke="#b4b4b4" stroke-width="0.8" />
<line x1="93.00" y1="651.80" x2="93.00" y2="662.80" stroke="#b4b4b4" stroke-width="0.8" />
<line x1="84.50" y1="657.10" x2="101.50" y2="657.10" stroke="#b4b4b4" stroke-width="0.8" />
<line x1="88.80" y1="651.80" x2="97.20" y2="651.80" stroke="#b4b4b4" stroke-width="0.8" />
<line x1="88.80" y1="662.80" x2="97.20" y2="662.80" stroke="#b4b4b4" stroke-width="0.8" />
<line x1="66.80" y1="606.30" x2="94.00" y2="606.30" stroke="#3a3a3a" stroke-width="0.8" />
<text x="80.40" y="607.10" font-size="15.00" stroke="#262626" stroke-width="0.12" text-anchor="middle" font-weight="bold">*</text>
<text x="66.80" y="707.12" font-size="7.00" textLength="30.05" lengthAdjust="spacingAndGlyphs" stroke="#262626" stroke-width="0.12" text-anchor="middle">Baseline</text>
<text x="93.00" y="707.12" font-size="7.00" textLength="15.41" lengthAdjust="spacingAndGlyphs" stroke="#262626" stroke-width="0.12" text-anchor="middle">Post</text>
<text x="93.00" y="715.12" font-size="7.00" textLength="17.65" lengthAdjust="spacingAndGlyphs" stroke="#262626" stroke-width="0.12" text-anchor="middle">αPD1</text>
<text transform="translate(6.00,647.70) rotate(-90)" y="2.81" font-size="7.80" textLength="62.30" lengthAdjust="spacingAndGlyphs" stroke="#262626" stroke-width="0.12" text-anchor="middle"><tspan font-style="italic">TNFRSF8</tspan> mRNA</text>
<text transform="translate(14.20,647.70) rotate(-90)" y="2.81" font-size="7.80" textLength="86.89" lengthAdjust="spacingAndGlyphs" stroke="#262626" stroke-width="0.12" text-anchor="middle">expression per patient</text>
<text x="117.40" y="596.20" font-size="12" font-weight="bold" fill="#000">l</text>
<line x1="161.40" y1="600.20" x2="161.40" y2="694.50" stroke="#8a8a8a" stroke-width="0.8" />
<line x1="157.30" y1="600.20" x2="161.40" y2="600.20" stroke="#8a8a8a" stroke-width="0.8" />
<text x="153.50" y="602.72" font-size="7.00" textLength="9.15" lengthAdjust="spacingAndGlyphs" stroke="#262626" stroke-width="0.12" text-anchor="end">1.5</text>
<line x1="157.30" y1="631.70" x2="161.40" y2="631.70" stroke="#8a8a8a" stroke-width="0.8" />
<text x="153.50" y="634.22" font-size="7.00" textLength="9.15" lengthAdjust="spacingAndGlyphs" stroke="#262626" stroke-width="0.12" text-anchor="end">1.0</text>
<line x1="157.30" y1="663.20" x2="161.40" y2="663.20" stroke="#8a8a8a" stroke-width="0.8" />
<text x="153.50" y="665.72" font-size="7.00" textLength="10.12" lengthAdjust="spacingAndGlyphs" stroke="#262626" stroke-width="0.12" text-anchor="end">0.5</text>
<line x1="157.30" y1="694.50" x2="161.40" y2="694.50" stroke="#8a8a8a" stroke-width="0.8" />
<text x="153.50" y="697.02" font-size="7.00" textLength="4.09" lengthAdjust="spacingAndGlyphs" stroke="#262626" stroke-width="0.12" text-anchor="end">0</text>
<line x1="161.40" y1="694.50" x2="223.90" y2="694.50" stroke="#6a6a6a" stroke-width="0.8" />
<line x1="179.30" y1="694.50" x2="179.30" y2="697.50" stroke="#aaa" stroke-width="0.8" />
<line x1="205.80" y1="694.50" x2="205.80" y2="697.50" stroke="#aaa" stroke-width="0.8" />
<circle cx="173.00" cy="615.90" r="2.70" fill="#000"/>
<circle cx="185.30" cy="617.80" r="2.70" fill="#000"/>
<circle cx="179.30" cy="633.40" r="2.70" fill="#000"/>
<circle cx="179.30" cy="643.30" r="2.70" fill="#000"/>
<circle cx="173.00" cy="657.70" r="2.70" fill="#000"/>
<circle cx="185.30" cy="660.00" r="2.70" fill="#000"/>
<circle cx="179.30" cy="677.60" r="2.70" fill="#000"/>
<circle cx="202.40" cy="609.70" r="2.70" fill="#3d5fb5" stroke="#1f2d66" stroke-width="0.6"/>
<circle cx="209.10" cy="609.30" r="2.70" fill="#3d5fb5" stroke="#1f2d66" stroke-width="0.6"/>
<circle cx="206.20" cy="619.70" r="2.70" fill="#3d5fb5" stroke="#1f2d66" stroke-width="0.6"/>
<circle cx="206.20" cy="639.50" r="2.70" fill="#3d5fb5" stroke="#1f2d66" stroke-width="0.6"/>
<circle cx="206.20" cy="650.10" r="2.70" fill="#3d5fb5" stroke="#1f2d66" stroke-width="0.6"/>
<circle cx="209.10" cy="656.60" r="2.70" fill="#3d5fb5" stroke="#1f2d66" stroke-width="0.6"/>
<circle cx="203.00" cy="661.50" r="2.70" fill="#3d5fb5" stroke="#1f2d66" stroke-width="0.6"/>
<circle cx="212.10" cy="673.30" r="2.70" fill="#3d5fb5" stroke="#1f2d66" stroke-width="0.6"/>
<circle cx="200.10" cy="678.40" r="2.70" fill="#3d5fb5" stroke="#1f2d66" stroke-width="0.6"/>
<circle cx="199.60" cy="683.70" r="2.70" fill="#3d5fb5" stroke="#1f2d66" stroke-width="0.6"/>
<circle cx="205.80" cy="683.10" r="2.70" fill="#3d5fb5" stroke="#1f2d66" stroke-width="0.6"/>
<circle cx="212.10" cy="683.10" r="2.70" fill="#3d5fb5" stroke="#1f2d66" stroke-width="0.6"/>
<line x1="179.30" y1="635.30" x2="179.30" y2="652.40" stroke="#b4b4b4" stroke-width="0.8" />
<line x1="170.80" y1="643.50" x2="187.80" y2="643.50" stroke="#b4b4b4" stroke-width="0.8" />
<line x1="175.10" y1="635.30" x2="183.50" y2="635.30" stroke="#b4b4b4" stroke-width="0.8" />
<line x1="175.10" y1="652.40" x2="183.50" y2="652.40" stroke="#b4b4b4" stroke-width="0.8" />
<line x1="205.80" y1="645.40" x2="205.80" y2="662.40" stroke="#b4b4b4" stroke-width="0.8" />
<line x1="197.30" y1="654.30" x2="214.30" y2="654.30" stroke="#b4b4b4" stroke-width="0.8" />
<line x1="201.60" y1="645.40" x2="210.00" y2="645.40" stroke="#b4b4b4" stroke-width="0.8" />
<line x1="201.60" y1="662.40" x2="210.00" y2="662.40" stroke="#b4b4b4" stroke-width="0.8" />
<line x1="179.30" y1="598.30" x2="206.40" y2="598.30" stroke="#3a3a3a" stroke-width="0.8" />
<text x="192.85" y="595.38" font-size="6.60" textLength="9.35" lengthAdjust="spacingAndGlyphs" stroke="#262626" stroke-width="0.12" text-anchor="middle">NS</text>
<text x="179.30" y="707.12" font-size="7.00" textLength="30.05" lengthAdjust="spacingAndGlyphs" stroke="#262626" stroke-width="0.12" text-anchor="middle">Baseline</text>
<text x="205.80" y="707.12" font-size="7.00" textLength="15.41" lengthAdjust="spacingAndGlyphs" stroke="#262626" stroke-width="0.12" text-anchor="middle">Post</text>
<text x="205.80" y="715.12" font-size="7.00" textLength="17.65" lengthAdjust="spacingAndGlyphs" stroke="#262626" stroke-width="0.12" text-anchor="middle">αPD1</text>
<text transform="translate(122.80,647.70) rotate(-90)" y="2.81" font-size="7.80" textLength="51.26" lengthAdjust="spacingAndGlyphs" stroke="#262626" stroke-width="0.12" text-anchor="middle"><tspan font-style="italic">CTLA4</tspan> mRNA</text>
<text transform="translate(131.80,647.70) rotate(-90)" y="2.81" font-size="7.80" textLength="86.89" lengthAdjust="spacingAndGlyphs" stroke="#262626" stroke-width="0.12" text-anchor="middle">expression per patient</text>
<text x="230.30" y="596.20" font-size="12" font-weight="bold" fill="#000">m</text>
<line x1="279.20" y1="600.20" x2="279.20" y2="694.50" stroke="#8a8a8a" stroke-width="0.8" />
<line x1="275.10" y1="600.20" x2="279.20" y2="600.20" stroke="#8a8a8a" stroke-width="0.8" />
<text x="271.30" y="602.72" font-size="7.00" textLength="13.23" lengthAdjust="spacingAndGlyphs" stroke="#262626" stroke-width="0.12" text-anchor="end">0.15</text>
<line x1="275.10" y1="631.70" x2="279.20" y2="631.70" stroke="#8a8a8a" stroke-width="0.8" />
<text x="271.30" y="634.22" font-size="7.00" textLength="13.23" lengthAdjust="spacingAndGlyphs" stroke="#262626" stroke-width="0.12" text-anchor="end">0.10</text>
<line x1="275.10" y1="663.20" x2="279.20" y2="663.20" stroke="#8a8a8a" stroke-width="0.8" />
<text x="271.30" y="665.72" font-size="7.00" textLength="14.21" lengthAdjust="spacingAndGlyphs" stroke="#262626" stroke-width="0.12" text-anchor="end">0.05</text>
<line x1="275.10" y1="694.50" x2="279.20" y2="694.50" stroke="#8a8a8a" stroke-width="0.8" />
<text x="271.30" y="697.02" font-size="7.00" textLength="4.09" lengthAdjust="spacingAndGlyphs" stroke="#262626" stroke-width="0.12" text-anchor="end">0</text>
<line x1="279.20" y1="694.50" x2="341.70" y2="694.50" stroke="#6a6a6a" stroke-width="0.8" />
<line x1="296.70" y1="694.50" x2="296.70" y2="697.50" stroke="#aaa" stroke-width="0.8" />
<line x1="323.70" y1="694.50" x2="323.70" y2="697.50" stroke="#aaa" stroke-width="0.8" />
<circle cx="296.70" cy="610.60" r="2.70" fill="#000"/>
<circle cx="296.70" cy="652.40" r="2.70" fill="#000"/>
<circle cx="290.50" cy="661.30" r="2.70" fill="#000"/>
<circle cx="296.70" cy="660.30" r="2.70" fill="#000"/>
<circle cx="303.20" cy="661.90" r="2.70" fill="#000"/>
<circle cx="296.70" cy="675.20" r="2.70" fill="#000"/>
<circle cx="296.70" cy="682.70" r="2.70" fill="#000"/>
<circle cx="323.70" cy="637.60" r="2.70" fill="#3d5fb5" stroke="#1f2d66" stroke-width="0.6"/>
<circle cx="323.70" cy="645.70" r="2.70" fill="#3d5fb5" stroke="#1f2d66" stroke-width="0.6"/>
<circle cx="327.10" cy="657.10" r="2.70" fill="#3d5fb5" stroke="#1f2d66" stroke-width="0.6"/>
<circle cx="320.80" cy="660.00" r="2.70" fill="#3d5fb5" stroke="#1f2d66" stroke-width="0.6"/>
<circle cx="317.60" cy="667.60" r="2.70" fill="#3d5fb5" stroke="#1f2d66" stroke-width="0.6"/>
<circle cx="324.10" cy="666.60" r="2.70" fill="#3d5fb5" stroke="#1f2d66" stroke-width="0.6"/>
<circle cx="330.30" cy="670.80" r="2.70" fill="#3d5fb5" stroke="#1f2d66" stroke-width="0.6"/>
<circle cx="323.70" cy="672.30" r="2.70" fill="#3d5fb5" stroke="#1f2d66" stroke-width="0.6"/>
<circle cx="317.60" cy="679.90" r="2.70" fill="#3d5fb5" stroke="#1f2d66" stroke-width="0.6"/>
<circle cx="330.30" cy="679.90" r="2.70" fill="#3d5fb5" stroke="#1f2d66" stroke-width="0.6"/>
<circle cx="323.70" cy="685.20" r="2.70" fill="#3d5fb5" stroke="#1f2d66" stroke-width="0.6"/>
<circle cx="323.70" cy="694.50" r="2.70" fill="#3d5fb5" stroke="#1f2d66" stroke-width="0.6"/>
<line x1="296.70" y1="649.10" x2="296.70" y2="666.20" stroke="#b4b4b4" stroke-width="0.8" />
<line x1="288.20" y1="657.50" x2="305.20" y2="657.50" stroke="#b4b4b4" stroke-width="0.8" />
<line x1="292.50" y1="649.10" x2="300.90" y2="649.10" stroke="#b4b4b4" stroke-width="0.8" />
<line x1="292.50" y1="666.20" x2="300.90" y2="666.20" stroke="#b4b4b4" stroke-width="0.8" />
<line x1="323.70" y1="663.20" x2="323.70" y2="672.70" stroke="#b4b4b4" stroke-width="0.8" />
<line x1="315.20" y1="668.00" x2="332.20" y2="668.00" stroke="#b4b4b4" stroke-width="0.8" />
<line x1="319.50" y1="663.20" x2="327.90" y2="663.20" stroke="#b4b4b4" stroke-width="0.8" />
<line x1="319.50" y1="672.70" x2="327.90" y2="672.70" stroke="#b4b4b4" stroke-width="0.8" />
<line x1="296.70" y1="599.20" x2="323.70" y2="599.20" stroke="#3a3a3a" stroke-width="0.8" />
<text x="310.20" y="596.48" font-size="6.60" textLength="9.35" lengthAdjust="spacingAndGlyphs" stroke="#262626" stroke-width="0.12" text-anchor="middle">NS</text>
<text x="296.70" y="707.12" font-size="7.00" textLength="30.05" lengthAdjust="spacingAndGlyphs" stroke="#262626" stroke-width="0.12" text-anchor="middle">Baseline</text>
<text x="323.70" y="707.12" font-size="7.00" textLength="15.41" lengthAdjust="spacingAndGlyphs" stroke="#262626" stroke-width="0.12" text-anchor="middle">Post</text>
<text x="323.70" y="715.12" font-size="7.00" textLength="17.65" lengthAdjust="spacingAndGlyphs" stroke="#262626" stroke-width="0.12" text-anchor="middle">αPD1</text>
<text transform="translate(236.30,647.60) rotate(-90)" y="2.81" font-size="7.80" textLength="57.14" lengthAdjust="spacingAndGlyphs" stroke="#262626" stroke-width="0.12" text-anchor="middle"><tspan font-style="italic">LRRC32</tspan> mRNA</text>
<text transform="translate(244.80,647.60) rotate(-90)" y="2.81" font-size="7.80" textLength="86.89" lengthAdjust="spacingAndGlyphs" stroke="#262626" stroke-width="0.12" text-anchor="middle">expression per patient</text>
<text x="348.00" y="596.20" font-size="12" font-weight="bold" fill="#000">n</text>
<line x1="391.50" y1="600.20" x2="391.50" y2="694.50" stroke="#8a8a8a" stroke-width="0.8" />
<line x1="387.40" y1="600.20" x2="391.50" y2="600.20" stroke="#8a8a8a" stroke-width="0.8" />
<text x="383.60" y="602.72" font-size="7.00" textLength="9.15" lengthAdjust="spacingAndGlyphs" stroke="#262626" stroke-width="0.12" text-anchor="end">1.5</text>
<line x1="387.40" y1="631.70" x2="391.50" y2="631.70" stroke="#8a8a8a" stroke-width="0.8" />
<text x="383.60" y="634.22" font-size="7.00" textLength="9.15" lengthAdjust="spacingAndGlyphs" stroke="#262626" stroke-width="0.12" text-anchor="end">1.0</text>
<line x1="387.40" y1="663.20" x2="391.50" y2="663.20" stroke="#8a8a8a" stroke-width="0.8" />
<text x="383.60" y="665.72" font-size="7.00" textLength="10.12" lengthAdjust="spacingAndGlyphs" stroke="#262626" stroke-width="0.12" text-anchor="end">0.5</text>
<line x1="387.40" y1="694.50" x2="391.50" y2="694.50" stroke="#8a8a8a" stroke-width="0.8" />
<text x="383.60" y="697.02" font-size="7.00" textLength="4.09" lengthAdjust="spacingAndGlyphs" stroke="#262626" stroke-width="0.12" text-anchor="end">0</text>
<line x1="391.50" y1="694.50" x2="453.90" y2="694.50" stroke="#6a6a6a" stroke-width="0.8" />
<line x1="409.30" y1="694.50" x2="409.30" y2="697.50" stroke="#aaa" stroke-width="0.8" />
<line x1="435.80" y1="694.50" x2="435.80" y2="697.50" stroke="#aaa" stroke-width="0.8" />
<circle cx="409.30" cy="630.20" r="2.70" fill="#000"/>
<circle cx="409.30" cy="636.60" r="2.70" fill="#000"/>
<circle cx="415.30" cy="646.30" r="2.70" fill="#000"/>
<circle cx="403.00" cy="650.50" r="2.70" fill="#000"/>
<circle cx="403.00" cy="660.00" r="2.70" fill="#000"/>
<circle cx="415.30" cy="663.80" r="2.70" fill="#000"/>
<circle cx="403.00" cy="667.20" r="2.70" fill="#000"/>
<circle cx="436.20" cy="627.10" r="2.70" fill="#3d5fb5" stroke="#1f2d66" stroke-width="0.6"/>
<circle cx="433.00" cy="638.50" r="2.70" fill="#3d5fb5" stroke="#1f2d66" stroke-width="0.6"/>
<circle cx="439.10" cy="637.20" r="2.70" fill="#3d5fb5" stroke="#1f2d66" stroke-width="0.6"/>
<circle cx="429.80" cy="647.30" r="2.70" fill="#3d5fb5" stroke="#1f2d66" stroke-width="0.6"/>
<circle cx="442.10" cy="649.10" r="2.70" fill="#3d5fb5" stroke="#1f2d66" stroke-width="0.6"/>
<circle cx="429.80" cy="652.90" r="2.70" fill="#3d5fb5" stroke="#1f2d66" stroke-width="0.6"/>
<circle cx="435.80" cy="653.70" r="2.70" fill="#3d5fb5" stroke="#1f2d66" stroke-width="0.6"/>
<circle cx="442.10" cy="657.10" r="2.70" fill="#3d5fb5" stroke="#1f2d66" stroke-width="0.6"/>
<circle cx="429.80" cy="665.10" r="2.70" fill="#3d5fb5" stroke="#1f2d66" stroke-width="0.6"/>
<circle cx="435.80" cy="667.90" r="2.70" fill="#3d5fb5" stroke="#1f2d66" stroke-width="0.6"/>
<circle cx="442.10" cy="665.70" r="2.70" fill="#3d5fb5" stroke="#1f2d66" stroke-width="0.6"/>
<circle cx="429.80" cy="674.20" r="2.70" fill="#3d5fb5" stroke="#1f2d66" stroke-width="0.6"/>
<circle cx="442.10" cy="672.30" r="2.70" fill="#3d5fb5" stroke="#1f2d66" stroke-width="0.6"/>
<line x1="409.30" y1="645.40" x2="409.30" y2="656.20" stroke="#b4b4b4" stroke-width="0.8" />
<line x1="400.80" y1="650.50" x2="417.80" y2="650.50" stroke="#b4b4b4" stroke-width="0.8" />
<line x1="405.10" y1="645.40" x2="413.50" y2="645.40" stroke="#b4b4b4" stroke-width="0.8" />
<line x1="405.10" y1="656.20" x2="413.50" y2="656.20" stroke="#b4b4b4" stroke-width="0.8" />
<line x1="435.80" y1="650.50" x2="435.80" y2="658.60" stroke="#b4b4b4" stroke-width="0.8" />
<line x1="427.30" y1="654.30" x2="444.30" y2="654.30" stroke="#b4b4b4" stroke-width="0.8" />
<line x1="431.60" y1="650.50" x2="440.00" y2="650.50" stroke="#b4b4b4" stroke-width="0.8" />
<line x1="431.60" y1="658.60" x2="440.00" y2="658.60" stroke="#b4b4b4" stroke-width="0.8" />
<line x1="409.30" y1="615.90" x2="436.40" y2="615.90" stroke="#3a3a3a" stroke-width="0.8" />
<text x="422.85" y="612.98" font-size="6.60" textLength="9.35" lengthAdjust="spacingAndGlyphs" stroke="#262626" stroke-width="0.12" text-anchor="middle">NS</text>
<text x="409.30" y="707.12" font-size="7.00" textLength="30.05" lengthAdjust="spacingAndGlyphs" stroke="#262626" stroke-width="0.12" text-anchor="middle">Baseline</text>
<text x="435.80" y="707.12" font-size="7.00" textLength="15.41" lengthAdjust="spacingAndGlyphs" stroke="#262626" stroke-width="0.12" text-anchor="middle">Post</text>
<text x="435.80" y="715.12" font-size="7.00" textLength="17.65" lengthAdjust="spacingAndGlyphs" stroke="#262626" stroke-width="0.12" text-anchor="middle">αPD1</text>
<text transform="translate(353.00,647.50) rotate(-90)" y="2.81" font-size="7.80" textLength="65.77" lengthAdjust="spacingAndGlyphs" stroke="#262626" stroke-width="0.12" text-anchor="middle"><tspan font-style="italic">TNFRSF18</tspan> mRNA</text>
<text transform="translate(361.80,647.50) rotate(-90)" y="2.81" font-size="7.80" textLength="86.89" lengthAdjust="spacingAndGlyphs" stroke="#262626" stroke-width="0.12" text-anchor="middle">expression per patient</text>
<text x="460.40" y="596.20" font-size="12" font-weight="bold" fill="#000">o</text>
<line x1="503.50" y1="600.20" x2="503.50" y2="694.50" stroke="#8a8a8a" stroke-width="0.8" />
<line x1="499.40" y1="600.20" x2="503.50" y2="600.20" stroke="#8a8a8a" stroke-width="0.8" />
<text x="495.60" y="602.72" font-size="7.00" textLength="9.15" lengthAdjust="spacingAndGlyphs" stroke="#262626" stroke-width="0.12" text-anchor="end">1.5</text>
<line x1="499.40" y1="631.70" x2="503.50" y2="631.70" stroke="#8a8a8a" stroke-width="0.8" />
<text x="495.60" y="634.22" font-size="7.00" textLength="9.15" lengthAdjust="spacingAndGlyphs" stroke="#262626" stroke-width="0.12" text-anchor="end">1.0</text>
<line x1="499.40" y1="663.20" x2="503.50" y2="663.20" stroke="#8a8a8a" stroke-width="0.8" />
<text x="495.60" y="665.72" font-size="7.00" textLength="10.12" lengthAdjust="spacingAndGlyphs" stroke="#262626" stroke-width="0.12" text-anchor="end">0.5</text>
<line x1="499.40" y1="694.50" x2="503.50" y2="694.50" stroke="#8a8a8a" stroke-width="0.8" />
<text x="495.60" y="697.02" font-size="7.00" textLength="4.09" lengthAdjust="spacingAndGlyphs" stroke="#262626" stroke-width="0.12" text-anchor="end">0</text>
<line x1="503.50" y1="694.50" x2="566.00" y2="694.50" stroke="#6a6a6a" stroke-width="0.8" />
<line x1="521.40" y1="694.50" x2="521.40" y2="697.50" stroke="#aaa" stroke-width="0.8" />
<line x1="548.00" y1="694.50" x2="548.00" y2="697.50" stroke="#aaa" stroke-width="0.8" />
<circle cx="521.40" cy="616.90" r="2.70" fill="#000"/>
<circle cx="521.40" cy="635.30" r="2.70" fill="#000"/>
<circle cx="515.40" cy="648.20" r="2.70" fill="#000"/>
<circle cx="518.40" cy="649.00" r="2.70" fill="#000"/>
<circle cx="521.40" cy="649.50" r="2.70" fill="#000"/>
<circle cx="524.40" cy="650.50" r="2.70" fill="#000"/>
<circle cx="527.50" cy="652.00" r="2.70" fill="#000"/>
<circle cx="521.40" cy="671.40" r="2.70" fill="#000"/>
<circle cx="548.00" cy="610.60" r="2.70" fill="#3d5fb5" stroke="#1f2d66" stroke-width="0.6"/>
<circle cx="541.90" cy="625.20" r="2.70" fill="#3d5fb5" stroke="#1f2d66" stroke-width="0.6"/>
<circle cx="548.00" cy="625.20" r="2.70" fill="#3d5fb5" stroke="#1f2d66" stroke-width="0.6"/>
<circle cx="554.30" cy="624.30" r="2.70" fill="#3d5fb5" stroke="#1f2d66" stroke-width="0.6"/>
<circle cx="548.00" cy="638.50" r="2.70" fill="#3d5fb5" stroke="#1f2d66" stroke-width="0.6"/>
<circle cx="545.10" cy="645.40" r="2.70" fill="#3d5fb5" stroke="#1f2d66" stroke-width="0.6"/>
<circle cx="551.20" cy="645.70" r="2.70" fill="#3d5fb5" stroke="#1f2d66" stroke-width="0.6"/>
<circle cx="548.00" cy="656.70" r="2.70" fill="#3d5fb5" stroke="#1f2d66" stroke-width="0.6"/>
<circle cx="545.10" cy="663.80" r="2.70" fill="#3d5fb5" stroke="#1f2d66" stroke-width="0.6"/>
<circle cx="551.20" cy="663.40" r="2.70" fill="#3d5fb5" stroke="#1f2d66" stroke-width="0.6"/>
<circle cx="548.00" cy="672.70" r="2.70" fill="#3d5fb5" stroke="#1f2d66" stroke-width="0.6"/>
<circle cx="548.00" cy="679.90" r="2.70" fill="#3d5fb5" stroke="#1f2d66" stroke-width="0.6"/>
<line x1="521.40" y1="640.00" x2="521.40" y2="652.40" stroke="#b4b4b4" stroke-width="0.8" />
<line x1="512.90" y1="646.30" x2="529.90" y2="646.30" stroke="#b4b4b4" stroke-width="0.8" />
<line x1="517.20" y1="640.00" x2="525.60" y2="640.00" stroke="#b4b4b4" stroke-width="0.8" />
<line x1="517.20" y1="652.40" x2="525.60" y2="652.40" stroke="#b4b4b4" stroke-width="0.8" />
<line x1="548.00" y1="640.00" x2="548.00" y2="652.40" stroke="#b4b4b4" stroke-width="0.8" />
<line x1="539.50" y1="646.30" x2="556.50" y2="646.30" stroke="#b4b4b4" stroke-width="0.8" />
<line x1="543.80" y1="640.00" x2="552.20" y2="640.00" stroke="#b4b4b4" stroke-width="0.8" />
<line x1="543.80" y1="652.40" x2="552.20" y2="652.40" stroke="#b4b4b4" stroke-width="0.8" />
<line x1="521.40" y1="598.90" x2="548.00" y2="598.90" stroke="#3a3a3a" stroke-width="0.8" />
<text x="534.70" y="596.48" font-size="6.60" textLength="9.35" lengthAdjust="spacingAndGlyphs" stroke="#262626" stroke-width="0.12" text-anchor="middle">NS</text>
<text x="521.40" y="707.12" font-size="7.00" textLength="30.05" lengthAdjust="spacingAndGlyphs" stroke="#262626" stroke-width="0.12" text-anchor="middle">Baseline</text>
<text x="548.00" y="707.12" font-size="7.00" textLength="15.41" lengthAdjust="spacingAndGlyphs" stroke="#262626" stroke-width="0.12" text-anchor="middle">Post</text>
<text x="548.00" y="715.12" font-size="7.00" textLength="17.65" lengthAdjust="spacingAndGlyphs" stroke="#262626" stroke-width="0.12" text-anchor="middle">αPD1</text>
<text transform="translate(464.80,647.50) rotate(-90)" y="2.81" font-size="7.80" textLength="46.70" lengthAdjust="spacingAndGlyphs" stroke="#262626" stroke-width="0.12" text-anchor="middle"><tspan font-style="italic">TIGIT</tspan> mRNA</text>
<text transform="translate(474.20,647.50) rotate(-90)" y="2.81" font-size="7.80" textLength="86.89" lengthAdjust="spacingAndGlyphs" stroke="#262626" stroke-width="0.12" text-anchor="middle">expression per patient</text>
<text x="573.60" y="596.20" font-size="12" font-weight="bold" fill="#000">p</text>
<line x1="622.30" y1="600.20" x2="622.30" y2="694.50" stroke="#8a8a8a" stroke-width="0.8" />
<line x1="618.20" y1="600.20" x2="622.30" y2="600.20" stroke="#8a8a8a" stroke-width="0.8" />
<text x="614.40" y="602.72" font-size="7.00" textLength="13.23" lengthAdjust="spacingAndGlyphs" stroke="#262626" stroke-width="0.12" text-anchor="end">0.15</text>
<line x1="618.20" y1="631.70" x2="622.30" y2="631.70" stroke="#8a8a8a" stroke-width="0.8" />
<text x="614.40" y="634.22" font-size="7.00" textLength="13.23" lengthAdjust="spacingAndGlyphs" stroke="#262626" stroke-width="0.12" text-anchor="end">0.10</text>
<line x1="618.20" y1="663.20" x2="622.30" y2="663.20" stroke="#8a8a8a" stroke-width="0.8" />
<text x="614.40" y="665.72" font-size="7.00" textLength="14.21" lengthAdjust="spacingAndGlyphs" stroke="#262626" stroke-width="0.12" text-anchor="end">0.05</text>
<line x1="618.20" y1="694.50" x2="622.30" y2="694.50" stroke="#8a8a8a" stroke-width="0.8" />
<text x="614.40" y="697.02" font-size="7.00" textLength="4.09" lengthAdjust="spacingAndGlyphs" stroke="#262626" stroke-width="0.12" text-anchor="end">0</text>
<line x1="622.30" y1="694.50" x2="685.00" y2="694.50" stroke="#6a6a6a" stroke-width="0.8" />
<line x1="640.00" y1="694.50" x2="640.00" y2="697.50" stroke="#aaa" stroke-width="0.8" />
<line x1="666.60" y1="694.50" x2="666.60" y2="697.50" stroke="#aaa" stroke-width="0.8" />
<circle cx="640.00" cy="680.50" r="2.70" fill="#000"/>
<circle cx="634.20" cy="694.50" r="2.70" fill="#000"/>
<circle cx="645.90" cy="694.50" r="2.70" fill="#000"/>
<circle cx="666.60" cy="617.40" r="2.70" fill="#3d5fb5" stroke="#1f2d66" stroke-width="0.6"/>
<circle cx="662.20" cy="643.20" r="2.70" fill="#3d5fb5" stroke="#1f2d66" stroke-width="0.6"/>
<circle cx="667.50" cy="642.80" r="2.70" fill="#3d5fb5" stroke="#1f2d66" stroke-width="0.6"/>
<circle cx="671.00" cy="641.90" r="2.70" fill="#3d5fb5" stroke="#1f2d66" stroke-width="0.6"/>
<circle cx="664.90" cy="654.20" r="2.70" fill="#3d5fb5" stroke="#1f2d66" stroke-width="0.6"/>
<circle cx="660.50" cy="656.50" r="2.70" fill="#3d5fb5" stroke="#1f2d66" stroke-width="0.6"/>
<circle cx="668.90" cy="658.60" r="2.70" fill="#3d5fb5" stroke="#1f2d66" stroke-width="0.6"/>
<circle cx="673.30" cy="659.50" r="2.70" fill="#3d5fb5" stroke="#1f2d66" stroke-width="0.6"/>
<circle cx="664.90" cy="661.70" r="2.70" fill="#3d5fb5" stroke="#1f2d66" stroke-width="0.6"/>
<circle cx="664.90" cy="683.50" r="2.70" fill="#3d5fb5" stroke="#1f2d66" stroke-width="0.6"/>
<circle cx="669.20" cy="684.90" r="2.70" fill="#3d5fb5" stroke="#1f2d66" stroke-width="0.6"/>
<circle cx="666.60" cy="691.00" r="2.70" fill="#3d5fb5" stroke="#1f2d66" stroke-width="0.6"/>
<line x1="640.00" y1="685.50" x2="640.00" y2="694.50" stroke="#b4b4b4" stroke-width="0.8" />
<line x1="631.50" y1="689.80" x2="648.50" y2="689.80" stroke="#b4b4b4" stroke-width="0.8" />
<line x1="635.80" y1="685.50" x2="644.20" y2="685.50" stroke="#b4b4b4" stroke-width="0.8" />
<line x1="635.80" y1="694.50" x2="644.20" y2="694.50" stroke="#b4b4b4" stroke-width="0.8" />
<line x1="666.60" y1="651.50" x2="666.60" y2="663.00" stroke="#b4b4b4" stroke-width="0.8" />
<line x1="658.10" y1="656.80" x2="675.10" y2="656.80" stroke="#b4b4b4" stroke-width="0.8" />
<line x1="662.40" y1="651.50" x2="670.80" y2="651.50" stroke="#b4b4b4" stroke-width="0.8" />
<line x1="662.40" y1="663.00" x2="670.80" y2="663.00" stroke="#b4b4b4" stroke-width="0.8" />
<line x1="640.00" y1="606.40" x2="666.60" y2="606.40" stroke="#3a3a3a" stroke-width="0.8" />
<text x="653.30" y="606.60" font-size="12.00" stroke="#262626" stroke-width="0.12" text-anchor="middle" font-weight="bold">*</text>
<text x="640.00" y="707.12" font-size="7.00" textLength="13.58" lengthAdjust="spacingAndGlyphs" stroke="#262626" stroke-width="0.12" text-anchor="middle">Res</text>
<text x="666.60" y="707.12" font-size="7.00" textLength="25.12" lengthAdjust="spacingAndGlyphs" stroke="#262626" stroke-width="0.12" text-anchor="middle">Nonres</text>
<text transform="translate(578.70,647.70) rotate(-90)" y="2.81" font-size="7.80" textLength="62.30" lengthAdjust="spacingAndGlyphs" stroke="#262626" stroke-width="0.12" text-anchor="middle"><tspan font-style="italic">TNFRSF8</tspan> mRNA</text>
<text transform="translate(588.20,647.70) rotate(-90)" y="2.81" font-size="7.80" textLength="86.89" lengthAdjust="spacingAndGlyphs" stroke="#262626" stroke-width="0.12" text-anchor="middle">expression per patient</text>
<text x="0.00" y="732.00" font-size="12" font-weight="bold" fill="#000">q</text>
<line x1="49.30" y1="756.30" x2="49.30" y2="852.20" stroke="#6f6f6f" stroke-width="0.8" />
<line x1="47.70" y1="852.20" x2="49.30" y2="852.20" stroke="#6f6f6f" stroke-width="0.8" />
<text x="43.70" y="855.08" font-size="8.00" textLength="4.67" lengthAdjust="spacingAndGlyphs" stroke="#262626" stroke-width="0.12" text-anchor="end">0</text>
<line x1="47.70" y1="842.61" x2="49.30" y2="842.61" stroke="#6f6f6f" stroke-width="0.8" />
<text x="43.70" y="845.49" font-size="8.00" textLength="15.13" lengthAdjust="spacingAndGlyphs" stroke="#262626" stroke-width="0.12" text-anchor="end">0.10</text>
<line x1="47.70" y1="833.02" x2="49.30" y2="833.02" stroke="#6f6f6f" stroke-width="0.8" />
<text x="43.70" y="835.90" font-size="8.00" textLength="16.24" lengthAdjust="spacingAndGlyphs" stroke="#262626" stroke-width="0.12" text-anchor="end">0.20</text>
<line x1="47.70" y1="823.43" x2="49.30" y2="823.43" stroke="#6f6f6f" stroke-width="0.8" />
<text x="43.70" y="826.31" font-size="8.00" textLength="16.24" lengthAdjust="spacingAndGlyphs" stroke="#262626" stroke-width="0.12" text-anchor="end">0.30</text>
<line x1="47.70" y1="813.84" x2="49.30" y2="813.84" stroke="#6f6f6f" stroke-width="0.8" />
<text x="43.70" y="816.72" font-size="8.00" textLength="16.24" lengthAdjust="spacingAndGlyphs" stroke="#262626" stroke-width="0.12" text-anchor="end">0.40</text>
<line x1="47.70" y1="804.25" x2="49.30" y2="804.25" stroke="#6f6f6f" stroke-width="0.8" />
<text x="43.70" y="807.13" font-size="8.00" textLength="16.24" lengthAdjust="spacingAndGlyphs" stroke="#262626" stroke-width="0.12" text-anchor="end">0.50</text>
<line x1="47.70" y1="794.66" x2="49.30" y2="794.66" stroke="#6f6f6f" stroke-width="0.8" />
<text x="43.70" y="797.54" font-size="8.00" textLength="16.24" lengthAdjust="spacingAndGlyphs" stroke="#262626" stroke-width="0.12" text-anchor="end">0.60</text>
<line x1="47.70" y1="785.07" x2="49.30" y2="785.07" stroke="#6f6f6f" stroke-width="0.8" />
<text x="43.70" y="787.95" font-size="8.00" textLength="16.24" lengthAdjust="spacingAndGlyphs" stroke="#262626" stroke-width="0.12" text-anchor="end">0.70</text>
<line x1="47.70" y1="775.48" x2="49.30" y2="775.48" stroke="#6f6f6f" stroke-width="0.8" />
<text x="43.70" y="778.36" font-size="8.00" textLength="16.24" lengthAdjust="spacingAndGlyphs" stroke="#262626" stroke-width="0.12" text-anchor="end">0.80</text>
<line x1="47.70" y1="765.89" x2="49.30" y2="765.89" stroke="#6f6f6f" stroke-width="0.8" />
<text x="43.70" y="768.77" font-size="8.00" textLength="16.24" lengthAdjust="spacingAndGlyphs" stroke="#262626" stroke-width="0.12" text-anchor="end">0.90</text>
<line x1="47.70" y1="756.30" x2="49.30" y2="756.30" stroke="#6f6f6f" stroke-width="0.8" />
<text x="43.70" y="759.18" font-size="8.00" textLength="15.13" lengthAdjust="spacingAndGlyphs" stroke="#262626" stroke-width="0.12" text-anchor="end">1.00</text>
<line x1="49.30" y1="852.20" x2="168.80" y2="852.20" stroke="#6f6f6f" stroke-width="0.8" />
<line x1="49.10" y1="852.20" x2="49.10" y2="854.70" stroke="#6f6f6f" stroke-width="0.8" />
<text x="49.10" y="863.21" font-size="7.80" textLength="4.55" lengthAdjust="spacingAndGlyphs" stroke="#262626" stroke-width="0.12" text-anchor="middle">0</text>
<line x1="82.70" y1="852.20" x2="82.70" y2="854.70" stroke="#6f6f6f" stroke-width="0.8" />
<text x="82.70" y="863.21" font-size="7.80" textLength="9.11" lengthAdjust="spacingAndGlyphs" stroke="#262626" stroke-width="0.12" text-anchor="middle">24</text>
<line x1="115.90" y1="852.20" x2="115.90" y2="854.70" stroke="#6f6f6f" stroke-width="0.8" />
<text x="115.90" y="863.21" font-size="7.80" textLength="9.11" lengthAdjust="spacingAndGlyphs" stroke="#262626" stroke-width="0.12" text-anchor="middle">48</text>
<line x1="148.90" y1="852.20" x2="148.90" y2="854.70" stroke="#6f6f6f" stroke-width="0.8" />
<text x="148.90" y="863.21" font-size="7.80" textLength="9.11" lengthAdjust="spacingAndGlyphs" stroke="#262626" stroke-width="0.12" text-anchor="middle">72</text>
<text x="108.50" y="731.95" font-size="8.20" textLength="69.11" lengthAdjust="spacingAndGlyphs" stroke="#262626" stroke-width="0.12" text-anchor="middle">Uveal melanoma</text>
<text x="108.50" y="744.45" font-size="8.20" textLength="67.17" lengthAdjust="spacingAndGlyphs" stroke="#262626" stroke-width="0.12" text-anchor="middle"><tspan font-style="italic">TNFRSF8</tspan> (CD30)</text>
<text transform="translate(7.50,804.00) rotate(-90)" y="2.88" font-size="8.00" textLength="28.14" lengthAdjust="spacingAndGlyphs" stroke="#262626" stroke-width="0.12" text-anchor="middle">Overall</text>
<text transform="translate(16.80,804.00) rotate(-90)" y="2.88" font-size="8.00" textLength="74.71" lengthAdjust="spacingAndGlyphs" stroke="#262626" stroke-width="0.12" text-anchor="middle">survival probability</text>
<path d="M49.10,755.40 L66.50,755.40 L66.50,761.60 L75.20,761.60 L75.20,768.30 L76.40,768.30 L76.40,775.20 L88.90,775.20 L88.90,783.20 L92.30,783.20 L92.30,791.40 L99.80,791.40 L99.80,803.80 L106.70,803.80 L106.70,815.40 L108.50,815.40 L108.50,827.10 L110.90,827.10 L110.90,839.80 L134.00,839.80" fill="none" stroke="#5360c2" stroke-width="0.8" stroke-linejoin="round"/>
<path d="M49.10,755.40 L78.20,755.40 L78.20,757.60 L112.20,757.60 L112.20,771.30 L168.80,771.30" fill="none" stroke="#d8423f" stroke-width="0.8" stroke-linejoin="round"/>
<text x="52.90" y="837.72" font-size="7.00" textLength="42.03" lengthAdjust="spacingAndGlyphs" stroke="#5360c2" stroke-width="0.12" fill="#5360c2">High (<tspan font-style="italic">n</tspan> = 19)</text>
<text x="52.90" y="848.32" font-size="7.00" textLength="41.37" lengthAdjust="spacingAndGlyphs" stroke="#d8423f" stroke-width="0.12" fill="#d8423f">Low (<tspan font-style="italic">n</tspan> = 49)</text>
<text x="167.50" y="849.12" font-size="7.00" textLength="46.53" lengthAdjust="spacingAndGlyphs" stroke="#262626" stroke-width="0.12" text-anchor="end"><tspan font-style="italic">P</tspan> = 6.51 × 10<tspan font-size="4.6" baseline-shift="3">−6</tspan></text>
<line x1="226.70" y1="755.70" x2="226.70" y2="852.10" stroke="#6f6f6f" stroke-width="0.8" />
<line x1="225.10" y1="852.10" x2="226.70" y2="852.10" stroke="#6f6f6f" stroke-width="0.8" />
<text x="221.10" y="854.98" font-size="8.00" textLength="4.67" lengthAdjust="spacingAndGlyphs" stroke="#262626" stroke-width="0.12" text-anchor="end">0</text>
<line x1="225.10" y1="842.46" x2="226.70" y2="842.46" stroke="#6f6f6f" stroke-width="0.8" />
<text x="221.10" y="845.34" font-size="8.00" textLength="15.13" lengthAdjust="spacingAndGlyphs" stroke="#262626" stroke-width="0.12" text-anchor="end">0.10</text>
<line x1="225.10" y1="832.82" x2="226.70" y2="832.82" stroke="#6f6f6f" stroke-width="0.8" />
<text x="221.10" y="835.70" font-size="8.00" textLength="16.24" lengthAdjust="spacingAndGlyphs" stroke="#262626" stroke-width="0.12" text-anchor="end">0.20</text>
<line x1="225.10" y1="823.18" x2="226.70" y2="823.18" stroke="#6f6f6f" stroke-width="0.8" />
<text x="221.10" y="826.06" font-size="8.00" textLength="16.24" lengthAdjust="spacingAndGlyphs" stroke="#262626" stroke-width="0.12" text-anchor="end">0.30</text>
<line x1="225.10" y1="813.54" x2="226.70" y2="813.54" stroke="#6f6f6f" stroke-width="0.8" />
<text x="221.10" y="816.42" font-size="8.00" textLength="16.24" lengthAdjust="spacingAndGlyphs" stroke="#262626" stroke-width="0.12" text-anchor="end">0.40</text>
<line x1="225.10" y1="803.90" x2="226.70" y2="803.90" stroke="#6f6f6f" stroke-width="0.8" />
<text x="221.10" y="806.78" font-size="8.00" textLength="16.24" lengthAdjust="spacingAndGlyphs" stroke="#262626" stroke-width="0.12" text-anchor="end">0.50</text>
<line x1="225.10" y1="794.26" x2="226.70" y2="794.26" stroke="#6f6f6f" stroke-width="0.8" />
<text x="221.10" y="797.14" font-size="8.00" textLength="16.24" lengthAdjust="spacingAndGlyphs" stroke="#262626" stroke-width="0.12" text-anchor="end">0.60</text>
<line x1="225.10" y1="784.62" x2="226.70" y2="784.62" stroke="#6f6f6f" stroke-width="0.8" />
<text x="221.10" y="787.50" font-size="8.00" textLength="16.24" lengthAdjust="spacingAndGlyphs" stroke="#262626" stroke-width="0.12" text-anchor="end">0.70</text>
<line x1="225.10" y1="774.98" x2="226.70" y2="774.98" stroke="#6f6f6f" stroke-width="0.8" />
<text x="221.10" y="777.86" font-size="8.00" textLength="16.24" lengthAdjust="spacingAndGlyphs" stroke="#262626" stroke-width="0.12" text-anchor="end">0.80</text>
<line x1="225.10" y1="765.34" x2="226.70" y2="765.34" stroke="#6f6f6f" stroke-width="0.8" />
<text x="221.10" y="768.22" font-size="8.00" textLength="16.24" lengthAdjust="spacingAndGlyphs" stroke="#262626" stroke-width="0.12" text-anchor="end">0.90</text>
<line x1="225.10" y1="755.70" x2="226.70" y2="755.70" stroke="#6f6f6f" stroke-width="0.8" />
<text x="221.10" y="758.58" font-size="8.00" textLength="15.13" lengthAdjust="spacingAndGlyphs" stroke="#262626" stroke-width="0.12" text-anchor="end">1.00</text>
<line x1="226.70" y1="852.10" x2="340.50" y2="852.10" stroke="#6f6f6f" stroke-width="0.8" />
<line x1="226.70" y1="852.10" x2="226.70" y2="854.60" stroke="#6f6f6f" stroke-width="0.8" />
<text x="226.70" y="863.21" font-size="7.80" textLength="4.55" lengthAdjust="spacingAndGlyphs" stroke="#262626" stroke-width="0.12" text-anchor="middle">0</text>
<line x1="245.70" y1="852.10" x2="245.70" y2="854.60" stroke="#6f6f6f" stroke-width="0.8" />
<text x="245.70" y="863.21" font-size="7.80" textLength="9.11" lengthAdjust="spacingAndGlyphs" stroke="#262626" stroke-width="0.12" text-anchor="middle">24</text>
<line x1="264.30" y1="852.10" x2="264.30" y2="854.60" stroke="#6f6f6f" stroke-width="0.8" />
<text x="264.30" y="863.21" font-size="7.80" textLength="9.11" lengthAdjust="spacingAndGlyphs" stroke="#262626" stroke-width="0.12" text-anchor="middle">48</text>
<line x1="283.20" y1="852.10" x2="283.20" y2="854.60" stroke="#6f6f6f" stroke-width="0.8" />
<text x="283.20" y="863.21" font-size="7.80" textLength="9.11" lengthAdjust="spacingAndGlyphs" stroke="#262626" stroke-width="0.12" text-anchor="middle">72</text>
<line x1="301.60" y1="852.10" x2="301.60" y2="854.60" stroke="#6f6f6f" stroke-width="0.8" />
<text x="301.60" y="863.21" font-size="7.80" textLength="9.11" lengthAdjust="spacingAndGlyphs" stroke="#262626" stroke-width="0.12" text-anchor="middle">96</text>
<line x1="320.00" y1="852.10" x2="320.00" y2="854.60" stroke="#6f6f6f" stroke-width="0.8" />
<text x="320.00" y="863.21" font-size="7.80" textLength="12.58" lengthAdjust="spacingAndGlyphs" stroke="#262626" stroke-width="0.12" text-anchor="middle">120</text>
<line x1="338.40" y1="852.10" x2="338.40" y2="854.60" stroke="#6f6f6f" stroke-width="0.8" />
<text x="338.40" y="863.21" font-size="7.80" textLength="12.58" lengthAdjust="spacingAndGlyphs" stroke="#262626" stroke-width="0.12" text-anchor="middle">144</text>
<text x="283.20" y="731.95" font-size="8.20" textLength="111.06" lengthAdjust="spacingAndGlyphs" stroke="#262626" stroke-width="0.12" text-anchor="middle">Lung squamous carcinoma</text>
<text x="283.20" y="744.45" font-size="8.20" textLength="67.17" lengthAdjust="spacingAndGlyphs" stroke="#262626" stroke-width="0.12" text-anchor="middle"><tspan font-style="italic">TNFRSF8</tspan> (CD30)</text>
<text transform="translate(185.80,804.00) rotate(-90)" y="2.88" font-size="8.00" textLength="28.14" lengthAdjust="spacingAndGlyphs" stroke="#262626" stroke-width="0.12" text-anchor="middle">Overall</text>
<text transform="translate(194.50,804.00) rotate(-90)" y="2.88" font-size="8.00" textLength="74.71" lengthAdjust="spacingAndGlyphs" stroke="#262626" stroke-width="0.12" text-anchor="middle">survival probability</text>
<path d="M226.75,755.85 L229.38,755.85 L229.38,761.64 L232.88,761.64 L232.88,766.02 L235.51,766.02 L235.51,773.02 L238.14,773.02 L238.14,780.03 L241.64,780.03 L241.64,785.29 L245.15,785.29 L245.15,787.91 L248.65,787.91 L248.65,790.54 L252.15,790.54 L252.15,794.92 L255.66,794.92 L255.66,798.43 L259.16,798.43 L259.16,801.05 L262.67,801.05 L262.67,802.46 L266.17,802.46 L266.17,804.21 L269.67,804.21 L269.67,804.56 L272.30,804.56 L272.30,808.06 L274.93,808.06 L274.93,809.81 L277.56,809.81 L277.56,815.07 L280.19,815.07 L280.19,821.20 L283.69,821.20 L283.69,826.46 L288.07,826.46 L288.07,826.98 L289.82,826.98 L289.82,831.71 L295.08,831.71 L295.08,832.24 L296.83,832.24 L296.83,837.84 L310.84,837.84 L310.84,838.19 L311.72,838.19 L311.72,840.47 L340.63,840.47 L340.63,840.47" fill="none" stroke="#5360c2" stroke-width="0.8" stroke-linejoin="round"/>
<path d="M226.75,755.85 L230.26,755.85 L230.26,758.66 L233.76,758.66 L233.76,761.64 L237.26,761.64 L237.26,764.61 L240.77,764.61 L240.77,767.77 L243.40,767.77 L243.40,772.15 L246.90,772.15 L246.90,775.65 L250.40,775.65 L250.40,778.63 L253.03,778.63 L253.03,782.13 L257.41,782.13 L257.41,787.91 L261.79,787.91 L261.79,788.79 L265.29,788.79 L265.29,791.42 L269.67,791.42 L269.67,791.94 L272.30,791.94 L272.30,794.92 L275.81,794.92 L275.81,797.55 L281.94,797.55 L281.94,797.90 L285.44,797.90 L285.44,801.93 L288.95,801.93 L288.95,804.56 L294.20,804.56 L294.20,805.43 L296.83,805.43 L296.83,808.06 L300.33,808.06 L300.33,809.81 L302.96,809.81 L302.96,813.32 L307.34,813.32 L307.34,814.19 L310.84,814.19 L310.84,818.22 L326.61,818.22 L326.61,818.57 L328.01,818.57 L328.01,824.18 L340.63,824.18 L340.63,824.18" fill="none" stroke="#d8423f" stroke-width="0.8" stroke-linejoin="round"/>
<text x="230.30" y="837.72" font-size="7.00" textLength="47.09" lengthAdjust="spacingAndGlyphs" stroke="#5360c2" stroke-width="0.12" fill="#5360c2">High (<tspan font-style="italic">n</tspan> = 250)</text>
<text x="230.30" y="848.32" font-size="7.00" textLength="44.48" lengthAdjust="spacingAndGlyphs" stroke="#d8423f" stroke-width="0.12" fill="#d8423f">Low (<tspan font-style="italic">n</tspan> = 218)</text>
<text x="339.70" y="849.12" font-size="7.00" textLength="47.50" lengthAdjust="spacingAndGlyphs" stroke="#262626" stroke-width="0.12" text-anchor="end">P = 3.53 × 10<tspan font-size="4.6" baseline-shift="3">−5</tspan></text>
<line x1="399.90" y1="756.20" x2="399.90" y2="852.10" stroke="#6f6f6f" stroke-width="0.8" />
<line x1="398.30" y1="852.10" x2="399.90" y2="852.10" stroke="#6f6f6f" stroke-width="0.8" />
<text x="394.30" y="854.98" font-size="8.00" textLength="4.67" lengthAdjust="spacingAndGlyphs" stroke="#262626" stroke-width="0.12" text-anchor="end">0</text>
<line x1="398.30" y1="842.51" x2="399.90" y2="842.51" stroke="#6f6f6f" stroke-width="0.8" />
<text x="394.30" y="845.39" font-size="8.00" textLength="15.13" lengthAdjust="spacingAndGlyphs" stroke="#262626" stroke-width="0.12" text-anchor="end">0.10</text>
<line x1="398.30" y1="832.92" x2="399.90" y2="832.92" stroke="#6f6f6f" stroke-width="0.8" />
<text x="394.30" y="835.80" font-size="8.00" textLength="16.24" lengthAdjust="spacingAndGlyphs" stroke="#262626" stroke-width="0.12" text-anchor="end">0.20</text>
<line x1="398.30" y1="823.33" x2="399.90" y2="823.33" stroke="#6f6f6f" stroke-width="0.8" />
<text x="394.30" y="826.21" font-size="8.00" textLength="16.24" lengthAdjust="spacingAndGlyphs" stroke="#262626" stroke-width="0.12" text-anchor="end">0.30</text>
<line x1="398.30" y1="813.74" x2="399.90" y2="813.74" stroke="#6f6f6f" stroke-width="0.8" />
<text x="394.30" y="816.62" font-size="8.00" textLength="16.24" lengthAdjust="spacingAndGlyphs" stroke="#262626" stroke-width="0.12" text-anchor="end">0.40</text>
<line x1="398.30" y1="804.15" x2="399.90" y2="804.15" stroke="#6f6f6f" stroke-width="0.8" />
<text x="394.30" y="807.03" font-size="8.00" textLength="16.24" lengthAdjust="spacingAndGlyphs" stroke="#262626" stroke-width="0.12" text-anchor="end">0.50</text>
<line x1="398.30" y1="794.56" x2="399.90" y2="794.56" stroke="#6f6f6f" stroke-width="0.8" />
<text x="394.30" y="797.44" font-size="8.00" textLength="16.24" lengthAdjust="spacingAndGlyphs" stroke="#262626" stroke-width="0.12" text-anchor="end">0.60</text>
<line x1="398.30" y1="784.97" x2="399.90" y2="784.97" stroke="#6f6f6f" stroke-width="0.8" />
<text x="394.30" y="787.85" font-size="8.00" textLength="16.24" lengthAdjust="spacingAndGlyphs" stroke="#262626" stroke-width="0.12" text-anchor="end">0.70</text>
<line x1="398.30" y1="775.38" x2="399.90" y2="775.38" stroke="#6f6f6f" stroke-width="0.8" />
<text x="394.30" y="778.26" font-size="8.00" textLength="16.24" lengthAdjust="spacingAndGlyphs" stroke="#262626" stroke-width="0.12" text-anchor="end">0.80</text>
<line x1="398.30" y1="765.79" x2="399.90" y2="765.79" stroke="#6f6f6f" stroke-width="0.8" />
<text x="394.30" y="768.67" font-size="8.00" textLength="16.24" lengthAdjust="spacingAndGlyphs" stroke="#262626" stroke-width="0.12" text-anchor="end">0.90</text>
<line x1="398.30" y1="756.20" x2="399.90" y2="756.20" stroke="#6f6f6f" stroke-width="0.8" />
<text x="394.30" y="759.08" font-size="8.00" textLength="15.13" lengthAdjust="spacingAndGlyphs" stroke="#262626" stroke-width="0.12" text-anchor="end">1.00</text>
<line x1="399.90" y1="852.10" x2="510.80" y2="852.10" stroke="#6f6f6f" stroke-width="0.8" />
<line x1="399.90" y1="852.10" x2="399.90" y2="854.60" stroke="#6f6f6f" stroke-width="0.8" />
<text x="399.90" y="863.21" font-size="7.80" textLength="4.55" lengthAdjust="spacingAndGlyphs" stroke="#262626" stroke-width="0.12" text-anchor="middle">0</text>
<line x1="422.80" y1="852.10" x2="422.80" y2="854.60" stroke="#6f6f6f" stroke-width="0.8" />
<text x="422.80" y="863.21" font-size="7.80" textLength="9.11" lengthAdjust="spacingAndGlyphs" stroke="#262626" stroke-width="0.12" text-anchor="middle">24</text>
<line x1="445.10" y1="852.10" x2="445.10" y2="854.60" stroke="#6f6f6f" stroke-width="0.8" />
<text x="445.10" y="863.21" font-size="7.80" textLength="9.11" lengthAdjust="spacingAndGlyphs" stroke="#262626" stroke-width="0.12" text-anchor="middle">48</text>
<line x1="467.40" y1="852.10" x2="467.40" y2="854.60" stroke="#6f6f6f" stroke-width="0.8" />
<text x="467.40" y="863.21" font-size="7.80" textLength="9.11" lengthAdjust="spacingAndGlyphs" stroke="#262626" stroke-width="0.12" text-anchor="middle">72</text>
<line x1="489.20" y1="852.10" x2="489.20" y2="854.60" stroke="#6f6f6f" stroke-width="0.8" />
<text x="489.20" y="863.21" font-size="7.80" textLength="9.11" lengthAdjust="spacingAndGlyphs" stroke="#262626" stroke-width="0.12" text-anchor="middle">96</text>
<text x="455.10" y="731.95" font-size="8.20" textLength="74.92" lengthAdjust="spacingAndGlyphs" stroke="#262626" stroke-width="0.12" text-anchor="middle">Mixed tumor colon</text>
<text x="455.10" y="744.45" font-size="8.20" textLength="67.17" lengthAdjust="spacingAndGlyphs" stroke="#262626" stroke-width="0.12" text-anchor="middle"><tspan font-style="italic">TNFRSF8</tspan> (CD30)</text>
<text transform="translate(358.30,804.00) rotate(-90)" y="2.88" font-size="8.00" textLength="40.76" lengthAdjust="spacingAndGlyphs" stroke="#262626" stroke-width="0.12" text-anchor="middle">Metastatic</text>
<text transform="translate(367.90,804.00) rotate(-90)" y="2.88" font-size="8.00" textLength="102.01" lengthAdjust="spacingAndGlyphs" stroke="#262626" stroke-width="0.12" text-anchor="middle">3-year survival probability</text>
<path d="M399.91,756.23 L405.69,756.23 L405.69,761.49 L408.31,761.49 L408.31,770.16 L410.42,770.16 L410.42,777.25 L413.04,777.25 L413.04,797.49 L466.64,797.49" fill="none" stroke="#5360c2" stroke-width="0.8" stroke-linejoin="round"/>
<path d="M399.91,756.23 L404.37,756.23 L404.37,756.23 L407.00,756.23 L407.00,757.55 L409.63,757.55 L409.63,760.18 L412.25,760.18 L412.25,762.80 L414.88,762.80 L414.88,764.91 L417.51,764.91 L417.51,766.74 L420.14,766.74 L420.14,768.85 L424.08,768.85 L424.08,769.37 L426.71,769.37 L426.71,770.16 L431.96,770.16 L431.96,771.21 L433.27,771.21 L433.27,772.79 L438.53,772.79 L438.53,772.79 L439.84,772.79 L439.84,774.63 L510.78,774.63 L510.78,774.63" fill="none" stroke="#d8423f" stroke-width="0.8" stroke-linejoin="round"/>
<text x="403.50" y="837.72" font-size="7.00" textLength="42.03" lengthAdjust="spacingAndGlyphs" stroke="#5360c2" stroke-width="0.12" fill="#5360c2">High (<tspan font-style="italic">n</tspan> = 15)</text>
<text x="403.50" y="848.32" font-size="7.00" textLength="41.37" lengthAdjust="spacingAndGlyphs" stroke="#d8423f" stroke-width="0.12" fill="#d8423f">Low (<tspan font-style="italic">n</tspan> = 74)</text>
<text x="506.00" y="849.12" font-size="7.00" textLength="25.97" lengthAdjust="spacingAndGlyphs" stroke="#262626" stroke-width="0.12" text-anchor="end">P = 0.01</text>
<line x1="570.70" y1="756.20" x2="570.70" y2="852.10" stroke="#6f6f6f" stroke-width="0.8" />
<line x1="569.10" y1="852.10" x2="570.70" y2="852.10" stroke="#6f6f6f" stroke-width="0.8" />
<text x="565.10" y="854.98" font-size="8.00" textLength="4.67" lengthAdjust="spacingAndGlyphs" stroke="#262626" stroke-width="0.12" text-anchor="end">0</text>
<line x1="569.10" y1="842.51" x2="570.70" y2="842.51" stroke="#6f6f6f" stroke-width="0.8" />
<text x="565.10" y="845.39" font-size="8.00" textLength="15.13" lengthAdjust="spacingAndGlyphs" stroke="#262626" stroke-width="0.12" text-anchor="end">0.10</text>
<line x1="569.10" y1="832.92" x2="570.70" y2="832.92" stroke="#6f6f6f" stroke-width="0.8" />
<text x="565.10" y="835.80" font-size="8.00" textLength="16.24" lengthAdjust="spacingAndGlyphs" stroke="#262626" stroke-width="0.12" text-anchor="end">0.20</text>
<line x1="569.10" y1="823.33" x2="570.70" y2="823.33" stroke="#6f6f6f" stroke-width="0.8" />
<text x="565.10" y="826.21" font-size="8.00" textLength="16.24" lengthAdjust="spacingAndGlyphs" stroke="#262626" stroke-width="0.12" text-anchor="end">0.30</text>
<line x1="569.10" y1="813.74" x2="570.70" y2="813.74" stroke="#6f6f6f" stroke-width="0.8" />
<text x="565.10" y="816.62" font-size="8.00" textLength="16.24" lengthAdjust="spacingAndGlyphs" stroke="#262626" stroke-width="0.12" text-anchor="end">0.40</text>
<line x1="569.10" y1="804.15" x2="570.70" y2="804.15" stroke="#6f6f6f" stroke-width="0.8" />
<text x="565.10" y="807.03" font-size="8.00" textLength="16.24" lengthAdjust="spacingAndGlyphs" stroke="#262626" stroke-width="0.12" text-anchor="end">0.50</text>
<line x1="569.10" y1="794.56" x2="570.70" y2="794.56" stroke="#6f6f6f" stroke-width="0.8" />
<text x="565.10" y="797.44" font-size="8.00" textLength="16.24" lengthAdjust="spacingAndGlyphs" stroke="#262626" stroke-width="0.12" text-anchor="end">0.60</text>
<line x1="569.10" y1="784.97" x2="570.70" y2="784.97" stroke="#6f6f6f" stroke-width="0.8" />
<text x="565.10" y="787.85" font-size="8.00" textLength="16.24" lengthAdjust="spacingAndGlyphs" stroke="#262626" stroke-width="0.12" text-anchor="end">0.70</text>
<line x1="569.10" y1="775.38" x2="570.70" y2="775.38" stroke="#6f6f6f" stroke-width="0.8" />
<text x="565.10" y="778.26" font-size="8.00" textLength="16.24" lengthAdjust="spacingAndGlyphs" stroke="#262626" stroke-width="0.12" text-anchor="end">0.80</text>
<line x1="569.10" y1="765.79" x2="570.70" y2="765.79" stroke="#6f6f6f" stroke-width="0.8" />
<text x="565.10" y="768.67" font-size="8.00" textLength="16.24" lengthAdjust="spacingAndGlyphs" stroke="#262626" stroke-width="0.12" text-anchor="end">0.90</text>
<line x1="569.10" y1="756.20" x2="570.70" y2="756.20" stroke="#6f6f6f" stroke-width="0.8" />
<text x="565.10" y="759.08" font-size="8.00" textLength="15.13" lengthAdjust="spacingAndGlyphs" stroke="#262626" stroke-width="0.12" text-anchor="end">1.00</text>
<line x1="570.70" y1="852.10" x2="683.10" y2="852.10" stroke="#6f6f6f" stroke-width="0.8" />
<line x1="570.70" y1="852.10" x2="570.70" y2="854.60" stroke="#6f6f6f" stroke-width="0.8" />
<text x="570.70" y="863.21" font-size="7.80" textLength="4.55" lengthAdjust="spacingAndGlyphs" stroke="#262626" stroke-width="0.12" text-anchor="middle">0</text>
<line x1="597.50" y1="852.10" x2="597.50" y2="854.60" stroke="#6f6f6f" stroke-width="0.8" />
<text x="597.50" y="863.21" font-size="7.80" textLength="9.11" lengthAdjust="spacingAndGlyphs" stroke="#262626" stroke-width="0.12" text-anchor="middle">24</text>
<line x1="625.30" y1="852.10" x2="625.30" y2="854.60" stroke="#6f6f6f" stroke-width="0.8" />
<text x="625.30" y="863.21" font-size="7.80" textLength="9.11" lengthAdjust="spacingAndGlyphs" stroke="#262626" stroke-width="0.12" text-anchor="middle">48</text>
<line x1="651.60" y1="852.10" x2="651.60" y2="854.60" stroke="#6f6f6f" stroke-width="0.8" />
<text x="651.60" y="863.21" font-size="7.80" textLength="9.11" lengthAdjust="spacingAndGlyphs" stroke="#262626" stroke-width="0.12" text-anchor="middle">72</text>
<line x1="678.90" y1="852.10" x2="678.90" y2="854.60" stroke="#6f6f6f" stroke-width="0.8" />
<text x="678.90" y="863.21" font-size="7.80" textLength="9.11" lengthAdjust="spacingAndGlyphs" stroke="#262626" stroke-width="0.12" text-anchor="middle">96</text>
<text x="626.40" y="731.95" font-size="8.20" textLength="78.55" lengthAdjust="spacingAndGlyphs" stroke="#262626" stroke-width="0.12" text-anchor="middle">Mixed tumor breast</text>
<text x="626.40" y="744.45" font-size="8.20" textLength="67.17" lengthAdjust="spacingAndGlyphs" stroke="#262626" stroke-width="0.12" text-anchor="middle"><tspan font-style="italic">TNFRSF8</tspan> (CD30)</text>
<text transform="translate(529.00,804.00) rotate(-90)" y="2.88" font-size="8.00" textLength="28.14" lengthAdjust="spacingAndGlyphs" stroke="#262626" stroke-width="0.12" text-anchor="middle">Overall</text>
<text transform="translate(538.50,804.00) rotate(-90)" y="2.88" font-size="8.00" textLength="74.71" lengthAdjust="spacingAndGlyphs" stroke="#262626" stroke-width="0.12" text-anchor="middle">survival probability</text>
<path d="M570.69,756.23 L573.84,756.23 L573.84,758.86 L577.25,758.86 L577.25,761.49 L581.20,761.49 L581.20,764.12 L585.14,764.12 L585.14,766.74 L589.08,766.74 L589.08,768.85 L593.02,768.85 L593.02,771.21 L598.27,771.21 L598.27,772.00 L599.59,772.00 L599.59,774.63 L604.84,774.63 L604.84,775.94 L607.47,775.94 L607.47,779.09 L610.10,779.09 L610.10,781.20 L612.20,781.20 L612.20,783.82 L615.35,783.82 L615.35,786.45 L619.29,786.45 L619.29,788.55 L623.23,788.55 L623.23,790.39 L633.74,790.39 L633.74,791.18 L635.06,791.18 L635.06,793.02 L639.00,793.02 L639.00,794.33 L641.63,794.33 L641.63,795.65 L646.88,795.65 L646.88,797.49 L661.33,797.49 L661.33,797.49 L662.12,797.49 L662.12,802.21 L683.14,802.21 L683.14,802.21" fill="none" stroke="#5360c2" stroke-width="0.8" stroke-linejoin="round"/>
<path d="M570.69,756.23 L583.82,756.23 L583.82,756.23 L586.45,756.23 L586.45,758.34 L590.39,758.34 L590.39,758.34 L591.71,758.34 L591.71,760.96 L598.27,760.96 L598.27,760.96 L599.59,760.96 L599.59,762.80 L603.53,762.80 L603.53,762.80 L604.84,762.80 L604.84,764.91 L608.78,764.91 L608.78,766.74 L611.41,766.74 L611.41,769.37 L615.35,769.37 L615.35,769.37 L616.67,769.37 L616.67,772.00 L620.61,772.00 L620.61,772.79 L633.74,772.79 L633.74,773.84 L635.06,773.84 L635.06,775.42 L641.63,775.42 L641.63,776.47 L646.88,776.47 L646.88,778.04 L650.82,778.04 L650.82,779.88 L654.76,779.88 L654.76,781.72 L656.08,781.72 L656.08,782.51 L683.14,782.51 L683.14,782.51" fill="none" stroke="#d8423f" stroke-width="0.8" stroke-linejoin="round"/>
<text x="574.30" y="837.72" font-size="7.00" textLength="42.03" lengthAdjust="spacingAndGlyphs" stroke="#5360c2" stroke-width="0.12" fill="#5360c2">High (<tspan font-style="italic">n</tspan> = 51)</text>
<text x="574.30" y="848.32" font-size="7.00" textLength="41.37" lengthAdjust="spacingAndGlyphs" stroke="#d8423f" stroke-width="0.12" fill="#d8423f">Low (<tspan font-style="italic">n</tspan> = 53)</text>
<text x="679.70" y="849.12" font-size="7.00" textLength="26.95" lengthAdjust="spacingAndGlyphs" stroke="#262626" stroke-width="0.12" text-anchor="end"><tspan font-style="italic">P</tspan> = 0.03</text>
</svg>
</body></html>
